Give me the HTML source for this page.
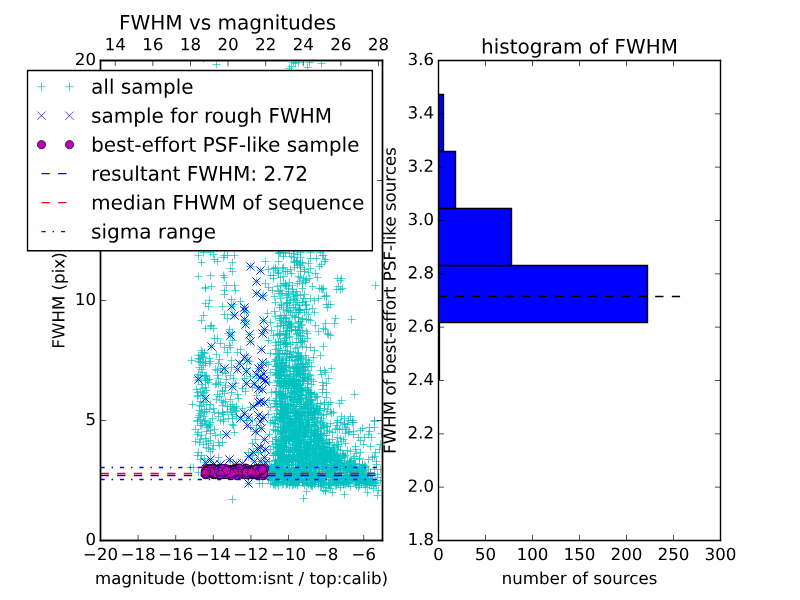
<!DOCTYPE html>
<html><head><meta charset="utf-8"><title>FWHM vs magnitudes</title>
<style>html,body{margin:0;padding:0;background:#fff;font-family:"Liberation Sans",sans-serif;}svg{display:block;}</style>
</head><body>
<svg width="800" height="600" viewBox="0 0 576 432" version="1.1">
 
 <defs><clipPath id="cax"><rect x="100.5" y="60.5" width="282" height="480"/></clipPath>
  <style type="text/css">*{stroke-linejoin: round; stroke-linecap: butt}</style>
 </defs>
 <g id="figure_1">
  <g id="patch_1">
   <path d="M 0 432 
L 576 432 
L 576 0 
L 0 0 
z
" style="fill: #ffffff"/>
  </g>
  <g id="axes_1">
   <g id="patch_2">
    <path d="M 72.36 389.16 
L 275.4 389.16 
L 275.4 43.56 
L 72.36 43.56 
z
" style="fill: #ffffff"/>
   </g>
   <defs>
     <path id="m5d0e172940" d="M -3 0 
L 3 0 
M 0 3 
L 0 -3 
" style="stroke: #00bfbf; stroke-width: 0.5"/>
    </defs><g transform="scale(0.72)"><g clip-path="url(#cax)" style="fill:none;stroke:#00bfbf;stroke-width:0.6944"><path d="M298.5 482.5h8M302.5 478.5v8"/><path d="M296.5 394.5h8M300.5 390.5v8"/><path d="M297.5 462.5h8M301.5 458.5v8"/><path d="M366.5 479.5h8M370.5 475.5v8"/><path d="M337.5 475.5h8M341.5 471.5v8"/><path d="M281.5 252.5h8M285.5 248.5v8"/><path d="M357.5 483.5h8M361.5 479.5v8"/><path d="M194.5 472.5h8M198.5 468.5v8"/><path d="M277.5 475.5h8M281.5 471.5v8"/><path d="M289.5 371.5h8M293.5 367.5v8"/><path d="M363.5 492.5h8M367.5 488.5v8"/><path d="M215.5 469.5h8M219.5 465.5v8"/><path d="M281.5 473.5h8M285.5 469.5v8"/><path d="M326.5 451.5h8M330.5 447.5v8"/><path d="M305.5 449.5h8M309.5 445.5v8"/><path d="M288.5 342.5h8M292.5 338.5v8"/><path d="M315.5 449.5h8M319.5 445.5v8"/><path d="M285.5 382.5h8M289.5 378.5v8"/><path d="M303.5 366.5h8M307.5 362.5v8"/><path d="M274.5 357.5h8M278.5 353.5v8"/><path d="M211.5 471.5h8M215.5 467.5v8"/><path d="M244.5 456.5h8M248.5 452.5v8"/><path d="M272.5 464.5h8M276.5 460.5v8"/><path d="M301.5 280.5h8M305.5 276.5v8"/><path d="M347.5 474.5h8M351.5 470.5v8"/><path d="M345.5 480.5h8M349.5 476.5v8"/><path d="M288.5 444.5h8M292.5 440.5v8"/><path d="M294.5 449.5h8M298.5 445.5v8"/><path d="M279.5 422.5h8M283.5 418.5v8"/><path d="M285.5 331.5h8M289.5 327.5v8"/><path d="M279.5 385.5h8M283.5 381.5v8"/><path d="M286.5 312.5h8M290.5 308.5v8"/><path d="M326.5 458.5h8M330.5 454.5v8"/><path d="M274.5 447.5h8M278.5 443.5v8"/><path d="M308.5 449.5h8M312.5 445.5v8"/><path d="M284.5 418.5h8M288.5 414.5v8"/><path d="M299.5 427.5h8M303.5 423.5v8"/><path d="M269.5 429.5h8M273.5 425.5v8"/><path d="M293.5 383.5h8M297.5 379.5v8"/><path d="M290.5 399.5h8M294.5 395.5v8"/><path d="M291.5 388.5h8M295.5 384.5v8"/><path d="M280.5 365.5h8M284.5 361.5v8"/><path d="M294.5 451.5h8M298.5 447.5v8"/><path d="M358.5 464.5h8M362.5 460.5v8"/><path d="M202.5 471.5h8M206.5 467.5v8"/><path d="M274.5 455.5h8M278.5 451.5v8"/><path d="M309.5 408.5h8M313.5 404.5v8"/><path d="M272.5 345.5h8M276.5 341.5v8"/><path d="M333.5 480.5h8M337.5 476.5v8"/><path d="M287.5 476.5h8M291.5 472.5v8"/><path d="M259.5 473.5h8M263.5 469.5v8"/><path d="M276.5 427.5h8M280.5 423.5v8"/><path d="M343.5 476.5h8M347.5 472.5v8"/><path d="M232.5 406.5h8M236.5 402.5v8"/><path d="M270.5 469.5h8M274.5 465.5v8"/><path d="M204.5 470.5h8M208.5 466.5v8"/><path d="M295.5 430.5h8M299.5 426.5v8"/><path d="M284.5 478.5h8M288.5 474.5v8"/><path d="M238.5 474.5h8M242.5 470.5v8"/><path d="M206.5 469.5h8M210.5 465.5v8"/><path d="M282.5 286.5h8M286.5 282.5v8"/><path d="M318.5 453.5h8M322.5 449.5v8"/><path d="M316.5 410.5h8M320.5 406.5v8"/><path d="M296.5 406.5h8M300.5 402.5v8"/><path d="M296.5 267.5h8M300.5 263.5v8"/><path d="M258.5 389.5h8M262.5 385.5v8"/><path d="M275.5 358.5h8M279.5 354.5v8"/><path d="M299.5 433.5h8M303.5 429.5v8"/><path d="M292.5 425.5h8M296.5 421.5v8"/><path d="M296.5 335.5h8M300.5 331.5v8"/><path d="M276.5 378.5h8M280.5 374.5v8"/><path d="M201.5 474.5h8M205.5 470.5v8"/><path d="M287.5 273.5h8M291.5 269.5v8"/><path d="M275.5 459.5h8M279.5 455.5v8"/><path d="M291.5 437.5h8M295.5 433.5v8"/><path d="M317.5 453.5h8M321.5 449.5v8"/><path d="M244.5 473.5h8M248.5 469.5v8"/><path d="M323.5 458.5h8M327.5 454.5v8"/><path d="M292.5 404.5h8M296.5 400.5v8"/><path d="M287.5 431.5h8M291.5 427.5v8"/><path d="M340.5 418.5h8M344.5 414.5v8"/><path d="M279.5 405.5h8M283.5 401.5v8"/><path d="M300.5 452.5h8M304.5 448.5v8"/><path d="M332.5 455.5h8M336.5 451.5v8"/><path d="M246.5 427.5h8M250.5 423.5v8"/><path d="M348.5 422.5h8M352.5 418.5v8"/><path d="M354.5 479.5h8M358.5 475.5v8"/><path d="M249.5 473.5h8M253.5 469.5v8"/><path d="M305.5 425.5h8M309.5 421.5v8"/><path d="M273.5 443.5h8M277.5 439.5v8"/><path d="M227.5 392.5h8M231.5 388.5v8"/><path d="M311.5 461.5h8M315.5 457.5v8"/><path d="M296.5 356.5h8M300.5 352.5v8"/><path d="M248.5 471.5h8M252.5 467.5v8"/><path d="M203.5 380.5h8M207.5 376.5v8"/><path d="M271.5 452.5h8M275.5 448.5v8"/><path d="M274.5 448.5h8M278.5 444.5v8"/><path d="M342.5 474.5h8M346.5 470.5v8"/><path d="M284.5 293.5h8M288.5 289.5v8"/><path d="M272.5 392.5h8M276.5 388.5v8"/><path d="M321.5 490.5h8M325.5 486.5v8"/><path d="M228.5 418.5h8M232.5 414.5v8"/><path d="M295.5 453.5h8M299.5 449.5v8"/><path d="M252.5 473.5h8M256.5 469.5v8"/><path d="M282.5 431.5h8M286.5 427.5v8"/><path d="M212.5 399.5h8M216.5 395.5v8"/><path d="M370.5 456.5h8M374.5 452.5v8"/><path d="M306.5 392.5h8M310.5 388.5v8"/><path d="M283.5 483.5h8M287.5 479.5v8"/><path d="M316.5 434.5h8M320.5 430.5v8"/><path d="M285.5 356.5h8M289.5 352.5v8"/><path d="M333.5 464.5h8M337.5 460.5v8"/><path d="M358.5 477.5h8M362.5 473.5v8"/><path d="M292.5 342.5h8M296.5 338.5v8"/><path d="M325.5 474.5h8M329.5 470.5v8"/><path d="M294.5 463.5h8M298.5 459.5v8"/><path d="M369.5 488.5h8M373.5 484.5v8"/><path d="M318.5 440.5h8M322.5 436.5v8"/><path d="M291.5 482.5h8M295.5 478.5v8"/><path d="M271.5 479.5h8M275.5 475.5v8"/><path d="M311.5 442.5h8M315.5 438.5v8"/><path d="M295.5 406.5h8M299.5 402.5v8"/><path d="M287.5 392.5h8M291.5 388.5v8"/><path d="M286.5 471.5h8M290.5 467.5v8"/><path d="M298.5 336.5h8M302.5 332.5v8"/><path d="M310.5 426.5h8M314.5 422.5v8"/><path d="M280.5 429.5h8M284.5 425.5v8"/><path d="M258.5 470.5h8M262.5 466.5v8"/><path d="M275.5 395.5h8M279.5 391.5v8"/><path d="M276.5 404.5h8M280.5 400.5v8"/><path d="M316.5 448.5h8M320.5 444.5v8"/><path d="M205.5 379.5h8M209.5 375.5v8"/><path d="M328.5 448.5h8M332.5 444.5v8"/><path d="M352.5 468.5h8M356.5 464.5v8"/><path d="M360.5 467.5h8M364.5 463.5v8"/><path d="M285.5 253.5h8M289.5 249.5v8"/><path d="M276.5 472.5h8M280.5 468.5v8"/><path d="M292.5 367.5h8M296.5 363.5v8"/><path d="M341.5 475.5h8M345.5 471.5v8"/><path d="M329.5 477.5h8M333.5 473.5v8"/><path d="M325.5 485.5h8M329.5 481.5v8"/><path d="M327.5 368.5h8M331.5 364.5v8"/><path d="M307.5 414.5h8M311.5 410.5v8"/><path d="M295.5 385.5h8M299.5 381.5v8"/><path d="M341.5 427.5h8M345.5 423.5v8"/><path d="M297.5 426.5h8M301.5 422.5v8"/><path d="M285.5 367.5h8M289.5 363.5v8"/><path d="M293.5 260.5h8M297.5 256.5v8"/><path d="M219.5 474.5h8M223.5 470.5v8"/><path d="M370.5 421.5h8M374.5 417.5v8"/><path d="M299.5 436.5h8M303.5 432.5v8"/><path d="M299.5 461.5h8M303.5 457.5v8"/><path d="M284.5 438.5h8M288.5 434.5v8"/><path d="M355.5 477.5h8M359.5 473.5v8"/><path d="M317.5 428.5h8M321.5 424.5v8"/><path d="M228.5 332.5h8M232.5 328.5v8"/><path d="M276.5 460.5h8M280.5 456.5v8"/><path d="M277.5 413.5h8M281.5 409.5v8"/><path d="M265.5 469.5h8M269.5 465.5v8"/><path d="M289.5 434.5h8M293.5 430.5v8"/><path d="M334.5 476.5h8M338.5 472.5v8"/><path d="M234.5 398.5h8M238.5 394.5v8"/><path d="M291.5 413.5h8M295.5 409.5v8"/><path d="M312.5 422.5h8M316.5 418.5v8"/><path d="M207.5 473.5h8M211.5 469.5v8"/><path d="M278.5 464.5h8M282.5 460.5v8"/><path d="M370.5 483.5h8M374.5 479.5v8"/><path d="M199.5 416.5h8M203.5 412.5v8"/><path d="M278.5 451.5h8M282.5 447.5v8"/><path d="M285.5 421.5h8M289.5 417.5v8"/><path d="M210.5 473.5h8M214.5 469.5v8"/><path d="M270.5 403.5h8M274.5 399.5v8"/><path d="M288.5 289.5h8M292.5 285.5v8"/><path d="M222.5 470.5h8M226.5 466.5v8"/><path d="M314.5 413.5h8M318.5 409.5v8"/><path d="M216.5 368.5h8M220.5 364.5v8"/><path d="M276.5 434.5h8M280.5 430.5v8"/><path d="M288.5 465.5h8M292.5 461.5v8"/><path d="M349.5 431.5h8M353.5 427.5v8"/><path d="M349.5 478.5h8M353.5 474.5v8"/><path d="M278.5 481.5h8M282.5 477.5v8"/><path d="M211.5 469.5h8M215.5 465.5v8"/><path d="M327.5 450.5h8M331.5 446.5v8"/><path d="M324.5 456.5h8M328.5 452.5v8"/><path d="M274.5 348.5h8M278.5 344.5v8"/><path d="M304.5 454.5h8M308.5 450.5v8"/><path d="M279.5 456.5h8M283.5 452.5v8"/><path d="M228.5 474.5h8M232.5 470.5v8"/><path d="M256.5 401.5h8M260.5 397.5v8"/><path d="M272.5 385.5h8M276.5 381.5v8"/><path d="M282.5 321.5h8M286.5 317.5v8"/><path d="M222.5 434.5h8M226.5 430.5v8"/><path d="M281.5 475.5h8M285.5 471.5v8"/><path d="M296.5 358.5h8M300.5 354.5v8"/><path d="M290.5 298.5h8M294.5 294.5v8"/><path d="M333.5 482.5h8M337.5 478.5v8"/><path d="M277.5 363.5h8M281.5 359.5v8"/><path d="M269.5 275.5h8M273.5 271.5v8"/><path d="M299.5 298.5h8M303.5 294.5v8"/><path d="M288.5 439.5h8M292.5 435.5v8"/><path d="M266.5 372.5h8M270.5 368.5v8"/><path d="M285.5 480.5h8M289.5 476.5v8"/><path d="M316.5 423.5h8M320.5 419.5v8"/><path d="M338.5 460.5h8M342.5 456.5v8"/><path d="M316.5 438.5h8M320.5 434.5v8"/><path d="M302.5 457.5h8M306.5 453.5v8"/><path d="M299.5 426.5h8M303.5 422.5v8"/><path d="M269.5 455.5h8M273.5 451.5v8"/><path d="M266.5 477.5h8M270.5 473.5v8"/><path d="M277.5 383.5h8M281.5 379.5v8"/><path d="M282.5 405.5h8M286.5 401.5v8"/><path d="M294.5 441.5h8M298.5 437.5v8"/><path d="M341.5 484.5h8M345.5 480.5v8"/><path d="M321.5 372.5h8M325.5 368.5v8"/><path d="M292.5 421.5h8M296.5 417.5v8"/><path d="M287.5 356.5h8M291.5 352.5v8"/><path d="M351.5 463.5h8M355.5 459.5v8"/><path d="M366.5 472.5h8M370.5 468.5v8"/><path d="M277.5 394.5h8M281.5 390.5v8"/><path d="M364.5 459.5h8M368.5 455.5v8"/><path d="M306.5 252.5h8M310.5 248.5v8"/><path d="M270.5 296.5h8M274.5 292.5v8"/><path d="M287.5 422.5h8M291.5 418.5v8"/><path d="M292.5 402.5h8M296.5 398.5v8"/><path d="M295.5 415.5h8M299.5 411.5v8"/><path d="M246.5 471.5h8M250.5 467.5v8"/><path d="M272.5 372.5h8M276.5 368.5v8"/><path d="M225.5 459.5h8M229.5 455.5v8"/><path d="M282.5 437.5h8M286.5 433.5v8"/><path d="M280.5 413.5h8M284.5 409.5v8"/><path d="M215.5 474.5h8M219.5 470.5v8"/><path d="M289.5 384.5h8M293.5 380.5v8"/><path d="M333.5 428.5h8M337.5 424.5v8"/><path d="M325.5 455.5h8M329.5 451.5v8"/><path d="M291.5 410.5h8M295.5 406.5v8"/><path d="M294.5 368.5h8M298.5 364.5v8"/><path d="M305.5 469.5h8M309.5 465.5v8"/><path d="M303.5 412.5h8M307.5 408.5v8"/><path d="M298.5 380.5h8M302.5 376.5v8"/><path d="M296.5 257.5h8M300.5 253.5v8"/><path d="M294.5 399.5h8M298.5 395.5v8"/><path d="M306.5 347.5h8M310.5 343.5v8"/><path d="M266.5 422.5h8M270.5 418.5v8"/><path d="M301.5 364.5h8M305.5 360.5v8"/><path d="M281.5 414.5h8M285.5 410.5v8"/><path d="M319.5 490.5h8M323.5 486.5v8"/><path d="M274.5 370.5h8M278.5 366.5v8"/><path d="M339.5 439.5h8M343.5 435.5v8"/><path d="M317.5 456.5h8M321.5 452.5v8"/><path d="M321.5 475.5h8M325.5 471.5v8"/><path d="M279.5 468.5h8M283.5 464.5v8"/><path d="M313.5 445.5h8M317.5 441.5v8"/><path d="M297.5 325.5h8M301.5 321.5v8"/><path d="M239.5 469.5h8M243.5 465.5v8"/><path d="M323.5 474.5h8M327.5 470.5v8"/><path d="M270.5 423.5h8M274.5 419.5v8"/><path d="M288.5 383.5h8M292.5 379.5v8"/><path d="M271.5 406.5h8M275.5 402.5v8"/><path d="M289.5 385.5h8M293.5 381.5v8"/><path d="M294.5 423.5h8M298.5 419.5v8"/><path d="M277.5 433.5h8M281.5 429.5v8"/><path d="M225.5 470.5h8M229.5 466.5v8"/><path d="M202.5 404.5h8M206.5 400.5v8"/><path d="M206.5 430.5h8M210.5 426.5v8"/><path d="M277.5 438.5h8M281.5 434.5v8"/><path d="M291.5 410.5h8M295.5 406.5v8"/><path d="M273.5 451.5h8M277.5 447.5v8"/><path d="M209.5 470.5h8M213.5 466.5v8"/><path d="M277.5 444.5h8M281.5 440.5v8"/><path d="M246.5 341.5h8M250.5 337.5v8"/><path d="M317.5 418.5h8M321.5 414.5v8"/><path d="M276.5 424.5h8M280.5 420.5v8"/><path d="M293.5 461.5h8M297.5 457.5v8"/><path d="M310.5 417.5h8M314.5 413.5v8"/><path d="M320.5 463.5h8M324.5 459.5v8"/><path d="M279.5 325.5h8M283.5 321.5v8"/><path d="M286.5 432.5h8M290.5 428.5v8"/><path d="M260.5 402.5h8M264.5 398.5v8"/><path d="M343.5 480.5h8M347.5 476.5v8"/><path d="M326.5 471.5h8M330.5 467.5v8"/><path d="M339.5 484.5h8M343.5 480.5v8"/><path d="M292.5 434.5h8M296.5 430.5v8"/><path d="M294.5 374.5h8M298.5 370.5v8"/><path d="M205.5 424.5h8M209.5 420.5v8"/><path d="M276.5 374.5h8M280.5 370.5v8"/><path d="M307.5 400.5h8M311.5 396.5v8"/><path d="M281.5 407.5h8M285.5 403.5v8"/><path d="M254.5 452.5h8M258.5 448.5v8"/><path d="M274.5 451.5h8M278.5 447.5v8"/><path d="M298.5 318.5h8M302.5 314.5v8"/><path d="M200.5 352.5h8M204.5 348.5v8"/><path d="M306.5 258.5h8M310.5 254.5v8"/><path d="M270.5 417.5h8M274.5 413.5v8"/><path d="M338.5 481.5h8M342.5 477.5v8"/><path d="M306.5 447.5h8M310.5 443.5v8"/><path d="M329.5 469.5h8M333.5 465.5v8"/><path d="M284.5 412.5h8M288.5 408.5v8"/><path d="M278.5 421.5h8M282.5 417.5v8"/><path d="M301.5 407.5h8M305.5 403.5v8"/><path d="M308.5 308.5h8M312.5 304.5v8"/><path d="M267.5 471.5h8M271.5 467.5v8"/><path d="M306.5 320.5h8M310.5 316.5v8"/><path d="M297.5 364.5h8M301.5 360.5v8"/><path d="M289.5 62.5h8M293.5 58.5v8"/><path d="M245.5 473.5h8M249.5 469.5v8"/><path d="M268.5 474.5h8M272.5 470.5v8"/><path d="M307.5 471.5h8M311.5 467.5v8"/><path d="M305.5 478.5h8M309.5 474.5v8"/><path d="M315.5 450.5h8M319.5 446.5v8"/><path d="M215.5 468.5h8M219.5 464.5v8"/><path d="M229.5 304.5h8M233.5 300.5v8"/><path d="M320.5 457.5h8M324.5 453.5v8"/><path d="M264.5 269.5h8M268.5 265.5v8"/><path d="M286.5 449.5h8M290.5 445.5v8"/><path d="M287.5 256.5h8M291.5 252.5v8"/><path d="M241.5 472.5h8M245.5 468.5v8"/><path d="M255.5 483.5h8M259.5 479.5v8"/><path d="M223.5 471.5h8M227.5 467.5v8"/><path d="M296.5 458.5h8M300.5 454.5v8"/><path d="M312.5 448.5h8M316.5 444.5v8"/><path d="M267.5 480.5h8M271.5 476.5v8"/><path d="M281.5 334.5h8M285.5 330.5v8"/><path d="M282.5 456.5h8M286.5 452.5v8"/><path d="M298.5 387.5h8M302.5 383.5v8"/><path d="M326.5 465.5h8M330.5 461.5v8"/><path d="M335.5 429.5h8M339.5 425.5v8"/><path d="M276.5 431.5h8M280.5 427.5v8"/><path d="M371.5 452.5h8M375.5 448.5v8"/><path d="M225.5 470.5h8M229.5 466.5v8"/><path d="M311.5 467.5h8M315.5 463.5v8"/><path d="M197.5 320.5h8M201.5 316.5v8"/><path d="M323.5 467.5h8M327.5 463.5v8"/><path d="M275.5 418.5h8M279.5 414.5v8"/><path d="M276.5 455.5h8M280.5 451.5v8"/><path d="M282.5 342.5h8M286.5 338.5v8"/><path d="M236.5 301.5h8M240.5 297.5v8"/><path d="M298.5 476.5h8M302.5 472.5v8"/><path d="M339.5 482.5h8M343.5 478.5v8"/><path d="M295.5 458.5h8M299.5 454.5v8"/><path d="M280.5 441.5h8M284.5 437.5v8"/><path d="M231.5 410.5h8M235.5 406.5v8"/><path d="M299.5 429.5h8M303.5 425.5v8"/><path d="M315.5 450.5h8M319.5 446.5v8"/><path d="M339.5 478.5h8M343.5 474.5v8"/><path d="M358.5 475.5h8M362.5 471.5v8"/><path d="M357.5 476.5h8M361.5 472.5v8"/><path d="M274.5 382.5h8M278.5 378.5v8"/><path d="M342.5 429.5h8M346.5 425.5v8"/><path d="M227.5 474.5h8M231.5 470.5v8"/><path d="M214.5 416.5h8M218.5 412.5v8"/><path d="M289.5 471.5h8M293.5 467.5v8"/><path d="M196.5 375.5h8M200.5 371.5v8"/><path d="M284.5 412.5h8M288.5 408.5v8"/><path d="M328.5 464.5h8M332.5 460.5v8"/><path d="M325.5 444.5h8M329.5 440.5v8"/><path d="M275.5 468.5h8M279.5 464.5v8"/><path d="M276.5 460.5h8M280.5 456.5v8"/><path d="M301.5 366.5h8M305.5 362.5v8"/><path d="M292.5 452.5h8M296.5 448.5v8"/><path d="M279.5 331.5h8M283.5 327.5v8"/><path d="M276.5 333.5h8M280.5 329.5v8"/><path d="M298.5 380.5h8M302.5 376.5v8"/><path d="M320.5 447.5h8M324.5 443.5v8"/><path d="M302.5 397.5h8M306.5 393.5v8"/><path d="M302.5 467.5h8M306.5 463.5v8"/><path d="M226.5 347.5h8M230.5 343.5v8"/><path d="M297.5 395.5h8M301.5 391.5v8"/><path d="M343.5 424.5h8M347.5 420.5v8"/><path d="M351.5 474.5h8M355.5 470.5v8"/><path d="M303.5 402.5h8M307.5 398.5v8"/><path d="M314.5 476.5h8M318.5 472.5v8"/><path d="M278.5 456.5h8M282.5 452.5v8"/><path d="M322.5 457.5h8M326.5 453.5v8"/><path d="M299.5 447.5h8M303.5 443.5v8"/><path d="M214.5 413.5h8M218.5 409.5v8"/><path d="M320.5 466.5h8M324.5 462.5v8"/><path d="M274.5 272.5h8M278.5 268.5v8"/><path d="M214.5 473.5h8M218.5 469.5v8"/><path d="M305.5 401.5h8M309.5 397.5v8"/><path d="M312.5 466.5h8M316.5 462.5v8"/><path d="M252.5 293.5h8M256.5 289.5v8"/><path d="M290.5 406.5h8M294.5 402.5v8"/><path d="M209.5 474.5h8M213.5 470.5v8"/><path d="M206.5 440.5h8M210.5 436.5v8"/><path d="M247.5 472.5h8M251.5 468.5v8"/><path d="M275.5 394.5h8M279.5 390.5v8"/><path d="M211.5 474.5h8M215.5 470.5v8"/><path d="M323.5 430.5h8M327.5 426.5v8"/><path d="M238.5 473.5h8M242.5 469.5v8"/><path d="M337.5 475.5h8M341.5 471.5v8"/><path d="M317.5 63.5h8M321.5 59.5v8"/><path d="M323.5 451.5h8M327.5 447.5v8"/><path d="M292.5 468.5h8M296.5 464.5v8"/><path d="M303.5 463.5h8M307.5 459.5v8"/><path d="M302.5 419.5h8M306.5 415.5v8"/><path d="M272.5 354.5h8M276.5 350.5v8"/><path d="M303.5 424.5h8M307.5 420.5v8"/><path d="M319.5 458.5h8M323.5 454.5v8"/><path d="M313.5 421.5h8M317.5 417.5v8"/><path d="M304.5 476.5h8M308.5 472.5v8"/><path d="M217.5 474.5h8M221.5 470.5v8"/><path d="M307.5 430.5h8M311.5 426.5v8"/><path d="M296.5 472.5h8M300.5 468.5v8"/><path d="M269.5 268.5h8M273.5 264.5v8"/><path d="M285.5 384.5h8M289.5 380.5v8"/><path d="M219.5 469.5h8M223.5 465.5v8"/><path d="M302.5 422.5h8M306.5 418.5v8"/><path d="M203.5 474.5h8M207.5 470.5v8"/><path d="M211.5 384.5h8M215.5 380.5v8"/><path d="M279.5 283.5h8M283.5 279.5v8"/><path d="M307.5 472.5h8M311.5 468.5v8"/><path d="M212.5 64.5h8M216.5 60.5v8"/><path d="M319.5 328.5h8M323.5 324.5v8"/><path d="M313.5 459.5h8M317.5 455.5v8"/><path d="M295.5 459.5h8M299.5 455.5v8"/><path d="M330.5 466.5h8M334.5 462.5v8"/><path d="M294.5 321.5h8M298.5 317.5v8"/><path d="M309.5 410.5h8M313.5 406.5v8"/><path d="M302.5 491.5h8M306.5 487.5v8"/><path d="M312.5 473.5h8M316.5 469.5v8"/><path d="M296.5 374.5h8M300.5 370.5v8"/><path d="M253.5 473.5h8M257.5 469.5v8"/><path d="M331.5 468.5h8M335.5 464.5v8"/><path d="M286.5 419.5h8M290.5 415.5v8"/><path d="M283.5 397.5h8M287.5 393.5v8"/><path d="M332.5 481.5h8M336.5 477.5v8"/><path d="M271.5 460.5h8M275.5 456.5v8"/><path d="M289.5 469.5h8M293.5 465.5v8"/><path d="M311.5 482.5h8M315.5 478.5v8"/><path d="M326.5 402.5h8M330.5 398.5v8"/><path d="M284.5 439.5h8M288.5 435.5v8"/><path d="M324.5 450.5h8M328.5 446.5v8"/><path d="M204.5 306.5h8M208.5 302.5v8"/><path d="M292.5 385.5h8M296.5 381.5v8"/><path d="M309.5 457.5h8M313.5 453.5v8"/><path d="M206.5 433.5h8M210.5 429.5v8"/><path d="M365.5 481.5h8M369.5 477.5v8"/><path d="M281.5 318.5h8M285.5 314.5v8"/><path d="M243.5 471.5h8M247.5 467.5v8"/><path d="M226.5 471.5h8M230.5 467.5v8"/><path d="M256.5 461.5h8M260.5 457.5v8"/><path d="M313.5 277.5h8M317.5 273.5v8"/><path d="M328.5 459.5h8M332.5 455.5v8"/><path d="M308.5 417.5h8M312.5 413.5v8"/><path d="M354.5 481.5h8M358.5 477.5v8"/><path d="M282.5 378.5h8M286.5 374.5v8"/><path d="M296.5 395.5h8M300.5 391.5v8"/><path d="M199.5 444.5h8M203.5 440.5v8"/><path d="M293.5 412.5h8M297.5 408.5v8"/><path d="M280.5 446.5h8M284.5 442.5v8"/><path d="M301.5 406.5h8M305.5 402.5v8"/><path d="M334.5 482.5h8M338.5 478.5v8"/><path d="M261.5 462.5h8M265.5 458.5v8"/><path d="M346.5 461.5h8M350.5 457.5v8"/><path d="M290.5 480.5h8M294.5 476.5v8"/><path d="M358.5 465.5h8M362.5 461.5v8"/><path d="M195.5 410.5h8M199.5 406.5v8"/><path d="M228.5 314.5h8M232.5 310.5v8"/><path d="M307.5 399.5h8M311.5 395.5v8"/><path d="M272.5 416.5h8M276.5 412.5v8"/><path d="M286.5 423.5h8M290.5 419.5v8"/><path d="M310.5 440.5h8M314.5 436.5v8"/><path d="M230.5 407.5h8M234.5 403.5v8"/><path d="M208.5 449.5h8M212.5 445.5v8"/><path d="M324.5 378.5h8M328.5 374.5v8"/><path d="M264.5 340.5h8M268.5 336.5v8"/><path d="M301.5 471.5h8M305.5 467.5v8"/><path d="M282.5 408.5h8M286.5 404.5v8"/><path d="M289.5 299.5h8M293.5 295.5v8"/><path d="M198.5 372.5h8M202.5 368.5v8"/><path d="M315.5 266.5h8M319.5 262.5v8"/><path d="M306.5 393.5h8M310.5 389.5v8"/><path d="M319.5 288.5h8M323.5 284.5v8"/><path d="M302.5 464.5h8M306.5 460.5v8"/><path d="M257.5 473.5h8M261.5 469.5v8"/><path d="M246.5 471.5h8M250.5 467.5v8"/><path d="M286.5 447.5h8M290.5 443.5v8"/><path d="M294.5 441.5h8M298.5 437.5v8"/><path d="M297.5 389.5h8M301.5 385.5v8"/><path d="M206.5 326.5h8M210.5 322.5v8"/><path d="M339.5 468.5h8M343.5 464.5v8"/><path d="M266.5 470.5h8M270.5 466.5v8"/><path d="M283.5 327.5h8M287.5 323.5v8"/><path d="M294.5 444.5h8M298.5 440.5v8"/><path d="M294.5 360.5h8M298.5 356.5v8"/><path d="M274.5 374.5h8M278.5 370.5v8"/><path d="M276.5 417.5h8M280.5 413.5v8"/><path d="M277.5 459.5h8M281.5 455.5v8"/><path d="M284.5 294.5h8M288.5 290.5v8"/><path d="M218.5 390.5h8M222.5 386.5v8"/><path d="M193.5 420.5h8M197.5 416.5v8"/><path d="M292.5 366.5h8M296.5 362.5v8"/><path d="M336.5 482.5h8M340.5 478.5v8"/><path d="M305.5 374.5h8M309.5 370.5v8"/><path d="M297.5 401.5h8M301.5 397.5v8"/><path d="M282.5 337.5h8M286.5 333.5v8"/><path d="M248.5 471.5h8M252.5 467.5v8"/><path d="M293.5 372.5h8M297.5 368.5v8"/><path d="M285.5 462.5h8M289.5 458.5v8"/><path d="M291.5 398.5h8M295.5 394.5v8"/><path d="M340.5 468.5h8M344.5 464.5v8"/><path d="M333.5 422.5h8M337.5 418.5v8"/><path d="M219.5 469.5h8M223.5 465.5v8"/><path d="M307.5 422.5h8M311.5 418.5v8"/><path d="M277.5 463.5h8M281.5 459.5v8"/><path d="M296.5 295.5h8M300.5 291.5v8"/><path d="M371.5 285.5h8M375.5 281.5v8"/><path d="M189.5 467.5h8M193.5 463.5v8"/><path d="M353.5 473.5h8M357.5 469.5v8"/><path d="M294.5 459.5h8M298.5 455.5v8"/><path d="M322.5 304.5h8M326.5 300.5v8"/><path d="M269.5 455.5h8M273.5 451.5v8"/><path d="M333.5 474.5h8M337.5 470.5v8"/><path d="M318.5 483.5h8M322.5 479.5v8"/><path d="M249.5 470.5h8M253.5 466.5v8"/><path d="M307.5 399.5h8M311.5 395.5v8"/><path d="M280.5 417.5h8M284.5 413.5v8"/><path d="M261.5 261.5h8M265.5 257.5v8"/><path d="M279.5 276.5h8M283.5 272.5v8"/><path d="M209.5 468.5h8M213.5 464.5v8"/><path d="M283.5 411.5h8M287.5 407.5v8"/><path d="M274.5 391.5h8M278.5 387.5v8"/><path d="M225.5 472.5h8M229.5 468.5v8"/><path d="M298.5 475.5h8M302.5 471.5v8"/><path d="M210.5 338.5h8M214.5 334.5v8"/><path d="M318.5 469.5h8M322.5 465.5v8"/><path d="M357.5 482.5h8M361.5 478.5v8"/><path d="M308.5 432.5h8M312.5 428.5v8"/><path d="M331.5 469.5h8M335.5 465.5v8"/><path d="M302.5 473.5h8M306.5 469.5v8"/><path d="M313.5 463.5h8M317.5 459.5v8"/><path d="M274.5 354.5h8M278.5 350.5v8"/><path d="M356.5 479.5h8M360.5 475.5v8"/><path d="M276.5 372.5h8M280.5 368.5v8"/><path d="M285.5 282.5h8M289.5 278.5v8"/><path d="M192.5 389.5h8M196.5 385.5v8"/><path d="M265.5 382.5h8M269.5 378.5v8"/><path d="M310.5 430.5h8M314.5 426.5v8"/><path d="M274.5 448.5h8M278.5 444.5v8"/><path d="M283.5 297.5h8M287.5 293.5v8"/><path d="M243.5 473.5h8M247.5 469.5v8"/><path d="M279.5 428.5h8M283.5 424.5v8"/><path d="M318.5 457.5h8M322.5 453.5v8"/><path d="M281.5 466.5h8M285.5 462.5v8"/><path d="M305.5 278.5h8M309.5 274.5v8"/><path d="M343.5 470.5h8M347.5 466.5v8"/><path d="M331.5 470.5h8M335.5 466.5v8"/><path d="M202.5 424.5h8M206.5 420.5v8"/><path d="M335.5 475.5h8M339.5 471.5v8"/><path d="M275.5 393.5h8M279.5 389.5v8"/><path d="M306.5 445.5h8M310.5 441.5v8"/><path d="M288.5 459.5h8M292.5 455.5v8"/><path d="M353.5 474.5h8M357.5 470.5v8"/><path d="M329.5 412.5h8M333.5 408.5v8"/><path d="M254.5 368.5h8M258.5 364.5v8"/><path d="M238.5 463.5h8M242.5 459.5v8"/><path d="M292.5 379.5h8M296.5 375.5v8"/><path d="M294.5 317.5h8M298.5 313.5v8"/><path d="M302.5 408.5h8M306.5 404.5v8"/><path d="M315.5 445.5h8M319.5 441.5v8"/><path d="M275.5 378.5h8M279.5 374.5v8"/><path d="M318.5 255.5h8M322.5 251.5v8"/><path d="M281.5 386.5h8M285.5 382.5v8"/><path d="M271.5 479.5h8M275.5 475.5v8"/><path d="M352.5 485.5h8M356.5 481.5v8"/><path d="M294.5 456.5h8M298.5 452.5v8"/><path d="M284.5 405.5h8M288.5 401.5v8"/><path d="M297.5 439.5h8M301.5 435.5v8"/><path d="M200.5 458.5h8M204.5 454.5v8"/><path d="M296.5 428.5h8M300.5 424.5v8"/><path d="M293.5 485.5h8M297.5 481.5v8"/><path d="M295.5 327.5h8M299.5 323.5v8"/><path d="M223.5 406.5h8M227.5 402.5v8"/><path d="M229.5 378.5h8M233.5 374.5v8"/><path d="M220.5 474.5h8M224.5 470.5v8"/><path d="M301.5 406.5h8M305.5 402.5v8"/><path d="M304.5 484.5h8M308.5 480.5v8"/><path d="M284.5 413.5h8M288.5 409.5v8"/><path d="M277.5 362.5h8M281.5 358.5v8"/><path d="M213.5 469.5h8M217.5 465.5v8"/><path d="M290.5 418.5h8M294.5 414.5v8"/><path d="M222.5 471.5h8M226.5 467.5v8"/><path d="M279.5 365.5h8M283.5 361.5v8"/><path d="M285.5 322.5h8M289.5 318.5v8"/><path d="M265.5 476.5h8M269.5 472.5v8"/><path d="M278.5 421.5h8M282.5 417.5v8"/><path d="M280.5 369.5h8M284.5 365.5v8"/><path d="M290.5 368.5h8M294.5 364.5v8"/><path d="M280.5 375.5h8M284.5 371.5v8"/><path d="M336.5 422.5h8M340.5 418.5v8"/><path d="M280.5 439.5h8M284.5 435.5v8"/><path d="M289.5 379.5h8M293.5 375.5v8"/><path d="M298.5 473.5h8M302.5 469.5v8"/><path d="M306.5 402.5h8M310.5 398.5v8"/><path d="M309.5 461.5h8M313.5 457.5v8"/><path d="M202.5 447.5h8M206.5 443.5v8"/><path d="M342.5 465.5h8M346.5 461.5v8"/><path d="M292.5 482.5h8M296.5 478.5v8"/><path d="M222.5 474.5h8M226.5 470.5v8"/><path d="M306.5 435.5h8M310.5 431.5v8"/><path d="M309.5 432.5h8M313.5 428.5v8"/><path d="M197.5 455.5h8M201.5 451.5v8"/><path d="M295.5 478.5h8M299.5 474.5v8"/><path d="M301.5 404.5h8M305.5 400.5v8"/><path d="M304.5 263.5h8M308.5 259.5v8"/><path d="M365.5 427.5h8M369.5 423.5v8"/><path d="M277.5 447.5h8M281.5 443.5v8"/><path d="M309.5 438.5h8M313.5 434.5v8"/><path d="M282.5 443.5h8M286.5 439.5v8"/><path d="M248.5 443.5h8M252.5 439.5v8"/><path d="M222.5 285.5h8M226.5 281.5v8"/><path d="M323.5 461.5h8M327.5 457.5v8"/><path d="M376.5 480.5h8M380.5 476.5v8"/><path d="M297.5 421.5h8M301.5 417.5v8"/><path d="M292.5 473.5h8M296.5 469.5v8"/><path d="M291.5 294.5h8M295.5 290.5v8"/><path d="M296.5 363.5h8M300.5 359.5v8"/><path d="M223.5 473.5h8M227.5 469.5v8"/><path d="M282.5 460.5h8M286.5 456.5v8"/><path d="M321.5 461.5h8M325.5 457.5v8"/><path d="M345.5 467.5h8M349.5 463.5v8"/><path d="M292.5 431.5h8M296.5 427.5v8"/><path d="M267.5 330.5h8M271.5 326.5v8"/><path d="M307.5 465.5h8M311.5 461.5v8"/><path d="M286.5 409.5h8M290.5 405.5v8"/><path d="M292.5 392.5h8M296.5 388.5v8"/><path d="M296.5 413.5h8M300.5 409.5v8"/><path d="M352.5 480.5h8M356.5 476.5v8"/><path d="M203.5 379.5h8M207.5 375.5v8"/><path d="M281.5 469.5h8M285.5 465.5v8"/><path d="M317.5 288.5h8M321.5 284.5v8"/><path d="M323.5 307.5h8M327.5 303.5v8"/><path d="M339.5 466.5h8M343.5 462.5v8"/><path d="M316.5 355.5h8M320.5 351.5v8"/><path d="M360.5 483.5h8M364.5 479.5v8"/><path d="M301.5 398.5h8M305.5 394.5v8"/><path d="M296.5 470.5h8M300.5 466.5v8"/><path d="M229.5 471.5h8M233.5 467.5v8"/><path d="M282.5 318.5h8M286.5 314.5v8"/><path d="M301.5 434.5h8M305.5 430.5v8"/><path d="M280.5 376.5h8M284.5 372.5v8"/><path d="M206.5 451.5h8M210.5 447.5v8"/><path d="M286.5 481.5h8M290.5 477.5v8"/><path d="M268.5 468.5h8M272.5 464.5v8"/><path d="M364.5 434.5h8M368.5 430.5v8"/><path d="M224.5 469.5h8M228.5 465.5v8"/><path d="M271.5 302.5h8M275.5 298.5v8"/><path d="M313.5 453.5h8M317.5 449.5v8"/><path d="M329.5 449.5h8M333.5 445.5v8"/><path d="M332.5 478.5h8M336.5 474.5v8"/><path d="M228.5 424.5h8M232.5 420.5v8"/><path d="M324.5 474.5h8M328.5 470.5v8"/><path d="M316.5 458.5h8M320.5 454.5v8"/><path d="M287.5 396.5h8M291.5 392.5v8"/><path d="M320.5 370.5h8M324.5 366.5v8"/><path d="M193.5 421.5h8M197.5 417.5v8"/><path d="M230.5 255.5h8M234.5 251.5v8"/><path d="M242.5 473.5h8M246.5 469.5v8"/><path d="M298.5 425.5h8M302.5 421.5v8"/><path d="M284.5 378.5h8M288.5 374.5v8"/><path d="M311.5 414.5h8M315.5 410.5v8"/><path d="M226.5 375.5h8M230.5 371.5v8"/><path d="M323.5 452.5h8M327.5 448.5v8"/><path d="M308.5 454.5h8M312.5 450.5v8"/><path d="M230.5 472.5h8M234.5 468.5v8"/><path d="M287.5 429.5h8M291.5 425.5v8"/><path d="M205.5 358.5h8M209.5 354.5v8"/><path d="M313.5 431.5h8M317.5 427.5v8"/><path d="M331.5 485.5h8M335.5 481.5v8"/><path d="M271.5 454.5h8M275.5 450.5v8"/><path d="M299.5 482.5h8M303.5 478.5v8"/><path d="M241.5 471.5h8M245.5 467.5v8"/><path d="M284.5 412.5h8M288.5 408.5v8"/><path d="M281.5 429.5h8M285.5 425.5v8"/><path d="M317.5 264.5h8M321.5 260.5v8"/><path d="M302.5 470.5h8M306.5 466.5v8"/><path d="M298.5 453.5h8M302.5 449.5v8"/><path d="M247.5 474.5h8M251.5 470.5v8"/><path d="M325.5 442.5h8M329.5 438.5v8"/><path d="M288.5 440.5h8M292.5 436.5v8"/><path d="M326.5 470.5h8M330.5 466.5v8"/><path d="M279.5 471.5h8M283.5 467.5v8"/><path d="M209.5 254.5h8M213.5 250.5v8"/><path d="M325.5 442.5h8M329.5 438.5v8"/><path d="M337.5 462.5h8M341.5 458.5v8"/><path d="M199.5 393.5h8M203.5 389.5v8"/><path d="M283.5 461.5h8M287.5 457.5v8"/><path d="M321.5 476.5h8M325.5 472.5v8"/><path d="M322.5 454.5h8M326.5 450.5v8"/><path d="M341.5 469.5h8M345.5 465.5v8"/><path d="M312.5 440.5h8M316.5 436.5v8"/><path d="M282.5 427.5h8M286.5 423.5v8"/><path d="M316.5 370.5h8M320.5 366.5v8"/><path d="M286.5 480.5h8M290.5 476.5v8"/><path d="M197.5 411.5h8M201.5 407.5v8"/><path d="M272.5 477.5h8M276.5 473.5v8"/><path d="M297.5 419.5h8M301.5 415.5v8"/><path d="M300.5 447.5h8M304.5 443.5v8"/><path d="M329.5 461.5h8M333.5 457.5v8"/><path d="M252.5 468.5h8M256.5 464.5v8"/><path d="M293.5 438.5h8M297.5 434.5v8"/><path d="M282.5 382.5h8M286.5 378.5v8"/><path d="M280.5 340.5h8M284.5 336.5v8"/><path d="M355.5 482.5h8M359.5 478.5v8"/><path d="M216.5 472.5h8M220.5 468.5v8"/><path d="M292.5 356.5h8M296.5 352.5v8"/><path d="M242.5 312.5h8M246.5 308.5v8"/><path d="M277.5 293.5h8M281.5 289.5v8"/><path d="M311.5 435.5h8M315.5 431.5v8"/><path d="M307.5 384.5h8M311.5 380.5v8"/><path d="M201.5 474.5h8M205.5 470.5v8"/><path d="M298.5 480.5h8M302.5 476.5v8"/><path d="M350.5 472.5h8M354.5 468.5v8"/><path d="M322.5 476.5h8M326.5 472.5v8"/><path d="M188.5 404.5h8M192.5 400.5v8"/><path d="M272.5 398.5h8M276.5 394.5v8"/><path d="M350.5 464.5h8M354.5 460.5v8"/><path d="M266.5 469.5h8M270.5 465.5v8"/><path d="M311.5 397.5h8M315.5 393.5v8"/><path d="M358.5 479.5h8M362.5 475.5v8"/><path d="M254.5 473.5h8M258.5 469.5v8"/><path d="M204.5 443.5h8M208.5 439.5v8"/><path d="M280.5 479.5h8M284.5 475.5v8"/><path d="M202.5 411.5h8M206.5 407.5v8"/><path d="M319.5 451.5h8M323.5 447.5v8"/><path d="M354.5 483.5h8M358.5 479.5v8"/><path d="M354.5 437.5h8M358.5 433.5v8"/><path d="M368.5 479.5h8M372.5 475.5v8"/><path d="M241.5 471.5h8M245.5 467.5v8"/><path d="M307.5 436.5h8M311.5 432.5v8"/><path d="M284.5 436.5h8M288.5 432.5v8"/><path d="M203.5 471.5h8M207.5 467.5v8"/><path d="M317.5 473.5h8M321.5 469.5v8"/><path d="M264.5 414.5h8M268.5 410.5v8"/><path d="M275.5 419.5h8M279.5 415.5v8"/><path d="M306.5 375.5h8M310.5 371.5v8"/><path d="M300.5 269.5h8M304.5 265.5v8"/><path d="M375.5 449.5h8M379.5 445.5v8"/><path d="M306.5 268.5h8M310.5 264.5v8"/><path d="M292.5 432.5h8M296.5 428.5v8"/><path d="M306.5 298.5h8M310.5 294.5v8"/><path d="M285.5 471.5h8M289.5 467.5v8"/><path d="M278.5 370.5h8M282.5 366.5v8"/><path d="M222.5 469.5h8M226.5 465.5v8"/><path d="M290.5 410.5h8M294.5 406.5v8"/><path d="M272.5 474.5h8M276.5 470.5v8"/><path d="M286.5 452.5h8M290.5 448.5v8"/><path d="M308.5 486.5h8M312.5 482.5v8"/><path d="M316.5 420.5h8M320.5 416.5v8"/><path d="M213.5 375.5h8M217.5 371.5v8"/><path d="M273.5 381.5h8M277.5 377.5v8"/><path d="M373.5 477.5h8M377.5 473.5v8"/><path d="M359.5 444.5h8M363.5 440.5v8"/><path d="M277.5 475.5h8M281.5 471.5v8"/><path d="M290.5 420.5h8M294.5 416.5v8"/><path d="M292.5 375.5h8M296.5 371.5v8"/><path d="M298.5 436.5h8M302.5 432.5v8"/><path d="M314.5 429.5h8M318.5 425.5v8"/><path d="M309.5 478.5h8M313.5 474.5v8"/><path d="M355.5 466.5h8M359.5 462.5v8"/><path d="M212.5 473.5h8M216.5 469.5v8"/><path d="M300.5 341.5h8M304.5 337.5v8"/><path d="M320.5 484.5h8M324.5 480.5v8"/><path d="M292.5 388.5h8M296.5 384.5v8"/><path d="M291.5 422.5h8M295.5 418.5v8"/><path d="M296.5 335.5h8M300.5 331.5v8"/><path d="M212.5 383.5h8M216.5 379.5v8"/><path d="M281.5 333.5h8M285.5 329.5v8"/><path d="M343.5 467.5h8M347.5 463.5v8"/><path d="M199.5 365.5h8M203.5 361.5v8"/><path d="M282.5 343.5h8M286.5 339.5v8"/><path d="M326.5 467.5h8M330.5 463.5v8"/><path d="M264.5 479.5h8M268.5 475.5v8"/><path d="M196.5 459.5h8M200.5 455.5v8"/><path d="M314.5 457.5h8M318.5 453.5v8"/><path d="M306.5 414.5h8M310.5 410.5v8"/><path d="M307.5 466.5h8M311.5 462.5v8"/><path d="M302.5 459.5h8M306.5 455.5v8"/><path d="M207.5 325.5h8M211.5 321.5v8"/><path d="M194.5 452.5h8M198.5 448.5v8"/><path d="M274.5 463.5h8M278.5 459.5v8"/><path d="M289.5 296.5h8M293.5 292.5v8"/><path d="M292.5 419.5h8M296.5 415.5v8"/><path d="M294.5 370.5h8M298.5 366.5v8"/><path d="M282.5 447.5h8M286.5 443.5v8"/><path d="M280.5 338.5h8M284.5 334.5v8"/><path d="M321.5 323.5h8M325.5 319.5v8"/><path d="M285.5 378.5h8M289.5 374.5v8"/><path d="M292.5 477.5h8M296.5 473.5v8"/><path d="M333.5 467.5h8M337.5 463.5v8"/><path d="M287.5 467.5h8M291.5 463.5v8"/><path d="M292.5 434.5h8M296.5 430.5v8"/><path d="M356.5 452.5h8M360.5 448.5v8"/><path d="M273.5 270.5h8M277.5 266.5v8"/><path d="M300.5 474.5h8M304.5 470.5v8"/><path d="M275.5 334.5h8M279.5 330.5v8"/><path d="M343.5 463.5h8M347.5 459.5v8"/><path d="M286.5 457.5h8M290.5 453.5v8"/><path d="M273.5 465.5h8M277.5 461.5v8"/><path d="M286.5 482.5h8M290.5 478.5v8"/><path d="M278.5 462.5h8M282.5 458.5v8"/><path d="M311.5 475.5h8M315.5 471.5v8"/><path d="M254.5 402.5h8M258.5 398.5v8"/><path d="M273.5 410.5h8M277.5 406.5v8"/><path d="M308.5 465.5h8M312.5 461.5v8"/><path d="M302.5 450.5h8M306.5 446.5v8"/><path d="M289.5 432.5h8M293.5 428.5v8"/><path d="M284.5 460.5h8M288.5 456.5v8"/><path d="M290.5 261.5h8M294.5 257.5v8"/><path d="M290.5 438.5h8M294.5 434.5v8"/><path d="M354.5 479.5h8M358.5 475.5v8"/><path d="M304.5 409.5h8M308.5 405.5v8"/><path d="M249.5 470.5h8M253.5 466.5v8"/><path d="M291.5 308.5h8M295.5 304.5v8"/><path d="M299.5 381.5h8M303.5 377.5v8"/><path d="M319.5 446.5h8M323.5 442.5v8"/><path d="M254.5 415.5h8M258.5 411.5v8"/><path d="M279.5 386.5h8M283.5 382.5v8"/><path d="M290.5 379.5h8M294.5 375.5v8"/><path d="M299.5 377.5h8M303.5 373.5v8"/><path d="M302.5 331.5h8M306.5 327.5v8"/><path d="M277.5 394.5h8M281.5 390.5v8"/><path d="M292.5 387.5h8M296.5 383.5v8"/><path d="M244.5 470.5h8M248.5 466.5v8"/><path d="M280.5 353.5h8M284.5 349.5v8"/><path d="M356.5 440.5h8M360.5 436.5v8"/><path d="M377.5 433.5h8M381.5 429.5v8"/><path d="M268.5 480.5h8M272.5 476.5v8"/><path d="M278.5 449.5h8M282.5 445.5v8"/><path d="M337.5 441.5h8M341.5 437.5v8"/><path d="M276.5 409.5h8M280.5 405.5v8"/><path d="M341.5 475.5h8M345.5 471.5v8"/><path d="M276.5 452.5h8M280.5 448.5v8"/><path d="M310.5 477.5h8M314.5 473.5v8"/><path d="M280.5 366.5h8M284.5 362.5v8"/><path d="M291.5 447.5h8M295.5 443.5v8"/><path d="M341.5 433.5h8M345.5 429.5v8"/><path d="M253.5 448.5h8M257.5 444.5v8"/><path d="M202.5 468.5h8M206.5 464.5v8"/><path d="M279.5 427.5h8M283.5 423.5v8"/><path d="M243.5 425.5h8M247.5 421.5v8"/><path d="M275.5 353.5h8M279.5 349.5v8"/><path d="M294.5 427.5h8M298.5 423.5v8"/><path d="M296.5 433.5h8M300.5 429.5v8"/><path d="M197.5 425.5h8M201.5 421.5v8"/><path d="M333.5 437.5h8M337.5 433.5v8"/><path d="M276.5 470.5h8M280.5 466.5v8"/><path d="M284.5 409.5h8M288.5 405.5v8"/><path d="M272.5 465.5h8M276.5 461.5v8"/><path d="M282.5 456.5h8M286.5 452.5v8"/><path d="M279.5 321.5h8M283.5 317.5v8"/><path d="M283.5 483.5h8M287.5 479.5v8"/><path d="M233.5 469.5h8M237.5 465.5v8"/><path d="M298.5 262.5h8M302.5 258.5v8"/><path d="M274.5 261.5h8M278.5 257.5v8"/><path d="M206.5 361.5h8M210.5 357.5v8"/><path d="M275.5 469.5h8M279.5 465.5v8"/><path d="M258.5 362.5h8M262.5 358.5v8"/><path d="M298.5 288.5h8M302.5 284.5v8"/><path d="M206.5 459.5h8M210.5 455.5v8"/><path d="M289.5 461.5h8M293.5 457.5v8"/><path d="M291.5 418.5h8M295.5 414.5v8"/><path d="M330.5 463.5h8M334.5 459.5v8"/><path d="M365.5 484.5h8M369.5 480.5v8"/><path d="M341.5 472.5h8M345.5 468.5v8"/><path d="M280.5 451.5h8M284.5 447.5v8"/><path d="M301.5 457.5h8M305.5 453.5v8"/><path d="M276.5 450.5h8M280.5 446.5v8"/><path d="M256.5 447.5h8M260.5 443.5v8"/><path d="M271.5 453.5h8M275.5 449.5v8"/><path d="M239.5 473.5h8M243.5 469.5v8"/><path d="M318.5 449.5h8M322.5 445.5v8"/><path d="M283.5 271.5h8M287.5 267.5v8"/><path d="M282.5 381.5h8M286.5 377.5v8"/><path d="M297.5 449.5h8M301.5 445.5v8"/><path d="M201.5 473.5h8M205.5 469.5v8"/><path d="M277.5 366.5h8M281.5 362.5v8"/><path d="M278.5 391.5h8M282.5 387.5v8"/><path d="M304.5 272.5h8M308.5 268.5v8"/><path d="M289.5 373.5h8M293.5 369.5v8"/><path d="M196.5 359.5h8M200.5 355.5v8"/><path d="M243.5 360.5h8M247.5 356.5v8"/><path d="M258.5 469.5h8M262.5 465.5v8"/><path d="M259.5 417.5h8M263.5 413.5v8"/><path d="M295.5 440.5h8M299.5 436.5v8"/><path d="M209.5 464.5h8M213.5 460.5v8"/><path d="M202.5 473.5h8M206.5 469.5v8"/><path d="M286.5 422.5h8M290.5 418.5v8"/><path d="M226.5 470.5h8M230.5 466.5v8"/><path d="M289.5 374.5h8M293.5 370.5v8"/><path d="M281.5 477.5h8M285.5 473.5v8"/><path d="M216.5 474.5h8M220.5 470.5v8"/><path d="M297.5 324.5h8M301.5 320.5v8"/><path d="M334.5 446.5h8M338.5 442.5v8"/><path d="M292.5 427.5h8M296.5 423.5v8"/><path d="M335.5 470.5h8M339.5 466.5v8"/><path d="M274.5 481.5h8M278.5 477.5v8"/><path d="M303.5 376.5h8M307.5 372.5v8"/><path d="M281.5 393.5h8M285.5 389.5v8"/><path d="M216.5 420.5h8M220.5 416.5v8"/><path d="M318.5 471.5h8M322.5 467.5v8"/><path d="M334.5 456.5h8M338.5 452.5v8"/><path d="M272.5 473.5h8M276.5 469.5v8"/><path d="M319.5 346.5h8M323.5 342.5v8"/><path d="M297.5 390.5h8M301.5 386.5v8"/><path d="M294.5 482.5h8M298.5 478.5v8"/><path d="M266.5 322.5h8M270.5 318.5v8"/><path d="M257.5 367.5h8M261.5 363.5v8"/><path d="M202.5 431.5h8M206.5 427.5v8"/><path d="M299.5 371.5h8M303.5 367.5v8"/><path d="M221.5 471.5h8M225.5 467.5v8"/><path d="M203.5 470.5h8M207.5 466.5v8"/><path d="M285.5 396.5h8M289.5 392.5v8"/><path d="M291.5 396.5h8M295.5 392.5v8"/><path d="M269.5 423.5h8M273.5 419.5v8"/><path d="M316.5 435.5h8M320.5 431.5v8"/><path d="M287.5 436.5h8M291.5 432.5v8"/><path d="M206.5 404.5h8M210.5 400.5v8"/><path d="M326.5 479.5h8M330.5 475.5v8"/><path d="M316.5 482.5h8M320.5 478.5v8"/><path d="M281.5 395.5h8M285.5 391.5v8"/><path d="M294.5 473.5h8M298.5 469.5v8"/><path d="M307.5 473.5h8M311.5 469.5v8"/><path d="M306.5 407.5h8M310.5 403.5v8"/><path d="M295.5 470.5h8M299.5 466.5v8"/><path d="M285.5 376.5h8M289.5 372.5v8"/><path d="M230.5 474.5h8M234.5 470.5v8"/><path d="M221.5 469.5h8M225.5 465.5v8"/><path d="M249.5 474.5h8M253.5 470.5v8"/><path d="M220.5 347.5h8M224.5 343.5v8"/><path d="M289.5 473.5h8M293.5 469.5v8"/><path d="M295.5 479.5h8M299.5 475.5v8"/><path d="M348.5 473.5h8M352.5 469.5v8"/><path d="M280.5 461.5h8M284.5 457.5v8"/><path d="M310.5 481.5h8M314.5 477.5v8"/><path d="M293.5 455.5h8M297.5 451.5v8"/><path d="M312.5 431.5h8M316.5 427.5v8"/><path d="M197.5 354.5h8M201.5 350.5v8"/><path d="M281.5 360.5h8M285.5 356.5v8"/><path d="M321.5 473.5h8M325.5 469.5v8"/><path d="M240.5 307.5h8M244.5 303.5v8"/><path d="M226.5 474.5h8M230.5 470.5v8"/><path d="M272.5 406.5h8M276.5 402.5v8"/><path d="M310.5 452.5h8M314.5 448.5v8"/><path d="M287.5 327.5h8M291.5 323.5v8"/><path d="M313.5 464.5h8M317.5 460.5v8"/><path d="M312.5 448.5h8M316.5 444.5v8"/><path d="M331.5 458.5h8M335.5 454.5v8"/><path d="M334.5 483.5h8M338.5 479.5v8"/><path d="M319.5 458.5h8M323.5 454.5v8"/><path d="M293.5 364.5h8M297.5 360.5v8"/><path d="M318.5 441.5h8M322.5 437.5v8"/><path d="M279.5 419.5h8M283.5 415.5v8"/><path d="M306.5 457.5h8M310.5 453.5v8"/><path d="M215.5 359.5h8M219.5 355.5v8"/><path d="M233.5 352.5h8M237.5 348.5v8"/><path d="M280.5 433.5h8M284.5 429.5v8"/><path d="M271.5 430.5h8M275.5 426.5v8"/><path d="M330.5 457.5h8M334.5 453.5v8"/><path d="M367.5 479.5h8M371.5 475.5v8"/><path d="M228.5 404.5h8M232.5 400.5v8"/><path d="M278.5 440.5h8M282.5 436.5v8"/><path d="M205.5 425.5h8M209.5 421.5v8"/><path d="M319.5 460.5h8M323.5 456.5v8"/><path d="M330.5 471.5h8M334.5 467.5v8"/><path d="M320.5 402.5h8M324.5 398.5v8"/><path d="M303.5 383.5h8M307.5 379.5v8"/><path d="M279.5 383.5h8M283.5 379.5v8"/><path d="M361.5 476.5h8M365.5 472.5v8"/><path d="M274.5 253.5h8M278.5 249.5v8"/><path d="M228.5 340.5h8M232.5 336.5v8"/><path d="M359.5 475.5h8M363.5 471.5v8"/><path d="M244.5 452.5h8M248.5 448.5v8"/><path d="M201.5 398.5h8M205.5 394.5v8"/><path d="M275.5 396.5h8M279.5 392.5v8"/><path d="M344.5 483.5h8M348.5 479.5v8"/><path d="M249.5 474.5h8M253.5 470.5v8"/><path d="M290.5 478.5h8M294.5 474.5v8"/><path d="M270.5 480.5h8M274.5 476.5v8"/><path d="M301.5 412.5h8M305.5 408.5v8"/><path d="M325.5 484.5h8M329.5 480.5v8"/><path d="M261.5 381.5h8M265.5 377.5v8"/><path d="M277.5 395.5h8M281.5 391.5v8"/><path d="M273.5 462.5h8M277.5 458.5v8"/><path d="M304.5 411.5h8M308.5 407.5v8"/><path d="M356.5 430.5h8M360.5 426.5v8"/><path d="M241.5 473.5h8M245.5 469.5v8"/><path d="M302.5 432.5h8M306.5 428.5v8"/><path d="M317.5 433.5h8M321.5 429.5v8"/><path d="M314.5 481.5h8M318.5 477.5v8"/><path d="M330.5 453.5h8M334.5 449.5v8"/><path d="M358.5 472.5h8M362.5 468.5v8"/><path d="M293.5 347.5h8M297.5 343.5v8"/><path d="M200.5 392.5h8M204.5 388.5v8"/><path d="M313.5 403.5h8M317.5 399.5v8"/><path d="M324.5 482.5h8M328.5 478.5v8"/><path d="M319.5 443.5h8M323.5 439.5v8"/><path d="M319.5 467.5h8M323.5 463.5v8"/><path d="M211.5 369.5h8M215.5 365.5v8"/><path d="M285.5 374.5h8M289.5 370.5v8"/><path d="M301.5 419.5h8M305.5 415.5v8"/><path d="M314.5 438.5h8M318.5 434.5v8"/><path d="M346.5 471.5h8M350.5 467.5v8"/><path d="M235.5 468.5h8M239.5 464.5v8"/><path d="M277.5 451.5h8M281.5 447.5v8"/><path d="M278.5 368.5h8M282.5 364.5v8"/><path d="M301.5 462.5h8M305.5 458.5v8"/><path d="M322.5 296.5h8M326.5 292.5v8"/><path d="M318.5 392.5h8M322.5 388.5v8"/><path d="M279.5 318.5h8M283.5 314.5v8"/><path d="M278.5 431.5h8M282.5 427.5v8"/><path d="M274.5 485.5h8M278.5 481.5v8"/><path d="M198.5 395.5h8M202.5 391.5v8"/><path d="M196.5 401.5h8M200.5 397.5v8"/><path d="M362.5 483.5h8M366.5 479.5v8"/><path d="M306.5 411.5h8M310.5 407.5v8"/><path d="M289.5 430.5h8M293.5 426.5v8"/><path d="M289.5 292.5h8M293.5 288.5v8"/><path d="M279.5 387.5h8M283.5 383.5v8"/><path d="M273.5 334.5h8M277.5 330.5v8"/><path d="M239.5 469.5h8M243.5 465.5v8"/><path d="M348.5 471.5h8M352.5 467.5v8"/><path d="M313.5 410.5h8M317.5 406.5v8"/><path d="M341.5 443.5h8M345.5 439.5v8"/><path d="M323.5 426.5h8M327.5 422.5v8"/><path d="M233.5 369.5h8M237.5 365.5v8"/><path d="M288.5 458.5h8M292.5 454.5v8"/><path d="M285.5 68.5h8M289.5 64.5v8"/><path d="M309.5 448.5h8M313.5 444.5v8"/><path d="M278.5 466.5h8M282.5 462.5v8"/><path d="M198.5 362.5h8M202.5 358.5v8"/><path d="M282.5 302.5h8M286.5 298.5v8"/><path d="M308.5 462.5h8M312.5 458.5v8"/><path d="M284.5 291.5h8M288.5 287.5v8"/><path d="M256.5 471.5h8M260.5 467.5v8"/><path d="M343.5 465.5h8M347.5 461.5v8"/><path d="M368.5 481.5h8M372.5 477.5v8"/><path d="M294.5 309.5h8M298.5 305.5v8"/><path d="M218.5 468.5h8M222.5 464.5v8"/><path d="M322.5 475.5h8M326.5 471.5v8"/><path d="M284.5 288.5h8M288.5 284.5v8"/><path d="M294.5 420.5h8M298.5 416.5v8"/><path d="M209.5 408.5h8M213.5 404.5v8"/><path d="M268.5 420.5h8M272.5 416.5v8"/><path d="M309.5 448.5h8M313.5 444.5v8"/><path d="M296.5 454.5h8M300.5 450.5v8"/><path d="M295.5 471.5h8M299.5 467.5v8"/><path d="M287.5 404.5h8M291.5 400.5v8"/><path d="M211.5 474.5h8M215.5 470.5v8"/><path d="M342.5 482.5h8M346.5 478.5v8"/><path d="M334.5 483.5h8M338.5 479.5v8"/><path d="M359.5 475.5h8M363.5 471.5v8"/><path d="M327.5 453.5h8M331.5 449.5v8"/><path d="M303.5 474.5h8M307.5 470.5v8"/><path d="M257.5 428.5h8M261.5 424.5v8"/><path d="M311.5 425.5h8M315.5 421.5v8"/><path d="M298.5 419.5h8M302.5 415.5v8"/><path d="M302.5 347.5h8M306.5 343.5v8"/><path d="M314.5 455.5h8M318.5 451.5v8"/><path d="M351.5 470.5h8M355.5 466.5v8"/><path d="M201.5 471.5h8M205.5 467.5v8"/><path d="M372.5 485.5h8M376.5 481.5v8"/><path d="M341.5 455.5h8M345.5 451.5v8"/><path d="M246.5 471.5h8M250.5 467.5v8"/><path d="M270.5 466.5h8M274.5 462.5v8"/><path d="M191.5 429.5h8M195.5 425.5v8"/><path d="M308.5 404.5h8M312.5 400.5v8"/><path d="M290.5 426.5h8M294.5 422.5v8"/><path d="M340.5 483.5h8M344.5 479.5v8"/><path d="M280.5 409.5h8M284.5 405.5v8"/><path d="M305.5 422.5h8M309.5 418.5v8"/><path d="M214.5 378.5h8M218.5 374.5v8"/><path d="M306.5 430.5h8M310.5 426.5v8"/><path d="M303.5 333.5h8M307.5 329.5v8"/><path d="M276.5 350.5h8M280.5 346.5v8"/><path d="M247.5 474.5h8M251.5 470.5v8"/><path d="M222.5 473.5h8M226.5 469.5v8"/><path d="M286.5 448.5h8M290.5 444.5v8"/><path d="M277.5 418.5h8M281.5 414.5v8"/><path d="M277.5 471.5h8M281.5 467.5v8"/><path d="M330.5 456.5h8M334.5 452.5v8"/><path d="M344.5 420.5h8M348.5 416.5v8"/><path d="M304.5 429.5h8M308.5 425.5v8"/><path d="M301.5 435.5h8M305.5 431.5v8"/><path d="M302.5 482.5h8M306.5 478.5v8"/><path d="M227.5 475.5h8M231.5 471.5v8"/><path d="M281.5 441.5h8M285.5 437.5v8"/><path d="M218.5 442.5h8M222.5 438.5v8"/><path d="M309.5 436.5h8M313.5 432.5v8"/><path d="M276.5 441.5h8M280.5 437.5v8"/><path d="M270.5 479.5h8M274.5 475.5v8"/><path d="M304.5 450.5h8M308.5 446.5v8"/><path d="M205.5 471.5h8M209.5 467.5v8"/><path d="M309.5 472.5h8M313.5 468.5v8"/><path d="M274.5 426.5h8M278.5 422.5v8"/><path d="M260.5 439.5h8M264.5 435.5v8"/><path d="M282.5 421.5h8M286.5 417.5v8"/><path d="M213.5 470.5h8M217.5 466.5v8"/><path d="M282.5 441.5h8M286.5 437.5v8"/><path d="M292.5 408.5h8M296.5 404.5v8"/><path d="M209.5 468.5h8M213.5 464.5v8"/><path d="M287.5 357.5h8M291.5 353.5v8"/><path d="M290.5 316.5h8M294.5 312.5v8"/><path d="M295.5 368.5h8M299.5 364.5v8"/><path d="M288.5 454.5h8M292.5 450.5v8"/><path d="M291.5 470.5h8M295.5 466.5v8"/><path d="M198.5 356.5h8M202.5 352.5v8"/><path d="M291.5 367.5h8M295.5 363.5v8"/><path d="M274.5 453.5h8M278.5 449.5v8"/><path d="M266.5 472.5h8M270.5 468.5v8"/><path d="M248.5 473.5h8M252.5 469.5v8"/><path d="M281.5 460.5h8M285.5 456.5v8"/><path d="M279.5 440.5h8M283.5 436.5v8"/><path d="M306.5 413.5h8M310.5 409.5v8"/><path d="M322.5 452.5h8M326.5 448.5v8"/><path d="M306.5 467.5h8M310.5 463.5v8"/><path d="M292.5 386.5h8M296.5 382.5v8"/><path d="M348.5 467.5h8M352.5 463.5v8"/><path d="M327.5 465.5h8M331.5 461.5v8"/><path d="M274.5 469.5h8M278.5 465.5v8"/><path d="M292.5 291.5h8M296.5 287.5v8"/><path d="M346.5 469.5h8M350.5 465.5v8"/><path d="M211.5 435.5h8M215.5 431.5v8"/><path d="M265.5 475.5h8M269.5 471.5v8"/><path d="M294.5 338.5h8M298.5 334.5v8"/><path d="M209.5 473.5h8M213.5 469.5v8"/><path d="M243.5 470.5h8M247.5 466.5v8"/><path d="M295.5 457.5h8M299.5 453.5v8"/><path d="M306.5 448.5h8M310.5 444.5v8"/><path d="M244.5 417.5h8M248.5 413.5v8"/><path d="M309.5 407.5h8M313.5 403.5v8"/><path d="M308.5 424.5h8M312.5 420.5v8"/><path d="M294.5 441.5h8M298.5 437.5v8"/><path d="M208.5 469.5h8M212.5 465.5v8"/><path d="M290.5 384.5h8M294.5 380.5v8"/><path d="M221.5 468.5h8M225.5 464.5v8"/><path d="M309.5 424.5h8M313.5 420.5v8"/><path d="M351.5 449.5h8M355.5 445.5v8"/><path d="M318.5 474.5h8M322.5 470.5v8"/><path d="M308.5 476.5h8M312.5 472.5v8"/><path d="M314.5 439.5h8M318.5 435.5v8"/><path d="M259.5 471.5h8M263.5 467.5v8"/><path d="M275.5 376.5h8M279.5 372.5v8"/><path d="M228.5 473.5h8M232.5 469.5v8"/><path d="M195.5 405.5h8M199.5 401.5v8"/><path d="M340.5 423.5h8M344.5 419.5v8"/><path d="M347.5 319.5h8M351.5 315.5v8"/><path d="M326.5 304.5h8M330.5 300.5v8"/><path d="M299.5 278.5h8M303.5 274.5v8"/><path d="M317.5 415.5h8M321.5 411.5v8"/><path d="M233.5 469.5h8M237.5 465.5v8"/><path d="M256.5 377.5h8M260.5 373.5v8"/><path d="M280.5 455.5h8M284.5 451.5v8"/><path d="M252.5 472.5h8M256.5 468.5v8"/><path d="M293.5 442.5h8M297.5 438.5v8"/><path d="M329.5 467.5h8M333.5 463.5v8"/><path d="M315.5 443.5h8M319.5 439.5v8"/><path d="M288.5 441.5h8M292.5 437.5v8"/><path d="M346.5 486.5h8M350.5 482.5v8"/><path d="M285.5 438.5h8M289.5 434.5v8"/><path d="M259.5 475.5h8M263.5 471.5v8"/><path d="M274.5 291.5h8M278.5 287.5v8"/><path d="M325.5 455.5h8M329.5 451.5v8"/><path d="M279.5 420.5h8M283.5 416.5v8"/><path d="M353.5 469.5h8M357.5 465.5v8"/><path d="M288.5 405.5h8M292.5 401.5v8"/><path d="M302.5 433.5h8M306.5 429.5v8"/><path d="M278.5 414.5h8M282.5 410.5v8"/><path d="M298.5 340.5h8M302.5 336.5v8"/><path d="M300.5 471.5h8M304.5 467.5v8"/><path d="M320.5 456.5h8M324.5 452.5v8"/><path d="M286.5 380.5h8M290.5 376.5v8"/><path d="M302.5 448.5h8M306.5 444.5v8"/><path d="M251.5 474.5h8M255.5 470.5v8"/><path d="M319.5 449.5h8M323.5 445.5v8"/><path d="M273.5 483.5h8M277.5 479.5v8"/><path d="M269.5 278.5h8M273.5 274.5v8"/><path d="M295.5 459.5h8M299.5 455.5v8"/><path d="M334.5 458.5h8M338.5 454.5v8"/><path d="M273.5 404.5h8M277.5 400.5v8"/><path d="M286.5 430.5h8M290.5 426.5v8"/><path d="M271.5 359.5h8M275.5 355.5v8"/><path d="M283.5 403.5h8M287.5 399.5v8"/><path d="M292.5 334.5h8M296.5 330.5v8"/><path d="M275.5 466.5h8M279.5 462.5v8"/><path d="M310.5 312.5h8M314.5 308.5v8"/><path d="M287.5 330.5h8M291.5 326.5v8"/><path d="M248.5 455.5h8M252.5 451.5v8"/><path d="M301.5 450.5h8M305.5 446.5v8"/><path d="M279.5 457.5h8M283.5 453.5v8"/><path d="M290.5 393.5h8M294.5 389.5v8"/><path d="M296.5 471.5h8M300.5 467.5v8"/><path d="M281.5 459.5h8M285.5 455.5v8"/><path d="M205.5 472.5h8M209.5 468.5v8"/><path d="M219.5 421.5h8M223.5 417.5v8"/><path d="M276.5 320.5h8M280.5 316.5v8"/><path d="M288.5 421.5h8M292.5 417.5v8"/><path d="M294.5 473.5h8M298.5 469.5v8"/><path d="M356.5 468.5h8M360.5 464.5v8"/><path d="M370.5 420.5h8M374.5 416.5v8"/><path d="M330.5 323.5h8M334.5 319.5v8"/><path d="M275.5 479.5h8M279.5 475.5v8"/><path d="M264.5 287.5h8M268.5 283.5v8"/><path d="M284.5 450.5h8M288.5 446.5v8"/><path d="M344.5 480.5h8M348.5 476.5v8"/><path d="M279.5 451.5h8M283.5 447.5v8"/><path d="M355.5 481.5h8M359.5 477.5v8"/><path d="M319.5 414.5h8M323.5 410.5v8"/><path d="M289.5 402.5h8M293.5 398.5v8"/><path d="M283.5 462.5h8M287.5 458.5v8"/><path d="M285.5 357.5h8M289.5 353.5v8"/><path d="M304.5 430.5h8M308.5 426.5v8"/><path d="M281.5 375.5h8M285.5 371.5v8"/><path d="M323.5 472.5h8M327.5 468.5v8"/><path d="M361.5 467.5h8M365.5 463.5v8"/><path d="M334.5 286.5h8M338.5 282.5v8"/><path d="M286.5 474.5h8M290.5 470.5v8"/><path d="M288.5 396.5h8M292.5 392.5v8"/><path d="M298.5 302.5h8M302.5 298.5v8"/><path d="M313.5 441.5h8M317.5 437.5v8"/><path d="M322.5 435.5h8M326.5 431.5v8"/><path d="M283.5 426.5h8M287.5 422.5v8"/><path d="M206.5 473.5h8M210.5 469.5v8"/><path d="M280.5 405.5h8M284.5 401.5v8"/><path d="M278.5 354.5h8M282.5 350.5v8"/><path d="M196.5 362.5h8M200.5 358.5v8"/><path d="M339.5 482.5h8M343.5 478.5v8"/><path d="M281.5 322.5h8M285.5 318.5v8"/><path d="M301.5 450.5h8M305.5 446.5v8"/><path d="M328.5 480.5h8M332.5 476.5v8"/><path d="M201.5 438.5h8M205.5 434.5v8"/><path d="M249.5 406.5h8M253.5 402.5v8"/><path d="M281.5 446.5h8M285.5 442.5v8"/><path d="M296.5 271.5h8M300.5 267.5v8"/><path d="M275.5 445.5h8M279.5 441.5v8"/><path d="M290.5 454.5h8M294.5 450.5v8"/><path d="M303.5 379.5h8M307.5 375.5v8"/><path d="M274.5 454.5h8M278.5 450.5v8"/><path d="M344.5 432.5h8M348.5 428.5v8"/><path d="M277.5 479.5h8M281.5 475.5v8"/><path d="M303.5 443.5h8M307.5 439.5v8"/><path d="M264.5 364.5h8M268.5 360.5v8"/><path d="M288.5 482.5h8M292.5 478.5v8"/><path d="M304.5 452.5h8M308.5 448.5v8"/><path d="M331.5 454.5h8M335.5 450.5v8"/><path d="M336.5 463.5h8M340.5 459.5v8"/><path d="M293.5 460.5h8M297.5 456.5v8"/><path d="M298.5 423.5h8M302.5 419.5v8"/><path d="M291.5 435.5h8M295.5 431.5v8"/><path d="M325.5 442.5h8M329.5 438.5v8"/><path d="M293.5 460.5h8M297.5 456.5v8"/><path d="M224.5 418.5h8M228.5 414.5v8"/><path d="M232.5 473.5h8M236.5 469.5v8"/><path d="M275.5 381.5h8M279.5 377.5v8"/><path d="M232.5 472.5h8M236.5 468.5v8"/><path d="M315.5 468.5h8M319.5 464.5v8"/><path d="M271.5 369.5h8M275.5 365.5v8"/><path d="M301.5 305.5h8M305.5 301.5v8"/><path d="M280.5 476.5h8M284.5 472.5v8"/><path d="M273.5 471.5h8M277.5 467.5v8"/><path d="M320.5 464.5h8M324.5 460.5v8"/><path d="M271.5 444.5h8M275.5 440.5v8"/><path d="M294.5 455.5h8M298.5 451.5v8"/><path d="M319.5 385.5h8M323.5 381.5v8"/><path d="M330.5 455.5h8M334.5 451.5v8"/><path d="M216.5 464.5h8M220.5 460.5v8"/><path d="M283.5 458.5h8M287.5 454.5v8"/><path d="M372.5 461.5h8M376.5 457.5v8"/><path d="M200.5 412.5h8M204.5 408.5v8"/><path d="M302.5 444.5h8M306.5 440.5v8"/><path d="M283.5 413.5h8M287.5 409.5v8"/><path d="M240.5 413.5h8M244.5 409.5v8"/><path d="M315.5 454.5h8M319.5 450.5v8"/><path d="M292.5 432.5h8M296.5 428.5v8"/><path d="M268.5 290.5h8M272.5 286.5v8"/><path d="M292.5 416.5h8M296.5 412.5v8"/><path d="M193.5 396.5h8M197.5 392.5v8"/><path d="M337.5 463.5h8M341.5 459.5v8"/><path d="M275.5 459.5h8M279.5 455.5v8"/><path d="M219.5 473.5h8M223.5 469.5v8"/><path d="M194.5 361.5h8M198.5 357.5v8"/><path d="M315.5 438.5h8M319.5 434.5v8"/><path d="M293.5 368.5h8M297.5 364.5v8"/><path d="M294.5 424.5h8M298.5 420.5v8"/><path d="M254.5 470.5h8M258.5 466.5v8"/><path d="M270.5 57.5h8M274.5 53.5v8"/><path d="M281.5 344.5h8M285.5 340.5v8"/><path d="M310.5 414.5h8M314.5 410.5v8"/><path d="M299.5 381.5h8M303.5 377.5v8"/><path d="M230.5 470.5h8M234.5 466.5v8"/><path d="M217.5 469.5h8M221.5 465.5v8"/><path d="M285.5 383.5h8M289.5 379.5v8"/><path d="M277.5 414.5h8M281.5 410.5v8"/><path d="M352.5 480.5h8M356.5 476.5v8"/><path d="M274.5 341.5h8M278.5 337.5v8"/><path d="M223.5 352.5h8M227.5 348.5v8"/><path d="M299.5 473.5h8M303.5 469.5v8"/><path d="M298.5 482.5h8M302.5 478.5v8"/><path d="M349.5 422.5h8M353.5 418.5v8"/><path d="M300.5 451.5h8M304.5 447.5v8"/><path d="M193.5 392.5h8M197.5 388.5v8"/><path d="M271.5 485.5h8M275.5 481.5v8"/><path d="M238.5 408.5h8M242.5 404.5v8"/><path d="M330.5 482.5h8M334.5 478.5v8"/><path d="M314.5 469.5h8M318.5 465.5v8"/><path d="M282.5 365.5h8M286.5 361.5v8"/><path d="M242.5 420.5h8M246.5 416.5v8"/><path d="M299.5 466.5h8M303.5 462.5v8"/><path d="M308.5 483.5h8M312.5 479.5v8"/><path d="M276.5 342.5h8M280.5 338.5v8"/><path d="M288.5 366.5h8M292.5 362.5v8"/><path d="M292.5 480.5h8M296.5 476.5v8"/><path d="M271.5 480.5h8M275.5 476.5v8"/><path d="M276.5 392.5h8M280.5 388.5v8"/><path d="M289.5 399.5h8M293.5 395.5v8"/><path d="M283.5 375.5h8M287.5 371.5v8"/><path d="M310.5 474.5h8M314.5 470.5v8"/><path d="M276.5 473.5h8M280.5 469.5v8"/><path d="M309.5 381.5h8M313.5 377.5v8"/><path d="M296.5 470.5h8M300.5 466.5v8"/><path d="M306.5 393.5h8M310.5 389.5v8"/><path d="M292.5 415.5h8M296.5 411.5v8"/><path d="M186.5 467.5h8M190.5 463.5v8"/><path d="M300.5 431.5h8M304.5 427.5v8"/><path d="M326.5 488.5h8M330.5 484.5v8"/><path d="M218.5 471.5h8M222.5 467.5v8"/><path d="M270.5 361.5h8M274.5 357.5v8"/><path d="M259.5 473.5h8M263.5 469.5v8"/><path d="M235.5 469.5h8M239.5 465.5v8"/><path d="M329.5 455.5h8M333.5 451.5v8"/><path d="M200.5 375.5h8M204.5 371.5v8"/><path d="M304.5 314.5h8M308.5 310.5v8"/><path d="M294.5 322.5h8M298.5 318.5v8"/><path d="M319.5 456.5h8M323.5 452.5v8"/><path d="M277.5 396.5h8M281.5 392.5v8"/><path d="M277.5 380.5h8M281.5 376.5v8"/><path d="M303.5 482.5h8M307.5 478.5v8"/><path d="M260.5 329.5h8M264.5 325.5v8"/><path d="M371.5 482.5h8M375.5 478.5v8"/><path d="M294.5 413.5h8M298.5 409.5v8"/><path d="M284.5 459.5h8M288.5 455.5v8"/><path d="M310.5 440.5h8M314.5 436.5v8"/><path d="M324.5 468.5h8M328.5 464.5v8"/><path d="M201.5 363.5h8M205.5 359.5v8"/><path d="M348.5 471.5h8M352.5 467.5v8"/><path d="M274.5 478.5h8M278.5 474.5v8"/><path d="M308.5 457.5h8M312.5 453.5v8"/><path d="M314.5 463.5h8M318.5 459.5v8"/><path d="M315.5 455.5h8M319.5 451.5v8"/><path d="M291.5 422.5h8M295.5 418.5v8"/><path d="M298.5 459.5h8M302.5 455.5v8"/><path d="M290.5 391.5h8M294.5 387.5v8"/><path d="M293.5 254.5h8M297.5 250.5v8"/><path d="M307.5 430.5h8M311.5 426.5v8"/><path d="M328.5 459.5h8M332.5 455.5v8"/><path d="M310.5 455.5h8M314.5 451.5v8"/><path d="M278.5 477.5h8M282.5 473.5v8"/><path d="M239.5 471.5h8M243.5 467.5v8"/><path d="M302.5 359.5h8M306.5 355.5v8"/><path d="M339.5 483.5h8M343.5 479.5v8"/><path d="M336.5 438.5h8M340.5 434.5v8"/><path d="M314.5 446.5h8M318.5 442.5v8"/><path d="M271.5 267.5h8M275.5 263.5v8"/><path d="M281.5 283.5h8M285.5 279.5v8"/><path d="M326.5 450.5h8M330.5 446.5v8"/><path d="M290.5 458.5h8M294.5 454.5v8"/><path d="M265.5 400.5h8M269.5 396.5v8"/><path d="M286.5 344.5h8M290.5 340.5v8"/><path d="M364.5 474.5h8M368.5 470.5v8"/><path d="M290.5 471.5h8M294.5 467.5v8"/><path d="M294.5 391.5h8M298.5 387.5v8"/><path d="M259.5 470.5h8M263.5 466.5v8"/><path d="M359.5 478.5h8M363.5 474.5v8"/><path d="M197.5 262.5h8M201.5 258.5v8"/><path d="M365.5 485.5h8M369.5 481.5v8"/><path d="M298.5 283.5h8M302.5 279.5v8"/><path d="M294.5 62.5h8M298.5 58.5v8"/><path d="M334.5 478.5h8M338.5 474.5v8"/><path d="M305.5 462.5h8M309.5 458.5v8"/><path d="M364.5 469.5h8M368.5 465.5v8"/><path d="M317.5 466.5h8M321.5 462.5v8"/><path d="M312.5 454.5h8M316.5 450.5v8"/><path d="M281.5 365.5h8M285.5 361.5v8"/><path d="M265.5 434.5h8M269.5 430.5v8"/><path d="M218.5 405.5h8M222.5 401.5v8"/><path d="M271.5 468.5h8M275.5 464.5v8"/><path d="M322.5 295.5h8M326.5 291.5v8"/><path d="M324.5 471.5h8M328.5 467.5v8"/><path d="M278.5 362.5h8M282.5 358.5v8"/><path d="M298.5 375.5h8M302.5 371.5v8"/><path d="M354.5 477.5h8M358.5 473.5v8"/><path d="M281.5 379.5h8M285.5 375.5v8"/><path d="M273.5 431.5h8M277.5 427.5v8"/><path d="M279.5 267.5h8M283.5 263.5v8"/><path d="M298.5 411.5h8M302.5 407.5v8"/><path d="M271.5 391.5h8M275.5 387.5v8"/><path d="M202.5 441.5h8M206.5 437.5v8"/><path d="M194.5 374.5h8M198.5 370.5v8"/><path d="M201.5 420.5h8M205.5 416.5v8"/><path d="M304.5 455.5h8M308.5 451.5v8"/><path d="M319.5 446.5h8M323.5 442.5v8"/><path d="M320.5 459.5h8M324.5 455.5v8"/><path d="M276.5 386.5h8M280.5 382.5v8"/><path d="M332.5 467.5h8M336.5 463.5v8"/><path d="M291.5 445.5h8M295.5 441.5v8"/><path d="M334.5 458.5h8M338.5 454.5v8"/><path d="M286.5 424.5h8M290.5 420.5v8"/><path d="M280.5 398.5h8M284.5 394.5v8"/><path d="M303.5 405.5h8M307.5 401.5v8"/><path d="M226.5 399.5h8M230.5 395.5v8"/><path d="M305.5 463.5h8M309.5 459.5v8"/><path d="M214.5 384.5h8M218.5 380.5v8"/><path d="M286.5 300.5h8M290.5 296.5v8"/><path d="M232.5 463.5h8M236.5 459.5v8"/><path d="M301.5 373.5h8M305.5 369.5v8"/><path d="M209.5 445.5h8M213.5 441.5v8"/><path d="M242.5 474.5h8M246.5 470.5v8"/><path d="M286.5 397.5h8M290.5 393.5v8"/><path d="M313.5 438.5h8M317.5 434.5v8"/><path d="M271.5 460.5h8M275.5 456.5v8"/><path d="M344.5 466.5h8M348.5 462.5v8"/><path d="M298.5 464.5h8M302.5 460.5v8"/><path d="M354.5 478.5h8M358.5 474.5v8"/><path d="M289.5 475.5h8M293.5 471.5v8"/><path d="M295.5 305.5h8M299.5 301.5v8"/><path d="M293.5 330.5h8M297.5 326.5v8"/><path d="M272.5 482.5h8M276.5 478.5v8"/><path d="M206.5 422.5h8M210.5 418.5v8"/><path d="M235.5 470.5h8M239.5 466.5v8"/><path d="M195.5 367.5h8M199.5 363.5v8"/><path d="M296.5 458.5h8M300.5 454.5v8"/><path d="M246.5 376.5h8M250.5 372.5v8"/><path d="M271.5 349.5h8M275.5 345.5v8"/><path d="M369.5 483.5h8M373.5 479.5v8"/><path d="M335.5 458.5h8M339.5 454.5v8"/><path d="M292.5 384.5h8M296.5 380.5v8"/><path d="M272.5 469.5h8M276.5 465.5v8"/><path d="M333.5 466.5h8M337.5 462.5v8"/><path d="M212.5 470.5h8M216.5 466.5v8"/><path d="M309.5 447.5h8M313.5 443.5v8"/><path d="M319.5 465.5h8M323.5 461.5v8"/><path d="M215.5 469.5h8M219.5 465.5v8"/><path d="M302.5 448.5h8M306.5 444.5v8"/><path d="M281.5 396.5h8M285.5 392.5v8"/><path d="M246.5 266.5h8M250.5 262.5v8"/><path d="M293.5 265.5h8M297.5 261.5v8"/><path d="M277.5 383.5h8M281.5 379.5v8"/><path d="M230.5 432.5h8M234.5 428.5v8"/><path d="M286.5 474.5h8M290.5 470.5v8"/><path d="M325.5 484.5h8M329.5 480.5v8"/><path d="M296.5 454.5h8M300.5 450.5v8"/><path d="M312.5 446.5h8M316.5 442.5v8"/><path d="M299.5 458.5h8M303.5 454.5v8"/><path d="M302.5 467.5h8M306.5 463.5v8"/><path d="M287.5 385.5h8M291.5 381.5v8"/><path d="M318.5 468.5h8M322.5 464.5v8"/><path d="M306.5 441.5h8M310.5 437.5v8"/><path d="M299.5 391.5h8M303.5 387.5v8"/><path d="M283.5 415.5h8M287.5 411.5v8"/><path d="M236.5 473.5h8M240.5 469.5v8"/><path d="M242.5 473.5h8M246.5 469.5v8"/><path d="M219.5 471.5h8M223.5 467.5v8"/><path d="M281.5 271.5h8M285.5 267.5v8"/><path d="M305.5 476.5h8M309.5 472.5v8"/><path d="M240.5 320.5h8M244.5 316.5v8"/><path d="M299.5 408.5h8M303.5 404.5v8"/><path d="M298.5 460.5h8M302.5 456.5v8"/><path d="M194.5 432.5h8M198.5 428.5v8"/><path d="M206.5 252.5h8M210.5 248.5v8"/><path d="M293.5 474.5h8M297.5 470.5v8"/><path d="M277.5 305.5h8M281.5 301.5v8"/><path d="M249.5 452.5h8M253.5 448.5v8"/><path d="M286.5 449.5h8M290.5 445.5v8"/><path d="M205.5 468.5h8M209.5 464.5v8"/><path d="M284.5 388.5h8M288.5 384.5v8"/><path d="M290.5 451.5h8M294.5 447.5v8"/><path d="M281.5 397.5h8M285.5 393.5v8"/><path d="M255.5 470.5h8M259.5 466.5v8"/><path d="M298.5 341.5h8M302.5 337.5v8"/><path d="M334.5 476.5h8M338.5 472.5v8"/><path d="M315.5 437.5h8M319.5 433.5v8"/><path d="M233.5 474.5h8M237.5 470.5v8"/><path d="M276.5 367.5h8M280.5 363.5v8"/><path d="M309.5 444.5h8M313.5 440.5v8"/><path d="M272.5 464.5h8M276.5 460.5v8"/><path d="M337.5 478.5h8M341.5 474.5v8"/><path d="M306.5 394.5h8M310.5 390.5v8"/><path d="M237.5 470.5h8M241.5 466.5v8"/><path d="M231.5 383.5h8M235.5 379.5v8"/><path d="M266.5 483.5h8M270.5 479.5v8"/><path d="M281.5 381.5h8M285.5 377.5v8"/><path d="M281.5 399.5h8M285.5 395.5v8"/><path d="M230.5 315.5h8M234.5 311.5v8"/><path d="M273.5 353.5h8M277.5 349.5v8"/><path d="M310.5 411.5h8M314.5 407.5v8"/><path d="M301.5 411.5h8M305.5 407.5v8"/><path d="M252.5 374.5h8M256.5 370.5v8"/><path d="M316.5 478.5h8M320.5 474.5v8"/><path d="M300.5 464.5h8M304.5 460.5v8"/><path d="M299.5 363.5h8M303.5 359.5v8"/><path d="M273.5 473.5h8M277.5 469.5v8"/><path d="M330.5 469.5h8M334.5 465.5v8"/><path d="M311.5 430.5h8M315.5 426.5v8"/><path d="M348.5 477.5h8M352.5 473.5v8"/><path d="M314.5 482.5h8M318.5 478.5v8"/><path d="M297.5 404.5h8M301.5 400.5v8"/><path d="M287.5 382.5h8M291.5 378.5v8"/><path d="M284.5 458.5h8M288.5 454.5v8"/><path d="M305.5 426.5h8M309.5 422.5v8"/><path d="M282.5 426.5h8M286.5 422.5v8"/><path d="M284.5 437.5h8M288.5 433.5v8"/><path d="M267.5 392.5h8M271.5 388.5v8"/><path d="M245.5 472.5h8M249.5 468.5v8"/><path d="M339.5 478.5h8M343.5 474.5v8"/><path d="M244.5 483.5h8M248.5 479.5v8"/><path d="M304.5 417.5h8M308.5 413.5v8"/><path d="M278.5 414.5h8M282.5 410.5v8"/><path d="M283.5 346.5h8M287.5 342.5v8"/><path d="M320.5 460.5h8M324.5 456.5v8"/><path d="M310.5 466.5h8M314.5 462.5v8"/><path d="M336.5 472.5h8M340.5 468.5v8"/><path d="M304.5 415.5h8M308.5 411.5v8"/><path d="M320.5 408.5h8M324.5 404.5v8"/><path d="M318.5 448.5h8M322.5 444.5v8"/><path d="M201.5 361.5h8M205.5 357.5v8"/><path d="M279.5 256.5h8M283.5 252.5v8"/><path d="M271.5 375.5h8M275.5 371.5v8"/><path d="M315.5 453.5h8M319.5 449.5v8"/><path d="M245.5 471.5h8M249.5 467.5v8"/><path d="M335.5 403.5h8M339.5 399.5v8"/><path d="M349.5 434.5h8M353.5 430.5v8"/><path d="M299.5 413.5h8M303.5 409.5v8"/><path d="M326.5 335.5h8M330.5 331.5v8"/><path d="M303.5 450.5h8M307.5 446.5v8"/><path d="M272.5 473.5h8M276.5 469.5v8"/><path d="M320.5 464.5h8M324.5 460.5v8"/><path d="M352.5 471.5h8M356.5 467.5v8"/><path d="M310.5 394.5h8M314.5 390.5v8"/><path d="M320.5 476.5h8M324.5 472.5v8"/><path d="M302.5 395.5h8M306.5 391.5v8"/><path d="M284.5 471.5h8M288.5 467.5v8"/><path d="M292.5 383.5h8M296.5 379.5v8"/><path d="M338.5 468.5h8M342.5 464.5v8"/><path d="M333.5 455.5h8M337.5 451.5v8"/><path d="M269.5 446.5h8M273.5 442.5v8"/><path d="M311.5 459.5h8M315.5 455.5v8"/><path d="M336.5 458.5h8M340.5 454.5v8"/><path d="M277.5 323.5h8M281.5 319.5v8"/><path d="M342.5 469.5h8M346.5 465.5v8"/><path d="M285.5 381.5h8M289.5 377.5v8"/><path d="M298.5 457.5h8M302.5 453.5v8"/><path d="M334.5 460.5h8M338.5 456.5v8"/><path d="M345.5 431.5h8M349.5 427.5v8"/><path d="M328.5 470.5h8M332.5 466.5v8"/><path d="M303.5 390.5h8M307.5 386.5v8"/><path d="M327.5 484.5h8M331.5 480.5v8"/><path d="M276.5 401.5h8M280.5 397.5v8"/><path d="M305.5 62.5h8M309.5 58.5v8"/><path d="M238.5 470.5h8M242.5 466.5v8"/><path d="M277.5 369.5h8M281.5 365.5v8"/><path d="M194.5 355.5h8M198.5 351.5v8"/><path d="M327.5 458.5h8M331.5 454.5v8"/><path d="M288.5 457.5h8M292.5 453.5v8"/><path d="M342.5 469.5h8M346.5 465.5v8"/><path d="M305.5 439.5h8M309.5 435.5v8"/><path d="M301.5 482.5h8M305.5 478.5v8"/><path d="M273.5 286.5h8M277.5 282.5v8"/><path d="M315.5 475.5h8M319.5 471.5v8"/><path d="M258.5 469.5h8M262.5 465.5v8"/><path d="M272.5 469.5h8M276.5 465.5v8"/><path d="M281.5 410.5h8M285.5 406.5v8"/><path d="M253.5 475.5h8M257.5 471.5v8"/><path d="M301.5 388.5h8M305.5 384.5v8"/><path d="M319.5 435.5h8M323.5 431.5v8"/><path d="M315.5 459.5h8M319.5 455.5v8"/><path d="M321.5 443.5h8M325.5 439.5v8"/><path d="M286.5 412.5h8M290.5 408.5v8"/><path d="M252.5 281.5h8M256.5 277.5v8"/><path d="M291.5 435.5h8M295.5 431.5v8"/><path d="M197.5 384.5h8M201.5 380.5v8"/><path d="M307.5 479.5h8M311.5 475.5v8"/><path d="M311.5 450.5h8M315.5 446.5v8"/><path d="M306.5 404.5h8M310.5 400.5v8"/><path d="M306.5 392.5h8M310.5 388.5v8"/><path d="M322.5 426.5h8M326.5 422.5v8"/><path d="M196.5 419.5h8M200.5 415.5v8"/><path d="M279.5 369.5h8M283.5 365.5v8"/><path d="M197.5 350.5h8M201.5 346.5v8"/><path d="M320.5 404.5h8M324.5 400.5v8"/><path d="M285.5 485.5h8M289.5 481.5v8"/><path d="M303.5 456.5h8M307.5 452.5v8"/><path d="M313.5 456.5h8M317.5 452.5v8"/><path d="M226.5 268.5h8M230.5 264.5v8"/><path d="M273.5 447.5h8M277.5 443.5v8"/><path d="M305.5 362.5h8M309.5 358.5v8"/><path d="M279.5 386.5h8M283.5 382.5v8"/><path d="M291.5 483.5h8M295.5 479.5v8"/><path d="M296.5 265.5h8M300.5 261.5v8"/><path d="M300.5 294.5h8M304.5 290.5v8"/><path d="M324.5 334.5h8M328.5 330.5v8"/><path d="M289.5 404.5h8M293.5 400.5v8"/><path d="M225.5 472.5h8M229.5 468.5v8"/><path d="M252.5 469.5h8M256.5 465.5v8"/><path d="M330.5 464.5h8M334.5 460.5v8"/><path d="M340.5 477.5h8M344.5 473.5v8"/><path d="M306.5 414.5h8M310.5 410.5v8"/><path d="M295.5 356.5h8M299.5 352.5v8"/><path d="M273.5 380.5h8M277.5 376.5v8"/><path d="M331.5 465.5h8M335.5 461.5v8"/><path d="M326.5 464.5h8M330.5 460.5v8"/><path d="M227.5 360.5h8M231.5 356.5v8"/><path d="M294.5 276.5h8M298.5 272.5v8"/><path d="M285.5 431.5h8M289.5 427.5v8"/><path d="M302.5 319.5h8M306.5 315.5v8"/><path d="M226.5 473.5h8M230.5 469.5v8"/><path d="M247.5 469.5h8M251.5 465.5v8"/><path d="M282.5 407.5h8M286.5 403.5v8"/><path d="M277.5 472.5h8M281.5 468.5v8"/><path d="M278.5 436.5h8M282.5 432.5v8"/><path d="M227.5 299.5h8M231.5 295.5v8"/><path d="M339.5 455.5h8M343.5 451.5v8"/><path d="M304.5 396.5h8M308.5 392.5v8"/><path d="M296.5 400.5h8M300.5 396.5v8"/><path d="M316.5 435.5h8M320.5 431.5v8"/><path d="M279.5 359.5h8M283.5 355.5v8"/><path d="M347.5 460.5h8M351.5 456.5v8"/><path d="M288.5 485.5h8M292.5 481.5v8"/><path d="M353.5 481.5h8M357.5 477.5v8"/><path d="M359.5 471.5h8M363.5 467.5v8"/><path d="M346.5 461.5h8M350.5 457.5v8"/><path d="M240.5 378.5h8M244.5 374.5v8"/><path d="M254.5 378.5h8M258.5 374.5v8"/><path d="M293.5 413.5h8M297.5 409.5v8"/><path d="M277.5 375.5h8M281.5 371.5v8"/><path d="M246.5 407.5h8M250.5 403.5v8"/><path d="M282.5 353.5h8M286.5 349.5v8"/><path d="M238.5 388.5h8M242.5 384.5v8"/><path d="M277.5 410.5h8M281.5 406.5v8"/><path d="M327.5 472.5h8M331.5 468.5v8"/><path d="M304.5 370.5h8M308.5 366.5v8"/><path d="M299.5 431.5h8M303.5 427.5v8"/><path d="M283.5 330.5h8M287.5 326.5v8"/><path d="M284.5 440.5h8M288.5 436.5v8"/><path d="M340.5 457.5h8M344.5 453.5v8"/><path d="M276.5 407.5h8M280.5 403.5v8"/><path d="M278.5 293.5h8M282.5 289.5v8"/><path d="M291.5 383.5h8M295.5 379.5v8"/><path d="M294.5 470.5h8M298.5 466.5v8"/><path d="M220.5 255.5h8M224.5 251.5v8"/><path d="M293.5 283.5h8M297.5 279.5v8"/><path d="M287.5 481.5h8M291.5 477.5v8"/><path d="M252.5 425.5h8M256.5 421.5v8"/><path d="M216.5 434.5h8M220.5 430.5v8"/><path d="M305.5 460.5h8M309.5 456.5v8"/><path d="M260.5 468.5h8M264.5 464.5v8"/><path d="M294.5 474.5h8M298.5 470.5v8"/><path d="M249.5 473.5h8M253.5 469.5v8"/><path d="M218.5 306.5h8M222.5 302.5v8"/><path d="M233.5 468.5h8M237.5 464.5v8"/><path d="M194.5 395.5h8M198.5 391.5v8"/><path d="M313.5 429.5h8M317.5 425.5v8"/><path d="M340.5 463.5h8M344.5 459.5v8"/><path d="M301.5 475.5h8M305.5 471.5v8"/><path d="M264.5 478.5h8M268.5 474.5v8"/><path d="M346.5 468.5h8M350.5 464.5v8"/><path d="M296.5 415.5h8M300.5 411.5v8"/><path d="M326.5 474.5h8M330.5 470.5v8"/><path d="M241.5 324.5h8M245.5 320.5v8"/><path d="M366.5 446.5h8M370.5 442.5v8"/><path d="M193.5 377.5h8M197.5 373.5v8"/><path d="M269.5 484.5h8M273.5 480.5v8"/><path d="M350.5 394.5h8M354.5 390.5v8"/><path d="M245.5 361.5h8M249.5 357.5v8"/><path d="M282.5 436.5h8M286.5 432.5v8"/><path d="M313.5 442.5h8M317.5 438.5v8"/><path d="M305.5 392.5h8M309.5 388.5v8"/><path d="M286.5 371.5h8M290.5 367.5v8"/><path d="M301.5 479.5h8M305.5 475.5v8"/><path d="M305.5 457.5h8M309.5 453.5v8"/><path d="M254.5 471.5h8M258.5 467.5v8"/><path d="M277.5 383.5h8M281.5 379.5v8"/><path d="M313.5 396.5h8M317.5 392.5v8"/><path d="M270.5 464.5h8M274.5 460.5v8"/><path d="M319.5 427.5h8M323.5 423.5v8"/><path d="M199.5 58.5h8M203.5 54.5v8"/><path d="M346.5 466.5h8M350.5 462.5v8"/><path d="M290.5 439.5h8M294.5 435.5v8"/><path d="M337.5 416.5h8M341.5 412.5v8"/><path d="M307.5 366.5h8M311.5 362.5v8"/><path d="M273.5 459.5h8M277.5 455.5v8"/><path d="M198.5 352.5h8M202.5 348.5v8"/><path d="M290.5 267.5h8M294.5 263.5v8"/><path d="M294.5 399.5h8M298.5 395.5v8"/><path d="M296.5 456.5h8M300.5 452.5v8"/><path d="M284.5 473.5h8M288.5 469.5v8"/><path d="M254.5 388.5h8M258.5 384.5v8"/><path d="M203.5 472.5h8M207.5 468.5v8"/><path d="M307.5 485.5h8M311.5 481.5v8"/><path d="M326.5 479.5h8M330.5 475.5v8"/><path d="M274.5 372.5h8M278.5 368.5v8"/><path d="M250.5 383.5h8M254.5 379.5v8"/><path d="M314.5 484.5h8M318.5 480.5v8"/><path d="M274.5 461.5h8M278.5 457.5v8"/><path d="M291.5 467.5h8M295.5 463.5v8"/><path d="M307.5 485.5h8M311.5 481.5v8"/><path d="M308.5 286.5h8M312.5 282.5v8"/><path d="M346.5 451.5h8M350.5 447.5v8"/><path d="M300.5 407.5h8M304.5 403.5v8"/><path d="M214.5 473.5h8M218.5 469.5v8"/><path d="M216.5 472.5h8M220.5 468.5v8"/><path d="M198.5 388.5h8M202.5 384.5v8"/><path d="M282.5 428.5h8M286.5 424.5v8"/><path d="M281.5 384.5h8M285.5 380.5v8"/><path d="M218.5 391.5h8M222.5 387.5v8"/><path d="M327.5 471.5h8M331.5 467.5v8"/><path d="M196.5 413.5h8M200.5 409.5v8"/><path d="M219.5 257.5h8M223.5 253.5v8"/><path d="M343.5 482.5h8M347.5 478.5v8"/><path d="M287.5 397.5h8M291.5 393.5v8"/><path d="M345.5 482.5h8M349.5 478.5v8"/><path d="M342.5 475.5h8M346.5 471.5v8"/><path d="M258.5 296.5h8M262.5 292.5v8"/><path d="M282.5 454.5h8M286.5 450.5v8"/><path d="M310.5 426.5h8M314.5 422.5v8"/><path d="M229.5 425.5h8M233.5 421.5v8"/><path d="M256.5 468.5h8M260.5 464.5v8"/><path d="M311.5 452.5h8M315.5 448.5v8"/><path d="M286.5 438.5h8M290.5 434.5v8"/><path d="M319.5 461.5h8M323.5 457.5v8"/><path d="M230.5 470.5h8M234.5 466.5v8"/><path d="M305.5 445.5h8M309.5 441.5v8"/><path d="M325.5 450.5h8M329.5 446.5v8"/><path d="M290.5 481.5h8M294.5 477.5v8"/><path d="M298.5 319.5h8M302.5 315.5v8"/><path d="M309.5 436.5h8M313.5 432.5v8"/><path d="M322.5 397.5h8M326.5 393.5v8"/><path d="M295.5 309.5h8M299.5 305.5v8"/><path d="M306.5 413.5h8M310.5 409.5v8"/><path d="M284.5 406.5h8M288.5 402.5v8"/><path d="M271.5 400.5h8M275.5 396.5v8"/><path d="M289.5 307.5h8M293.5 303.5v8"/><path d="M251.5 439.5h8M255.5 435.5v8"/><path d="M275.5 460.5h8M279.5 456.5v8"/><path d="M321.5 459.5h8M325.5 455.5v8"/><path d="M275.5 360.5h8M279.5 356.5v8"/><path d="M301.5 282.5h8M305.5 278.5v8"/><path d="M212.5 354.5h8M216.5 350.5v8"/><path d="M302.5 480.5h8M306.5 476.5v8"/><path d="M272.5 476.5h8M276.5 472.5v8"/><path d="M283.5 428.5h8M287.5 424.5v8"/><path d="M290.5 450.5h8M294.5 446.5v8"/><path d="M201.5 462.5h8M205.5 458.5v8"/><path d="M355.5 458.5h8M359.5 454.5v8"/><path d="M303.5 445.5h8M307.5 441.5v8"/><path d="M300.5 312.5h8M304.5 308.5v8"/><path d="M279.5 418.5h8M283.5 414.5v8"/><path d="M292.5 300.5h8M296.5 296.5v8"/><path d="M253.5 472.5h8M257.5 468.5v8"/><path d="M358.5 464.5h8M362.5 460.5v8"/><path d="M321.5 450.5h8M325.5 446.5v8"/><path d="M295.5 447.5h8M299.5 443.5v8"/><path d="M291.5 63.5h8M295.5 59.5v8"/><path d="M233.5 471.5h8M237.5 467.5v8"/><path d="M293.5 333.5h8M297.5 329.5v8"/><path d="M295.5 379.5h8M299.5 375.5v8"/><path d="M292.5 375.5h8M296.5 371.5v8"/><path d="M272.5 374.5h8M276.5 370.5v8"/><path d="M203.5 473.5h8M207.5 469.5v8"/><path d="M303.5 378.5h8M307.5 374.5v8"/><path d="M313.5 437.5h8M317.5 433.5v8"/><path d="M300.5 431.5h8M304.5 427.5v8"/><path d="M291.5 435.5h8M295.5 431.5v8"/><path d="M215.5 396.5h8M219.5 392.5v8"/><path d="M216.5 470.5h8M220.5 466.5v8"/><path d="M303.5 422.5h8M307.5 418.5v8"/><path d="M312.5 448.5h8M316.5 444.5v8"/><path d="M318.5 424.5h8M322.5 420.5v8"/><path d="M275.5 335.5h8M279.5 331.5v8"/><path d="M303.5 387.5h8M307.5 383.5v8"/><path d="M296.5 470.5h8M300.5 466.5v8"/><path d="M256.5 472.5h8M260.5 468.5v8"/><path d="M207.5 472.5h8M211.5 468.5v8"/><path d="M317.5 438.5h8M321.5 434.5v8"/><path d="M196.5 439.5h8M200.5 435.5v8"/><path d="M285.5 397.5h8M289.5 393.5v8"/><path d="M307.5 441.5h8M311.5 437.5v8"/><path d="M250.5 474.5h8M254.5 470.5v8"/><path d="M281.5 406.5h8M285.5 402.5v8"/><path d="M195.5 442.5h8M199.5 438.5v8"/><path d="M240.5 319.5h8M244.5 315.5v8"/><path d="M274.5 273.5h8M278.5 269.5v8"/><path d="M370.5 427.5h8M374.5 423.5v8"/><path d="M296.5 373.5h8M300.5 369.5v8"/><path d="M269.5 474.5h8M273.5 470.5v8"/><path d="M282.5 370.5h8M286.5 366.5v8"/><path d="M220.5 393.5h8M224.5 389.5v8"/><path d="M289.5 441.5h8M293.5 437.5v8"/><path d="M258.5 471.5h8M262.5 467.5v8"/><path d="M321.5 452.5h8M325.5 448.5v8"/><path d="M274.5 470.5h8M278.5 466.5v8"/><path d="M297.5 471.5h8M301.5 467.5v8"/><path d="M221.5 472.5h8M225.5 468.5v8"/><path d="M326.5 474.5h8M330.5 470.5v8"/><path d="M266.5 467.5h8M270.5 463.5v8"/><path d="M270.5 311.5h8M274.5 307.5v8"/><path d="M280.5 441.5h8M284.5 437.5v8"/><path d="M311.5 480.5h8M315.5 476.5v8"/><path d="M297.5 342.5h8M301.5 338.5v8"/><path d="M282.5 317.5h8M286.5 313.5v8"/><path d="M291.5 419.5h8M295.5 415.5v8"/><path d="M296.5 321.5h8M300.5 317.5v8"/><path d="M328.5 476.5h8M332.5 472.5v8"/><path d="M308.5 458.5h8M312.5 454.5v8"/><path d="M269.5 335.5h8M273.5 331.5v8"/><path d="M322.5 450.5h8M326.5 446.5v8"/><path d="M286.5 390.5h8M290.5 386.5v8"/><path d="M241.5 468.5h8M245.5 464.5v8"/><path d="M350.5 472.5h8M354.5 468.5v8"/><path d="M333.5 449.5h8M337.5 445.5v8"/><path d="M278.5 468.5h8M282.5 464.5v8"/><path d="M291.5 348.5h8M295.5 344.5v8"/><path d="M278.5 470.5h8M282.5 466.5v8"/><path d="M273.5 365.5h8M277.5 361.5v8"/><path d="M233.5 394.5h8M237.5 390.5v8"/><path d="M335.5 479.5h8M339.5 475.5v8"/><path d="M225.5 345.5h8M229.5 341.5v8"/><path d="M284.5 451.5h8M288.5 447.5v8"/><path d="M197.5 369.5h8M201.5 365.5v8"/><path d="M348.5 479.5h8M352.5 475.5v8"/><path d="M287.5 388.5h8M291.5 384.5v8"/><path d="M296.5 429.5h8M300.5 425.5v8"/><path d="M220.5 314.5h8M224.5 310.5v8"/><path d="M286.5 479.5h8M290.5 475.5v8"/><path d="M266.5 449.5h8M270.5 445.5v8"/><path d="M322.5 383.5h8M326.5 379.5v8"/><path d="M282.5 431.5h8M286.5 427.5v8"/><path d="M292.5 445.5h8M296.5 441.5v8"/><path d="M331.5 318.5h8M335.5 314.5v8"/><path d="M347.5 480.5h8M351.5 476.5v8"/><path d="M309.5 446.5h8M313.5 442.5v8"/><path d="M296.5 419.5h8M300.5 415.5v8"/><path d="M274.5 443.5h8M278.5 439.5v8"/><path d="M292.5 431.5h8M296.5 427.5v8"/><path d="M292.5 450.5h8M296.5 446.5v8"/><path d="M256.5 421.5h8M260.5 417.5v8"/><path d="M289.5 378.5h8M293.5 374.5v8"/><path d="M294.5 353.5h8M298.5 349.5v8"/><path d="M309.5 459.5h8M313.5 455.5v8"/><path d="M299.5 367.5h8M303.5 363.5v8"/><path d="M303.5 445.5h8M307.5 441.5v8"/><path d="M219.5 402.5h8M223.5 398.5v8"/><path d="M298.5 364.5h8M302.5 360.5v8"/><path d="M304.5 422.5h8M308.5 418.5v8"/><path d="M304.5 417.5h8M308.5 413.5v8"/><path d="M217.5 471.5h8M221.5 467.5v8"/><path d="M213.5 394.5h8M217.5 390.5v8"/><path d="M293.5 373.5h8M297.5 369.5v8"/><path d="M332.5 465.5h8M336.5 461.5v8"/><path d="M219.5 414.5h8M223.5 410.5v8"/><path d="M315.5 444.5h8M319.5 440.5v8"/><path d="M309.5 405.5h8M313.5 401.5v8"/><path d="M297.5 479.5h8M301.5 475.5v8"/><path d="M316.5 252.5h8M320.5 248.5v8"/><path d="M295.5 436.5h8M299.5 432.5v8"/><path d="M292.5 380.5h8M296.5 376.5v8"/><path d="M335.5 473.5h8M339.5 469.5v8"/><path d="M228.5 262.5h8M232.5 258.5v8"/><path d="M306.5 412.5h8M310.5 408.5v8"/><path d="M299.5 482.5h8M303.5 478.5v8"/><path d="M293.5 416.5h8M297.5 412.5v8"/><path d="M312.5 475.5h8M316.5 471.5v8"/><path d="M291.5 484.5h8M295.5 480.5v8"/><path d="M364.5 480.5h8M368.5 476.5v8"/><path d="M296.5 447.5h8M300.5 443.5v8"/><path d="M275.5 380.5h8M279.5 376.5v8"/><path d="M280.5 477.5h8M284.5 473.5v8"/><path d="M194.5 255.5h8M198.5 251.5v8"/><path d="M322.5 414.5h8M326.5 410.5v8"/><path d="M220.5 294.5h8M224.5 290.5v8"/><path d="M276.5 342.5h8M280.5 338.5v8"/><path d="M275.5 385.5h8M279.5 381.5v8"/><path d="M348.5 420.5h8M352.5 416.5v8"/><path d="M238.5 470.5h8M242.5 466.5v8"/><path d="M282.5 303.5h8M286.5 299.5v8"/><path d="M282.5 426.5h8M286.5 422.5v8"/><path d="M362.5 478.5h8M366.5 474.5v8"/><path d="M313.5 476.5h8M317.5 472.5v8"/><path d="M275.5 370.5h8M279.5 366.5v8"/><path d="M291.5 432.5h8M295.5 428.5v8"/><path d="M277.5 456.5h8M281.5 452.5v8"/><path d="M287.5 384.5h8M291.5 380.5v8"/><path d="M318.5 478.5h8M322.5 474.5v8"/><path d="M229.5 472.5h8M233.5 468.5v8"/><path d="M310.5 470.5h8M314.5 466.5v8"/><path d="M284.5 405.5h8M288.5 401.5v8"/><path d="M287.5 392.5h8M291.5 388.5v8"/><path d="M300.5 369.5h8M304.5 365.5v8"/><path d="M332.5 485.5h8M336.5 481.5v8"/><path d="M266.5 275.5h8M270.5 271.5v8"/><path d="M304.5 392.5h8M308.5 388.5v8"/><path d="M302.5 279.5h8M306.5 275.5v8"/><path d="M247.5 471.5h8M251.5 467.5v8"/><path d="M312.5 409.5h8M316.5 405.5v8"/><path d="M223.5 474.5h8M227.5 470.5v8"/><path d="M295.5 398.5h8M299.5 394.5v8"/><path d="M300.5 485.5h8M304.5 481.5v8"/><path d="M328.5 432.5h8M332.5 428.5v8"/><path d="M296.5 366.5h8M300.5 362.5v8"/><path d="M205.5 300.5h8M209.5 296.5v8"/><path d="M298.5 435.5h8M302.5 431.5v8"/><path d="M310.5 461.5h8M314.5 457.5v8"/><path d="M275.5 333.5h8M279.5 329.5v8"/><path d="M282.5 362.5h8M286.5 358.5v8"/><path d="M312.5 460.5h8M316.5 456.5v8"/><path d="M308.5 453.5h8M312.5 449.5v8"/><path d="M373.5 474.5h8M377.5 470.5v8"/><path d="M308.5 449.5h8M312.5 445.5v8"/><path d="M228.5 386.5h8M232.5 382.5v8"/><path d="M271.5 472.5h8M275.5 468.5v8"/><path d="M285.5 336.5h8M289.5 332.5v8"/><path d="M243.5 474.5h8M247.5 470.5v8"/><path d="M299.5 469.5h8M303.5 465.5v8"/><path d="M284.5 417.5h8M288.5 413.5v8"/><path d="M320.5 425.5h8M324.5 421.5v8"/><path d="M299.5 422.5h8M303.5 418.5v8"/><path d="M296.5 446.5h8M300.5 442.5v8"/><path d="M277.5 304.5h8M281.5 300.5v8"/><path d="M307.5 471.5h8M311.5 467.5v8"/><path d="M288.5 285.5h8M292.5 281.5v8"/><path d="M290.5 392.5h8M294.5 388.5v8"/><path d="M297.5 357.5h8M301.5 353.5v8"/><path d="M221.5 401.5h8M225.5 397.5v8"/><path d="M304.5 445.5h8M308.5 441.5v8"/><path d="M292.5 383.5h8M296.5 379.5v8"/><path d="M343.5 450.5h8M347.5 446.5v8"/><path d="M286.5 269.5h8M290.5 265.5v8"/><path d="M239.5 473.5h8M243.5 469.5v8"/><path d="M249.5 470.5h8M253.5 466.5v8"/><path d="M363.5 482.5h8M367.5 478.5v8"/><path d="M298.5 475.5h8M302.5 471.5v8"/><path d="M252.5 395.5h8M256.5 391.5v8"/><path d="M274.5 462.5h8M278.5 458.5v8"/><path d="M308.5 476.5h8M312.5 472.5v8"/><path d="M223.5 411.5h8M227.5 407.5v8"/><path d="M296.5 414.5h8M300.5 410.5v8"/><path d="M295.5 476.5h8M299.5 472.5v8"/><path d="M318.5 382.5h8M322.5 378.5v8"/><path d="M290.5 394.5h8M294.5 390.5v8"/><path d="M270.5 466.5h8M274.5 462.5v8"/><path d="M206.5 275.5h8M210.5 271.5v8"/><path d="M255.5 474.5h8M259.5 470.5v8"/><path d="M287.5 470.5h8M291.5 466.5v8"/><path d="M287.5 434.5h8M291.5 430.5v8"/><path d="M295.5 392.5h8M299.5 388.5v8"/><path d="M333.5 461.5h8M337.5 457.5v8"/><path d="M299.5 425.5h8M303.5 421.5v8"/><path d="M195.5 358.5h8M199.5 354.5v8"/><path d="M214.5 442.5h8M218.5 438.5v8"/><path d="M355.5 459.5h8M359.5 455.5v8"/><path d="M312.5 258.5h8M316.5 254.5v8"/><path d="M300.5 378.5h8M304.5 374.5v8"/><path d="M242.5 383.5h8M246.5 379.5v8"/><path d="M204.5 426.5h8M208.5 422.5v8"/><path d="M369.5 482.5h8M373.5 478.5v8"/><path d="M282.5 383.5h8M286.5 379.5v8"/><path d="M319.5 479.5h8M323.5 475.5v8"/><path d="M285.5 337.5h8M289.5 333.5v8"/><path d="M228.5 414.5h8M232.5 410.5v8"/><path d="M283.5 461.5h8M287.5 457.5v8"/><path d="M312.5 466.5h8M316.5 462.5v8"/><path d="M250.5 469.5h8M254.5 465.5v8"/><path d="M314.5 445.5h8M318.5 441.5v8"/><path d="M218.5 471.5h8M222.5 467.5v8"/><path d="M289.5 456.5h8M293.5 452.5v8"/><path d="M312.5 396.5h8M316.5 392.5v8"/><path d="M360.5 480.5h8M364.5 476.5v8"/><path d="M280.5 381.5h8M284.5 377.5v8"/><path d="M361.5 466.5h8M365.5 462.5v8"/><path d="M242.5 368.5h8M246.5 364.5v8"/><path d="M278.5 430.5h8M282.5 426.5v8"/><path d="M282.5 425.5h8M286.5 421.5v8"/><path d="M293.5 447.5h8M297.5 443.5v8"/><path d="M296.5 465.5h8M300.5 461.5v8"/><path d="M272.5 413.5h8M276.5 409.5v8"/><path d="M278.5 414.5h8M282.5 410.5v8"/><path d="M281.5 457.5h8M285.5 453.5v8"/><path d="M367.5 485.5h8M371.5 481.5v8"/><path d="M285.5 480.5h8M289.5 476.5v8"/><path d="M327.5 413.5h8M331.5 409.5v8"/><path d="M279.5 483.5h8M283.5 479.5v8"/><path d="M193.5 455.5h8M197.5 451.5v8"/><path d="M300.5 473.5h8M304.5 469.5v8"/><path d="M285.5 468.5h8M289.5 464.5v8"/><path d="M194.5 417.5h8M198.5 413.5v8"/><path d="M289.5 250.5h8M293.5 246.5v8"/><path d="M282.5 343.5h8M286.5 339.5v8"/><path d="M279.5 479.5h8M283.5 475.5v8"/><path d="M279.5 253.5h8M283.5 249.5v8"/><path d="M349.5 458.5h8M353.5 454.5v8"/><path d="M288.5 431.5h8M292.5 427.5v8"/><path d="M272.5 401.5h8M276.5 397.5v8"/><path d="M271.5 477.5h8M275.5 473.5v8"/><path d="M291.5 473.5h8M295.5 469.5v8"/><path d="M322.5 447.5h8M326.5 443.5v8"/><path d="M352.5 453.5h8M356.5 449.5v8"/><path d="M203.5 471.5h8M207.5 467.5v8"/><path d="M210.5 429.5h8M214.5 425.5v8"/><path d="M309.5 418.5h8M313.5 414.5v8"/><path d="M355.5 485.5h8M359.5 481.5v8"/><path d="M296.5 358.5h8M300.5 354.5v8"/><path d="M310.5 435.5h8M314.5 431.5v8"/><path d="M271.5 482.5h8M275.5 478.5v8"/><path d="M318.5 447.5h8M322.5 443.5v8"/><path d="M276.5 290.5h8M280.5 286.5v8"/><path d="M238.5 471.5h8M242.5 467.5v8"/><path d="M323.5 409.5h8M327.5 405.5v8"/><path d="M201.5 376.5h8M205.5 372.5v8"/><path d="M209.5 474.5h8M213.5 470.5v8"/><path d="M296.5 342.5h8M300.5 338.5v8"/><path d="M315.5 408.5h8M319.5 404.5v8"/><path d="M201.5 303.5h8M205.5 299.5v8"/><path d="M290.5 416.5h8M294.5 412.5v8"/><path d="M317.5 456.5h8M321.5 452.5v8"/><path d="M299.5 454.5h8M303.5 450.5v8"/><path d="M332.5 289.5h8M336.5 285.5v8"/><path d="M211.5 470.5h8M215.5 466.5v8"/><path d="M226.5 409.5h8M230.5 405.5v8"/><path d="M336.5 485.5h8M340.5 481.5v8"/><path d="M209.5 328.5h8M213.5 324.5v8"/><path d="M303.5 420.5h8M307.5 416.5v8"/><path d="M292.5 426.5h8M296.5 422.5v8"/><path d="M297.5 399.5h8M301.5 395.5v8"/><path d="M282.5 484.5h8M286.5 480.5v8"/><path d="M284.5 461.5h8M288.5 457.5v8"/><path d="M201.5 287.5h8M205.5 283.5v8"/><path d="M298.5 453.5h8M302.5 449.5v8"/><path d="M359.5 483.5h8M363.5 479.5v8"/><path d="M295.5 452.5h8M299.5 448.5v8"/><path d="M213.5 471.5h8M217.5 467.5v8"/><path d="M291.5 317.5h8M295.5 313.5v8"/><path d="M332.5 444.5h8M336.5 440.5v8"/><path d="M326.5 477.5h8M330.5 473.5v8"/><path d="M293.5 295.5h8M297.5 291.5v8"/><path d="M289.5 401.5h8M293.5 397.5v8"/><path d="M283.5 388.5h8M287.5 384.5v8"/><path d="M271.5 437.5h8M275.5 433.5v8"/><path d="M296.5 262.5h8M300.5 258.5v8"/><path d="M348.5 468.5h8M352.5 464.5v8"/><path d="M295.5 422.5h8M299.5 418.5v8"/><path d="M294.5 427.5h8M298.5 423.5v8"/><path d="M278.5 464.5h8M282.5 460.5v8"/><path d="M294.5 450.5h8M298.5 446.5v8"/><path d="M277.5 476.5h8M281.5 472.5v8"/><path d="M332.5 455.5h8M336.5 451.5v8"/><path d="M256.5 472.5h8M260.5 468.5v8"/><path d="M308.5 415.5h8M312.5 411.5v8"/><path d="M355.5 471.5h8M359.5 467.5v8"/><path d="M271.5 316.5h8M275.5 312.5v8"/><path d="M297.5 418.5h8M301.5 414.5v8"/><path d="M314.5 456.5h8M318.5 452.5v8"/><path d="M294.5 413.5h8M298.5 409.5v8"/><path d="M240.5 357.5h8M244.5 353.5v8"/><path d="M240.5 310.5h8M244.5 306.5v8"/><path d="M273.5 420.5h8M277.5 416.5v8"/><path d="M345.5 477.5h8M349.5 473.5v8"/><path d="M248.5 470.5h8M252.5 466.5v8"/><path d="M280.5 450.5h8M284.5 446.5v8"/><path d="M231.5 290.5h8M235.5 286.5v8"/><path d="M304.5 441.5h8M308.5 437.5v8"/><path d="M289.5 433.5h8M293.5 429.5v8"/><path d="M366.5 473.5h8M370.5 469.5v8"/><path d="M304.5 447.5h8M308.5 443.5v8"/><path d="M354.5 487.5h8M358.5 483.5v8"/><path d="M333.5 463.5h8M337.5 459.5v8"/><path d="M220.5 290.5h8M224.5 286.5v8"/><path d="M285.5 384.5h8M289.5 380.5v8"/><path d="M194.5 379.5h8M198.5 375.5v8"/><path d="M289.5 388.5h8M293.5 384.5v8"/><path d="M359.5 468.5h8M363.5 464.5v8"/><path d="M201.5 328.5h8M205.5 324.5v8"/><path d="M331.5 429.5h8M335.5 425.5v8"/><path d="M286.5 481.5h8M290.5 477.5v8"/><path d="M290.5 360.5h8M294.5 356.5v8"/><path d="M281.5 404.5h8M285.5 400.5v8"/><path d="M238.5 472.5h8M242.5 468.5v8"/><path d="M284.5 367.5h8M288.5 363.5v8"/><path d="M300.5 377.5h8M304.5 373.5v8"/><path d="M292.5 376.5h8M296.5 372.5v8"/><path d="M293.5 442.5h8M297.5 438.5v8"/><path d="M282.5 477.5h8M286.5 473.5v8"/><path d="M258.5 473.5h8M262.5 469.5v8"/><path d="M281.5 437.5h8M285.5 433.5v8"/><path d="M289.5 368.5h8M293.5 364.5v8"/><path d="M281.5 481.5h8M285.5 477.5v8"/><path d="M347.5 466.5h8M351.5 462.5v8"/><path d="M361.5 484.5h8M365.5 480.5v8"/><path d="M303.5 483.5h8M307.5 479.5v8"/><path d="M288.5 479.5h8M292.5 475.5v8"/><path d="M362.5 480.5h8M366.5 476.5v8"/><path d="M349.5 474.5h8M353.5 470.5v8"/><path d="M306.5 472.5h8M310.5 468.5v8"/><path d="M206.5 471.5h8M210.5 467.5v8"/><path d="M296.5 450.5h8M300.5 446.5v8"/><path d="M333.5 444.5h8M337.5 440.5v8"/><path d="M293.5 391.5h8M297.5 387.5v8"/><path d="M252.5 474.5h8M256.5 470.5v8"/><path d="M290.5 420.5h8M294.5 416.5v8"/><path d="M340.5 456.5h8M344.5 452.5v8"/><path d="M332.5 464.5h8M336.5 460.5v8"/><path d="M307.5 408.5h8M311.5 404.5v8"/><path d="M207.5 286.5h8M211.5 282.5v8"/><path d="M311.5 472.5h8M315.5 468.5v8"/><path d="M348.5 471.5h8M352.5 467.5v8"/><path d="M278.5 446.5h8M282.5 442.5v8"/><path d="M220.5 277.5h8M224.5 273.5v8"/><path d="M315.5 471.5h8M319.5 467.5v8"/><path d="M301.5 367.5h8M305.5 363.5v8"/><path d="M289.5 426.5h8M293.5 422.5v8"/><path d="M336.5 450.5h8M340.5 446.5v8"/><path d="M303.5 412.5h8M307.5 408.5v8"/><path d="M317.5 374.5h8M321.5 370.5v8"/><path d="M277.5 464.5h8M281.5 460.5v8"/><path d="M316.5 403.5h8M320.5 399.5v8"/><path d="M232.5 475.5h8M236.5 471.5v8"/><path d="M296.5 424.5h8M300.5 420.5v8"/><path d="M205.5 409.5h8M209.5 405.5v8"/><path d="M302.5 470.5h8M306.5 466.5v8"/><path d="M296.5 366.5h8M300.5 362.5v8"/><path d="M305.5 412.5h8M309.5 408.5v8"/><path d="M323.5 462.5h8M327.5 458.5v8"/><path d="M293.5 477.5h8M297.5 473.5v8"/><path d="M216.5 469.5h8M220.5 465.5v8"/><path d="M271.5 460.5h8M275.5 456.5v8"/><path d="M213.5 470.5h8M217.5 466.5v8"/><path d="M333.5 278.5h8M337.5 274.5v8"/><path d="M301.5 441.5h8M305.5 437.5v8"/><path d="M294.5 414.5h8M298.5 410.5v8"/><path d="M297.5 409.5h8M301.5 405.5v8"/><path d="M279.5 309.5h8M283.5 305.5v8"/><path d="M226.5 335.5h8M230.5 331.5v8"/><path d="M278.5 268.5h8M282.5 264.5v8"/><path d="M224.5 469.5h8M228.5 465.5v8"/><path d="M315.5 288.5h8M319.5 284.5v8"/><path d="M284.5 478.5h8M288.5 474.5v8"/><path d="M311.5 433.5h8M315.5 429.5v8"/><path d="M323.5 443.5h8M327.5 439.5v8"/><path d="M242.5 355.5h8M246.5 351.5v8"/><path d="M296.5 385.5h8M300.5 381.5v8"/><path d="M283.5 422.5h8M287.5 418.5v8"/><path d="M257.5 470.5h8M261.5 466.5v8"/><path d="M271.5 268.5h8M275.5 264.5v8"/><path d="M276.5 482.5h8M280.5 478.5v8"/><path d="M303.5 419.5h8M307.5 415.5v8"/><path d="M306.5 480.5h8M310.5 476.5v8"/><path d="M302.5 452.5h8M306.5 448.5v8"/><path d="M317.5 481.5h8M321.5 477.5v8"/><path d="M307.5 400.5h8M311.5 396.5v8"/><path d="M358.5 473.5h8M362.5 469.5v8"/><path d="M295.5 281.5h8M299.5 277.5v8"/><path d="M299.5 436.5h8M303.5 432.5v8"/><path d="M296.5 384.5h8M300.5 380.5v8"/><path d="M297.5 442.5h8M301.5 438.5v8"/><path d="M328.5 477.5h8M332.5 473.5v8"/><path d="M278.5 433.5h8M282.5 429.5v8"/><path d="M276.5 252.5h8M280.5 248.5v8"/><path d="M251.5 431.5h8M255.5 427.5v8"/><path d="M290.5 474.5h8M294.5 470.5v8"/><path d="M333.5 460.5h8M337.5 456.5v8"/><path d="M293.5 356.5h8M297.5 352.5v8"/><path d="M336.5 487.5h8M340.5 483.5v8"/><path d="M301.5 436.5h8M305.5 432.5v8"/><path d="M338.5 288.5h8M342.5 284.5v8"/><path d="M292.5 437.5h8M296.5 433.5v8"/><path d="M330.5 460.5h8M334.5 456.5v8"/><path d="M318.5 478.5h8M322.5 474.5v8"/><path d="M276.5 277.5h8M280.5 273.5v8"/><path d="M271.5 342.5h8M275.5 338.5v8"/><path d="M312.5 406.5h8M316.5 402.5v8"/><path d="M335.5 469.5h8M339.5 465.5v8"/><path d="M300.5 416.5h8M304.5 412.5v8"/><path d="M200.5 421.5h8M204.5 417.5v8"/><path d="M271.5 423.5h8M275.5 419.5v8"/><path d="M295.5 419.5h8M299.5 415.5v8"/><path d="M363.5 483.5h8M367.5 479.5v8"/><path d="M256.5 270.5h8M260.5 266.5v8"/><path d="M285.5 479.5h8M289.5 475.5v8"/><path d="M310.5 479.5h8M314.5 475.5v8"/><path d="M374.5 490.5h8M378.5 486.5v8"/><path d="M258.5 471.5h8M262.5 467.5v8"/><path d="M300.5 466.5h8M304.5 462.5v8"/><path d="M365.5 431.5h8M369.5 427.5v8"/><path d="M277.5 318.5h8M281.5 314.5v8"/><path d="M275.5 252.5h8M279.5 248.5v8"/><path d="M229.5 473.5h8M233.5 469.5v8"/><path d="M208.5 468.5h8M212.5 464.5v8"/><path d="M251.5 473.5h8M255.5 469.5v8"/><path d="M289.5 257.5h8M293.5 253.5v8"/><path d="M322.5 392.5h8M326.5 388.5v8"/><path d="M260.5 457.5h8M264.5 453.5v8"/><path d="M278.5 401.5h8M282.5 397.5v8"/><path d="M329.5 447.5h8M333.5 443.5v8"/><path d="M281.5 426.5h8M285.5 422.5v8"/><path d="M249.5 470.5h8M253.5 466.5v8"/><path d="M201.5 471.5h8M205.5 467.5v8"/><path d="M300.5 465.5h8M304.5 461.5v8"/><path d="M319.5 255.5h8M323.5 251.5v8"/><path d="M336.5 460.5h8M340.5 456.5v8"/><path d="M271.5 420.5h8M275.5 416.5v8"/><path d="M274.5 440.5h8M278.5 436.5v8"/><path d="M226.5 461.5h8M230.5 457.5v8"/><path d="M291.5 460.5h8M295.5 456.5v8"/><path d="M304.5 417.5h8M308.5 413.5v8"/><path d="M295.5 330.5h8M299.5 326.5v8"/><path d="M285.5 452.5h8M289.5 448.5v8"/><path d="M279.5 419.5h8M283.5 415.5v8"/><path d="M291.5 446.5h8M295.5 442.5v8"/><path d="M339.5 484.5h8M343.5 480.5v8"/><path d="M216.5 343.5h8M220.5 339.5v8"/><path d="M309.5 357.5h8M313.5 353.5v8"/><path d="M256.5 469.5h8M260.5 465.5v8"/><path d="M270.5 464.5h8M274.5 460.5v8"/><path d="M278.5 418.5h8M282.5 414.5v8"/><path d="M298.5 473.5h8M302.5 469.5v8"/><path d="M279.5 371.5h8M283.5 367.5v8"/><path d="M289.5 404.5h8M293.5 400.5v8"/><path d="M376.5 444.5h8M380.5 440.5v8"/><path d="M305.5 474.5h8M309.5 470.5v8"/><path d="M312.5 476.5h8M316.5 472.5v8"/><path d="M301.5 458.5h8M305.5 454.5v8"/><path d="M343.5 477.5h8M347.5 473.5v8"/><path d="M285.5 424.5h8M289.5 420.5v8"/><path d="M273.5 430.5h8M277.5 426.5v8"/><path d="M275.5 414.5h8M279.5 410.5v8"/><path d="M297.5 446.5h8M301.5 442.5v8"/><path d="M237.5 469.5h8M241.5 465.5v8"/><path d="M204.5 472.5h8M208.5 468.5v8"/><path d="M293.5 467.5h8M297.5 463.5v8"/><path d="M221.5 373.5h8M225.5 369.5v8"/><path d="M294.5 355.5h8M298.5 351.5v8"/><path d="M288.5 380.5h8M292.5 376.5v8"/><path d="M278.5 406.5h8M282.5 402.5v8"/><path d="M290.5 448.5h8M294.5 444.5v8"/><path d="M236.5 349.5h8M240.5 345.5v8"/><path d="M284.5 408.5h8M288.5 404.5v8"/><path d="M316.5 427.5h8M320.5 423.5v8"/><path d="M268.5 477.5h8M272.5 473.5v8"/><path d="M277.5 412.5h8M281.5 408.5v8"/><path d="M337.5 278.5h8M341.5 274.5v8"/><path d="M295.5 404.5h8M299.5 400.5v8"/><path d="M311.5 273.5h8M315.5 269.5v8"/><path d="M337.5 475.5h8M341.5 471.5v8"/><path d="M223.5 318.5h8M227.5 314.5v8"/><path d="M342.5 482.5h8M346.5 478.5v8"/><path d="M368.5 482.5h8M372.5 478.5v8"/><path d="M230.5 468.5h8M234.5 464.5v8"/><path d="M338.5 453.5h8M342.5 449.5v8"/><path d="M345.5 475.5h8M349.5 471.5v8"/><path d="M276.5 452.5h8M280.5 448.5v8"/><path d="M302.5 443.5h8M306.5 439.5v8"/><path d="M281.5 474.5h8M285.5 470.5v8"/><path d="M193.5 434.5h8M197.5 430.5v8"/><path d="M298.5 478.5h8M302.5 474.5v8"/><path d="M267.5 468.5h8M271.5 464.5v8"/><path d="M298.5 394.5h8M302.5 390.5v8"/><path d="M322.5 469.5h8M326.5 465.5v8"/><path d="M325.5 460.5h8M329.5 456.5v8"/><path d="M324.5 304.5h8M328.5 300.5v8"/><path d="M359.5 477.5h8M363.5 473.5v8"/><path d="M194.5 380.5h8M198.5 376.5v8"/><path d="M297.5 433.5h8M301.5 429.5v8"/><path d="M355.5 477.5h8M359.5 473.5v8"/><path d="M332.5 425.5h8M336.5 421.5v8"/><path d="M357.5 476.5h8M361.5 472.5v8"/><path d="M289.5 473.5h8M293.5 469.5v8"/><path d="M258.5 483.5h8M262.5 479.5v8"/><path d="M294.5 428.5h8M298.5 424.5v8"/><path d="M294.5 460.5h8M298.5 456.5v8"/><path d="M326.5 453.5h8M330.5 449.5v8"/><path d="M294.5 357.5h8M298.5 353.5v8"/><path d="M278.5 405.5h8M282.5 401.5v8"/><path d="M296.5 373.5h8M300.5 369.5v8"/><path d="M187.5 360.5h8M191.5 356.5v8"/><path d="M350.5 479.5h8M354.5 475.5v8"/><path d="M295.5 443.5h8M299.5 439.5v8"/><path d="M311.5 325.5h8M315.5 321.5v8"/><path d="M336.5 472.5h8M340.5 468.5v8"/><path d="M351.5 446.5h8M355.5 442.5v8"/><path d="M301.5 301.5h8M305.5 297.5v8"/><path d="M281.5 443.5h8M285.5 439.5v8"/><path d="M295.5 310.5h8M299.5 306.5v8"/><path d="M324.5 404.5h8M328.5 400.5v8"/><path d="M324.5 477.5h8M328.5 473.5v8"/><path d="M339.5 473.5h8M343.5 469.5v8"/><path d="M294.5 381.5h8M298.5 377.5v8"/><path d="M317.5 481.5h8M321.5 477.5v8"/><path d="M235.5 363.5h8M239.5 359.5v8"/><path d="M346.5 475.5h8M350.5 471.5v8"/><path d="M286.5 472.5h8M290.5 468.5v8"/><path d="M303.5 389.5h8M307.5 385.5v8"/><path d="M191.5 441.5h8M195.5 437.5v8"/><path d="M203.5 427.5h8M207.5 423.5v8"/><path d="M314.5 480.5h8M318.5 476.5v8"/><path d="M293.5 402.5h8M297.5 398.5v8"/><path d="M321.5 453.5h8M325.5 449.5v8"/><path d="M368.5 479.5h8M372.5 475.5v8"/><path d="M289.5 484.5h8M293.5 480.5v8"/><path d="M282.5 470.5h8M286.5 466.5v8"/><path d="M304.5 465.5h8M308.5 461.5v8"/><path d="M282.5 415.5h8M286.5 411.5v8"/><path d="M291.5 438.5h8M295.5 434.5v8"/><path d="M196.5 391.5h8M200.5 387.5v8"/><path d="M204.5 472.5h8M208.5 468.5v8"/><path d="M227.5 473.5h8M231.5 469.5v8"/><path d="M295.5 451.5h8M299.5 447.5v8"/><path d="M228.5 473.5h8M232.5 469.5v8"/><path d="M310.5 419.5h8M314.5 415.5v8"/><path d="M311.5 413.5h8M315.5 409.5v8"/><path d="M220.5 473.5h8M224.5 469.5v8"/><path d="M216.5 382.5h8M220.5 378.5v8"/><path d="M330.5 478.5h8M334.5 474.5v8"/><path d="M289.5 464.5h8M293.5 460.5v8"/><path d="M294.5 323.5h8M298.5 319.5v8"/><path d="M280.5 425.5h8M284.5 421.5v8"/><path d="M298.5 364.5h8M302.5 360.5v8"/><path d="M302.5 455.5h8M306.5 451.5v8"/><path d="M325.5 431.5h8M329.5 427.5v8"/><path d="M252.5 431.5h8M256.5 427.5v8"/><path d="M323.5 471.5h8M327.5 467.5v8"/><path d="M275.5 293.5h8M279.5 289.5v8"/><path d="M282.5 310.5h8M286.5 306.5v8"/><path d="M296.5 426.5h8M300.5 422.5v8"/><path d="M276.5 385.5h8M280.5 381.5v8"/><path d="M333.5 420.5h8M337.5 416.5v8"/><path d="M241.5 470.5h8M245.5 466.5v8"/><path d="M291.5 415.5h8M295.5 411.5v8"/><path d="M272.5 466.5h8M276.5 462.5v8"/><path d="M285.5 305.5h8M289.5 301.5v8"/><path d="M304.5 380.5h8M308.5 376.5v8"/><path d="M222.5 379.5h8M226.5 375.5v8"/><path d="M298.5 480.5h8M302.5 476.5v8"/><path d="M298.5 458.5h8M302.5 454.5v8"/><path d="M332.5 461.5h8M336.5 457.5v8"/><path d="M290.5 399.5h8M294.5 395.5v8"/><path d="M213.5 261.5h8M217.5 257.5v8"/><path d="M301.5 470.5h8M305.5 466.5v8"/><path d="M309.5 434.5h8M313.5 430.5v8"/><path d="M340.5 494.5h8M344.5 490.5v8"/><path d="M199.5 357.5h8M203.5 353.5v8"/><path d="M373.5 495.5h8M377.5 491.5v8"/><path d="M279.5 464.5h8M283.5 460.5v8"/><path d="M291.5 380.5h8M295.5 376.5v8"/><path d="M275.5 307.5h8M279.5 303.5v8"/><path d="M286.5 416.5h8M290.5 412.5v8"/><path d="M277.5 452.5h8M281.5 448.5v8"/><path d="M329.5 455.5h8M333.5 451.5v8"/><path d="M272.5 366.5h8M276.5 362.5v8"/><path d="M281.5 407.5h8M285.5 403.5v8"/><path d="M219.5 419.5h8M223.5 415.5v8"/><path d="M275.5 446.5h8M279.5 442.5v8"/><path d="M278.5 456.5h8M282.5 452.5v8"/><path d="M286.5 455.5h8M290.5 451.5v8"/><path d="M271.5 453.5h8M275.5 449.5v8"/><path d="M320.5 482.5h8M324.5 478.5v8"/><path d="M340.5 424.5h8M344.5 420.5v8"/><path d="M288.5 357.5h8M292.5 353.5v8"/><path d="M272.5 443.5h8M276.5 439.5v8"/><path d="M276.5 363.5h8M280.5 359.5v8"/><path d="M277.5 474.5h8M281.5 470.5v8"/><path d="M279.5 432.5h8M283.5 428.5v8"/><path d="M346.5 479.5h8M350.5 475.5v8"/><path d="M317.5 485.5h8M321.5 481.5v8"/><path d="M287.5 459.5h8M291.5 455.5v8"/><path d="M208.5 418.5h8M212.5 414.5v8"/><path d="M361.5 481.5h8M365.5 477.5v8"/><path d="M326.5 423.5h8M330.5 419.5v8"/><path d="M257.5 470.5h8M261.5 466.5v8"/><path d="M309.5 435.5h8M313.5 431.5v8"/><path d="M284.5 423.5h8M288.5 419.5v8"/><path d="M294.5 431.5h8M298.5 427.5v8"/><path d="M273.5 479.5h8M277.5 475.5v8"/><path d="M287.5 326.5h8M291.5 322.5v8"/><path d="M320.5 433.5h8M324.5 429.5v8"/><path d="M287.5 464.5h8M291.5 460.5v8"/><path d="M298.5 302.5h8M302.5 298.5v8"/><path d="M288.5 411.5h8M292.5 407.5v8"/><path d="M203.5 471.5h8M207.5 467.5v8"/><path d="M290.5 479.5h8M294.5 475.5v8"/><path d="M290.5 429.5h8M294.5 425.5v8"/><path d="M368.5 481.5h8M372.5 477.5v8"/><path d="M276.5 285.5h8M280.5 281.5v8"/><path d="M357.5 481.5h8M361.5 477.5v8"/><path d="M285.5 476.5h8M289.5 472.5v8"/><path d="M272.5 439.5h8M276.5 435.5v8"/><path d="M318.5 442.5h8M322.5 438.5v8"/><path d="M303.5 67.5h8M307.5 63.5v8"/><path d="M281.5 443.5h8M285.5 439.5v8"/><path d="M287.5 436.5h8M291.5 432.5v8"/><path d="M277.5 365.5h8M281.5 361.5v8"/><path d="M302.5 309.5h8M306.5 305.5v8"/><path d="M227.5 306.5h8M231.5 302.5v8"/><path d="M230.5 285.5h8M234.5 281.5v8"/><path d="M361.5 487.5h8M365.5 483.5v8"/><path d="M275.5 395.5h8M279.5 391.5v8"/><path d="M249.5 473.5h8M253.5 469.5v8"/><path d="M273.5 476.5h8M277.5 472.5v8"/><path d="M283.5 438.5h8M287.5 434.5v8"/><path d="M295.5 481.5h8M299.5 477.5v8"/><path d="M314.5 298.5h8M318.5 294.5v8"/><path d="M303.5 390.5h8M307.5 386.5v8"/><path d="M303.5 473.5h8M307.5 469.5v8"/><path d="M324.5 483.5h8M328.5 479.5v8"/><path d="M290.5 396.5h8M294.5 392.5v8"/><path d="M346.5 470.5h8M350.5 466.5v8"/><path d="M218.5 474.5h8M222.5 470.5v8"/><path d="M200.5 409.5h8M204.5 405.5v8"/><path d="M288.5 315.5h8M292.5 311.5v8"/><path d="M304.5 455.5h8M308.5 451.5v8"/><path d="M323.5 333.5h8M327.5 329.5v8"/><path d="M281.5 343.5h8M285.5 339.5v8"/><path d="M303.5 449.5h8M307.5 445.5v8"/><path d="M275.5 455.5h8M279.5 451.5v8"/><path d="M338.5 479.5h8M342.5 475.5v8"/><path d="M345.5 461.5h8M349.5 457.5v8"/><path d="M197.5 435.5h8M201.5 431.5v8"/><path d="M284.5 311.5h8M288.5 307.5v8"/><path d="M210.5 412.5h8M214.5 408.5v8"/><path d="M266.5 353.5h8M270.5 349.5v8"/><path d="M298.5 457.5h8M302.5 453.5v8"/><path d="M291.5 442.5h8M295.5 438.5v8"/><path d="M295.5 264.5h8M299.5 260.5v8"/><path d="M287.5 423.5h8M291.5 419.5v8"/><path d="M275.5 397.5h8M279.5 393.5v8"/><path d="M214.5 457.5h8M218.5 453.5v8"/><path d="M205.5 363.5h8M209.5 359.5v8"/><path d="M259.5 373.5h8M263.5 369.5v8"/><path d="M287.5 480.5h8M291.5 476.5v8"/><path d="M291.5 445.5h8M295.5 441.5v8"/><path d="M322.5 470.5h8M326.5 466.5v8"/><path d="M321.5 459.5h8M325.5 455.5v8"/><path d="M211.5 473.5h8M215.5 469.5v8"/><path d="M302.5 309.5h8M306.5 305.5v8"/><path d="M276.5 445.5h8M280.5 441.5v8"/><path d="M226.5 475.5h8M230.5 471.5v8"/><path d="M313.5 417.5h8M317.5 413.5v8"/><path d="M253.5 469.5h8M257.5 465.5v8"/><path d="M360.5 480.5h8M364.5 476.5v8"/><path d="M195.5 415.5h8M199.5 411.5v8"/><path d="M318.5 462.5h8M322.5 458.5v8"/><path d="M297.5 390.5h8M301.5 386.5v8"/><path d="M278.5 457.5h8M282.5 453.5v8"/><path d="M286.5 400.5h8M290.5 396.5v8"/><path d="M219.5 472.5h8M223.5 468.5v8"/><path d="M317.5 463.5h8M321.5 459.5v8"/><path d="M336.5 280.5h8M340.5 276.5v8"/><path d="M212.5 472.5h8M216.5 468.5v8"/><path d="M327.5 452.5h8M331.5 448.5v8"/><path d="M293.5 302.5h8M297.5 298.5v8"/><path d="M243.5 472.5h8M247.5 468.5v8"/><path d="M321.5 462.5h8M325.5 458.5v8"/><path d="M315.5 479.5h8M319.5 475.5v8"/><path d="M338.5 464.5h8M342.5 460.5v8"/><path d="M304.5 390.5h8M308.5 386.5v8"/><path d="M331.5 467.5h8M335.5 463.5v8"/><path d="M221.5 470.5h8M225.5 466.5v8"/><path d="M278.5 396.5h8M282.5 392.5v8"/><path d="M308.5 451.5h8M312.5 447.5v8"/><path d="M314.5 408.5h8M318.5 404.5v8"/><path d="M200.5 353.5h8M204.5 349.5v8"/><path d="M316.5 486.5h8M320.5 482.5v8"/><path d="M299.5 429.5h8M303.5 425.5v8"/><path d="M292.5 431.5h8M296.5 427.5v8"/><path d="M296.5 372.5h8M300.5 368.5v8"/><path d="M290.5 253.5h8M294.5 249.5v8"/><path d="M309.5 479.5h8M313.5 475.5v8"/><path d="M303.5 470.5h8M307.5 466.5v8"/><path d="M351.5 476.5h8M355.5 472.5v8"/><path d="M294.5 412.5h8M298.5 408.5v8"/><path d="M307.5 379.5h8M311.5 375.5v8"/><path d="M283.5 303.5h8M287.5 299.5v8"/><path d="M290.5 262.5h8M294.5 258.5v8"/><path d="M304.5 420.5h8M308.5 416.5v8"/><path d="M294.5 359.5h8M298.5 355.5v8"/><path d="M315.5 410.5h8M319.5 406.5v8"/><path d="M307.5 439.5h8M311.5 435.5v8"/><path d="M276.5 315.5h8M280.5 311.5v8"/><path d="M363.5 479.5h8M367.5 475.5v8"/><path d="M314.5 331.5h8M318.5 327.5v8"/><path d="M258.5 333.5h8M262.5 329.5v8"/><path d="M336.5 482.5h8M340.5 478.5v8"/><path d="M240.5 469.5h8M244.5 465.5v8"/><path d="M347.5 463.5h8M351.5 459.5v8"/><path d="M277.5 444.5h8M281.5 440.5v8"/><path d="M294.5 388.5h8M298.5 384.5v8"/><path d="M306.5 484.5h8M310.5 480.5v8"/><path d="M320.5 296.5h8M324.5 292.5v8"/><path d="M299.5 466.5h8M303.5 462.5v8"/><path d="M304.5 402.5h8M308.5 398.5v8"/><path d="M350.5 468.5h8M354.5 464.5v8"/><path d="M294.5 450.5h8M298.5 446.5v8"/><path d="M286.5 432.5h8M290.5 428.5v8"/><path d="M289.5 391.5h8M293.5 387.5v8"/><path d="M292.5 261.5h8M296.5 257.5v8"/><path d="M283.5 307.5h8M287.5 303.5v8"/><path d="M197.5 406.5h8M201.5 402.5v8"/><path d="M282.5 295.5h8M286.5 291.5v8"/><path d="M293.5 397.5h8M297.5 393.5v8"/><path d="M272.5 374.5h8M276.5 370.5v8"/><path d="M336.5 481.5h8M340.5 477.5v8"/><path d="M281.5 285.5h8M285.5 281.5v8"/><path d="M295.5 429.5h8M299.5 425.5v8"/><path d="M286.5 325.5h8M290.5 321.5v8"/><path d="M363.5 478.5h8M367.5 474.5v8"/><path d="M276.5 325.5h8M280.5 321.5v8"/><path d="M288.5 443.5h8M292.5 439.5v8"/><path d="M275.5 356.5h8M279.5 352.5v8"/><path d="M286.5 478.5h8M290.5 474.5v8"/><path d="M278.5 484.5h8M282.5 480.5v8"/><path d="M217.5 400.5h8M221.5 396.5v8"/><path d="M225.5 329.5h8M229.5 325.5v8"/><path d="M376.5 469.5h8M380.5 465.5v8"/><path d="M276.5 417.5h8M280.5 413.5v8"/><path d="M282.5 335.5h8M286.5 331.5v8"/><path d="M306.5 460.5h8M310.5 456.5v8"/><path d="M290.5 386.5h8M294.5 382.5v8"/><path d="M325.5 464.5h8M329.5 460.5v8"/><path d="M291.5 304.5h8M295.5 300.5v8"/><path d="M319.5 422.5h8M323.5 418.5v8"/><path d="M318.5 464.5h8M322.5 460.5v8"/><path d="M201.5 387.5h8M205.5 383.5v8"/><path d="M292.5 476.5h8M296.5 472.5v8"/><path d="M294.5 478.5h8M298.5 474.5v8"/><path d="M279.5 371.5h8M283.5 367.5v8"/><path d="M343.5 461.5h8M347.5 457.5v8"/><path d="M296.5 277.5h8M300.5 273.5v8"/><path d="M294.5 352.5h8M298.5 348.5v8"/><path d="M314.5 435.5h8M318.5 431.5v8"/><path d="M301.5 355.5h8M305.5 351.5v8"/><path d="M202.5 390.5h8M206.5 386.5v8"/><path d="M316.5 455.5h8M320.5 451.5v8"/><path d="M281.5 284.5h8M285.5 280.5v8"/><path d="M291.5 329.5h8M295.5 325.5v8"/><path d="M284.5 324.5h8M288.5 320.5v8"/><path d="M261.5 449.5h8M265.5 445.5v8"/><path d="M295.5 440.5h8M299.5 436.5v8"/><path d="M243.5 470.5h8M247.5 466.5v8"/><path d="M282.5 432.5h8M286.5 428.5v8"/><path d="M299.5 443.5h8M303.5 439.5v8"/><path d="M247.5 471.5h8M251.5 467.5v8"/><path d="M281.5 350.5h8M285.5 346.5v8"/><path d="M336.5 458.5h8M340.5 454.5v8"/><path d="M232.5 416.5h8M236.5 412.5v8"/><path d="M279.5 439.5h8M283.5 435.5v8"/><path d="M196.5 425.5h8M200.5 421.5v8"/><path d="M284.5 416.5h8M288.5 412.5v8"/><path d="M279.5 410.5h8M283.5 406.5v8"/><path d="M289.5 456.5h8M293.5 452.5v8"/><path d="M310.5 477.5h8M314.5 473.5v8"/><path d="M282.5 464.5h8M286.5 460.5v8"/><path d="M215.5 445.5h8M219.5 441.5v8"/><path d="M267.5 466.5h8M271.5 462.5v8"/><path d="M360.5 437.5h8M364.5 433.5v8"/><path d="M349.5 464.5h8M353.5 460.5v8"/><path d="M261.5 283.5h8M265.5 279.5v8"/><path d="M284.5 321.5h8M288.5 317.5v8"/><path d="M310.5 484.5h8M314.5 480.5v8"/><path d="M351.5 483.5h8M355.5 479.5v8"/><path d="M289.5 413.5h8M293.5 409.5v8"/><path d="M366.5 475.5h8M370.5 471.5v8"/><path d="M230.5 469.5h8M234.5 465.5v8"/><path d="M279.5 344.5h8M283.5 340.5v8"/><path d="M303.5 338.5h8M307.5 334.5v8"/><path d="M270.5 477.5h8M274.5 473.5v8"/><path d="M283.5 353.5h8M287.5 349.5v8"/><path d="M371.5 483.5h8M375.5 479.5v8"/><path d="M275.5 403.5h8M279.5 399.5v8"/><path d="M326.5 458.5h8M330.5 454.5v8"/><path d="M238.5 472.5h8M242.5 468.5v8"/><path d="M351.5 464.5h8M355.5 460.5v8"/><path d="M356.5 471.5h8M360.5 467.5v8"/><path d="M327.5 453.5h8M331.5 449.5v8"/><path d="M220.5 368.5h8M224.5 364.5v8"/><path d="M276.5 469.5h8M280.5 465.5v8"/><path d="M221.5 385.5h8M225.5 381.5v8"/><path d="M198.5 423.5h8M202.5 419.5v8"/><path d="M296.5 310.5h8M300.5 306.5v8"/><path d="M328.5 439.5h8M332.5 435.5v8"/><path d="M306.5 442.5h8M310.5 438.5v8"/><path d="M281.5 393.5h8M285.5 389.5v8"/><path d="M226.5 406.5h8M230.5 402.5v8"/><path d="M277.5 378.5h8M281.5 374.5v8"/><path d="M293.5 369.5h8M297.5 365.5v8"/><path d="M217.5 471.5h8M221.5 467.5v8"/><path d="M301.5 408.5h8M305.5 404.5v8"/><path d="M218.5 372.5h8M222.5 368.5v8"/><path d="M313.5 462.5h8M317.5 458.5v8"/><path d="M307.5 408.5h8M311.5 404.5v8"/><path d="M304.5 426.5h8M308.5 422.5v8"/><path d="M224.5 472.5h8M228.5 468.5v8"/><path d="M274.5 374.5h8M278.5 370.5v8"/><path d="M250.5 461.5h8M254.5 457.5v8"/><path d="M302.5 431.5h8M306.5 427.5v8"/><path d="M257.5 471.5h8M261.5 467.5v8"/><path d="M302.5 304.5h8M306.5 300.5v8"/><path d="M260.5 379.5h8M264.5 375.5v8"/><path d="M218.5 412.5h8M222.5 408.5v8"/><path d="M291.5 386.5h8M295.5 382.5v8"/><path d="M292.5 482.5h8M296.5 478.5v8"/><path d="M355.5 474.5h8M359.5 470.5v8"/><path d="M294.5 326.5h8M298.5 322.5v8"/><path d="M234.5 472.5h8M238.5 468.5v8"/><path d="M272.5 439.5h8M276.5 435.5v8"/><path d="M273.5 453.5h8M277.5 449.5v8"/><path d="M293.5 452.5h8M297.5 448.5v8"/><path d="M194.5 276.5h8M198.5 272.5v8"/><path d="M259.5 295.5h8M263.5 291.5v8"/><path d="M330.5 445.5h8M334.5 441.5v8"/><path d="M248.5 420.5h8M252.5 416.5v8"/><path d="M277.5 401.5h8M281.5 397.5v8"/><path d="M262.5 362.5h8M266.5 358.5v8"/><path d="M266.5 407.5h8M270.5 403.5v8"/><path d="M329.5 482.5h8M333.5 478.5v8"/><path d="M294.5 384.5h8M298.5 380.5v8"/><path d="M298.5 466.5h8M302.5 462.5v8"/><path d="M219.5 275.5h8M223.5 271.5v8"/><path d="M298.5 346.5h8M302.5 342.5v8"/><path d="M277.5 441.5h8M281.5 437.5v8"/><path d="M316.5 450.5h8M320.5 446.5v8"/><path d="M241.5 471.5h8M245.5 467.5v8"/><path d="M232.5 469.5h8M236.5 465.5v8"/><path d="M283.5 462.5h8M287.5 458.5v8"/><path d="M297.5 426.5h8M301.5 422.5v8"/><path d="M263.5 313.5h8M267.5 309.5v8"/><path d="M294.5 312.5h8M298.5 308.5v8"/><path d="M352.5 484.5h8M356.5 480.5v8"/><path d="M362.5 474.5h8M366.5 470.5v8"/><path d="M292.5 470.5h8M296.5 466.5v8"/><path d="M319.5 480.5h8M323.5 476.5v8"/><path d="M352.5 476.5h8M356.5 472.5v8"/><path d="M285.5 330.5h8M289.5 326.5v8"/><path d="M284.5 458.5h8M288.5 454.5v8"/><path d="M277.5 403.5h8M281.5 399.5v8"/><path d="M258.5 475.5h8M262.5 471.5v8"/><path d="M304.5 419.5h8M308.5 415.5v8"/><path d="M230.5 473.5h8M234.5 469.5v8"/><path d="M319.5 461.5h8M323.5 457.5v8"/><path d="M295.5 417.5h8M299.5 413.5v8"/><path d="M213.5 370.5h8M217.5 366.5v8"/><path d="M303.5 446.5h8M307.5 442.5v8"/><path d="M290.5 433.5h8M294.5 429.5v8"/><path d="M242.5 468.5h8M246.5 464.5v8"/><path d="M285.5 354.5h8M289.5 350.5v8"/><path d="M278.5 471.5h8M282.5 467.5v8"/><path d="M296.5 443.5h8M300.5 439.5v8"/><path d="M327.5 455.5h8M331.5 451.5v8"/><path d="M232.5 469.5h8M236.5 465.5v8"/><path d="M288.5 425.5h8M292.5 421.5v8"/><path d="M255.5 470.5h8M259.5 466.5v8"/><path d="M283.5 411.5h8M287.5 407.5v8"/><path d="M292.5 312.5h8M296.5 308.5v8"/><path d="M328.5 492.5h8M332.5 488.5v8"/><path d="M292.5 262.5h8M296.5 258.5v8"/><path d="M289.5 352.5h8M293.5 348.5v8"/><path d="M286.5 324.5h8M290.5 320.5v8"/><path d="M339.5 454.5h8M343.5 450.5v8"/><path d="M272.5 471.5h8M276.5 467.5v8"/><path d="M229.5 408.5h8M233.5 404.5v8"/><path d="M300.5 415.5h8M304.5 411.5v8"/><path d="M299.5 469.5h8M303.5 465.5v8"/><path d="M288.5 394.5h8M292.5 390.5v8"/><path d="M326.5 411.5h8M330.5 407.5v8"/><path d="M295.5 432.5h8M299.5 428.5v8"/><path d="M366.5 482.5h8M370.5 478.5v8"/><path d="M207.5 346.5h8M211.5 342.5v8"/><path d="M219.5 470.5h8M223.5 466.5v8"/><path d="M284.5 429.5h8M288.5 425.5v8"/><path d="M214.5 363.5h8M218.5 359.5v8"/><path d="M304.5 360.5h8M308.5 356.5v8"/><path d="M210.5 469.5h8M214.5 465.5v8"/><path d="M300.5 271.5h8M304.5 267.5v8"/><path d="M210.5 259.5h8M214.5 255.5v8"/><path d="M194.5 358.5h8M198.5 354.5v8"/><path d="M301.5 377.5h8M305.5 373.5v8"/><path d="M276.5 372.5h8M280.5 368.5v8"/><path d="M199.5 252.5h8M203.5 248.5v8"/><path d="M236.5 418.5h8M240.5 414.5v8"/><path d="M304.5 449.5h8M308.5 445.5v8"/><path d="M296.5 332.5h8M300.5 328.5v8"/><path d="M281.5 435.5h8M285.5 431.5v8"/><path d="M231.5 470.5h8M235.5 466.5v8"/><path d="M284.5 451.5h8M288.5 447.5v8"/><path d="M199.5 315.5h8M203.5 311.5v8"/><path d="M288.5 381.5h8M292.5 377.5v8"/><path d="M275.5 463.5h8M279.5 459.5v8"/><path d="M302.5 445.5h8M306.5 441.5v8"/><path d="M296.5 411.5h8M300.5 407.5v8"/><path d="M228.5 499.5h8M232.5 495.5v8"/><path d="M273.5 326.5h8M277.5 322.5v8"/><path d="M321.5 259.5h8M325.5 255.5v8"/><path d="M280.5 417.5h8M284.5 413.5v8"/><path d="M282.5 484.5h8M286.5 480.5v8"/><path d="M290.5 431.5h8M294.5 427.5v8"/><path d="M228.5 271.5h8M232.5 267.5v8"/><path d="M307.5 432.5h8M311.5 428.5v8"/><path d="M201.5 380.5h8M205.5 376.5v8"/><path d="M312.5 477.5h8M316.5 473.5v8"/><path d="M310.5 350.5h8M314.5 346.5v8"/><path d="M357.5 469.5h8M361.5 465.5v8"/><path d="M254.5 473.5h8M258.5 469.5v8"/><path d="M275.5 375.5h8M279.5 371.5v8"/><path d="M304.5 413.5h8M308.5 409.5v8"/><path d="M268.5 477.5h8M272.5 473.5v8"/><path d="M280.5 412.5h8M284.5 408.5v8"/><path d="M351.5 467.5h8M355.5 463.5v8"/><path d="M276.5 401.5h8M280.5 397.5v8"/><path d="M285.5 421.5h8M289.5 417.5v8"/><path d="M336.5 466.5h8M340.5 462.5v8"/><path d="M265.5 461.5h8M269.5 457.5v8"/><path d="M278.5 448.5h8M282.5 444.5v8"/><path d="M302.5 403.5h8M306.5 399.5v8"/><path d="M278.5 466.5h8M282.5 462.5v8"/><path d="M272.5 360.5h8M276.5 356.5v8"/><path d="M287.5 323.5h8M291.5 319.5v8"/><path d="M300.5 432.5h8M304.5 428.5v8"/><path d="M318.5 435.5h8M322.5 431.5v8"/><path d="M286.5 380.5h8M290.5 376.5v8"/><path d="M304.5 428.5h8M308.5 424.5v8"/><path d="M218.5 412.5h8M222.5 408.5v8"/><path d="M242.5 371.5h8M246.5 367.5v8"/><path d="M324.5 484.5h8M328.5 480.5v8"/><path d="M277.5 385.5h8M281.5 381.5v8"/><path d="M312.5 453.5h8M316.5 449.5v8"/><path d="M253.5 472.5h8M257.5 468.5v8"/><path d="M291.5 361.5h8M295.5 357.5v8"/><path d="M321.5 329.5h8M325.5 325.5v8"/><path d="M294.5 444.5h8M298.5 440.5v8"/><path d="M306.5 465.5h8M310.5 461.5v8"/><path d="M349.5 466.5h8M353.5 462.5v8"/><path d="M228.5 469.5h8M232.5 465.5v8"/><path d="M296.5 466.5h8M300.5 462.5v8"/><path d="M309.5 468.5h8M313.5 464.5v8"/><path d="M301.5 427.5h8M305.5 423.5v8"/><path d="M280.5 423.5h8M284.5 419.5v8"/><path d="M335.5 462.5h8M339.5 458.5v8"/><path d="M223.5 255.5h8M227.5 251.5v8"/><path d="M216.5 470.5h8M220.5 466.5v8"/><path d="M270.5 484.5h8M274.5 480.5v8"/><path d="M318.5 475.5h8M322.5 471.5v8"/><path d="M312.5 480.5h8M316.5 476.5v8"/><path d="M296.5 370.5h8M300.5 366.5v8"/><path d="M289.5 479.5h8M293.5 475.5v8"/><path d="M248.5 387.5h8M252.5 383.5v8"/><path d="M357.5 468.5h8M361.5 464.5v8"/><path d="M360.5 465.5h8M364.5 461.5v8"/><path d="M220.5 471.5h8M224.5 467.5v8"/><path d="M316.5 480.5h8M320.5 476.5v8"/><path d="M298.5 464.5h8M302.5 460.5v8"/><path d="M306.5 477.5h8M310.5 473.5v8"/><path d="M299.5 402.5h8M303.5 398.5v8"/><path d="M322.5 439.5h8M326.5 435.5v8"/><path d="M221.5 387.5h8M225.5 383.5v8"/><path d="M304.5 452.5h8M308.5 448.5v8"/><path d="M203.5 469.5h8M207.5 465.5v8"/><path d="M245.5 334.5h8M249.5 330.5v8"/><path d="M316.5 474.5h8M320.5 470.5v8"/><path d="M310.5 481.5h8M314.5 477.5v8"/><path d="M282.5 328.5h8M286.5 324.5v8"/><path d="M276.5 344.5h8M280.5 340.5v8"/><path d="M304.5 449.5h8M308.5 445.5v8"/><path d="M315.5 473.5h8M319.5 469.5v8"/><path d="M279.5 383.5h8M283.5 379.5v8"/><path d="M227.5 412.5h8M231.5 408.5v8"/><path d="M201.5 378.5h8M205.5 374.5v8"/><path d="M326.5 475.5h8M330.5 471.5v8"/><path d="M202.5 375.5h8M206.5 371.5v8"/><path d="M320.5 446.5h8M324.5 442.5v8"/><path d="M294.5 471.5h8M298.5 467.5v8"/><path d="M295.5 470.5h8M299.5 466.5v8"/><path d="M282.5 358.5h8M286.5 354.5v8"/><path d="M273.5 463.5h8M277.5 459.5v8"/><path d="M310.5 452.5h8M314.5 448.5v8"/><path d="M295.5 309.5h8M299.5 305.5v8"/><path d="M285.5 360.5h8M289.5 356.5v8"/><path d="M284.5 458.5h8M288.5 454.5v8"/><path d="M204.5 382.5h8M208.5 378.5v8"/><path d="M301.5 475.5h8M305.5 471.5v8"/><path d="M304.5 463.5h8M308.5 459.5v8"/><path d="M296.5 440.5h8M300.5 436.5v8"/><path d="M308.5 464.5h8M312.5 460.5v8"/><path d="M278.5 411.5h8M282.5 407.5v8"/><path d="M296.5 263.5h8M300.5 259.5v8"/><path d="M272.5 447.5h8M276.5 443.5v8"/><path d="M324.5 442.5h8M328.5 438.5v8"/><path d="M224.5 474.5h8M228.5 470.5v8"/><path d="M300.5 480.5h8M304.5 476.5v8"/><path d="M275.5 467.5h8M279.5 463.5v8"/><path d="M302.5 480.5h8M306.5 476.5v8"/><path d="M302.5 476.5h8M306.5 472.5v8"/><path d="M322.5 487.5h8M326.5 483.5v8"/><path d="M257.5 349.5h8M261.5 345.5v8"/><path d="M326.5 451.5h8M330.5 447.5v8"/><path d="M318.5 289.5h8M322.5 285.5v8"/><path d="M259.5 470.5h8M263.5 466.5v8"/><path d="M292.5 414.5h8M296.5 410.5v8"/><path d="M314.5 448.5h8M318.5 444.5v8"/><path d="M317.5 485.5h8M321.5 481.5v8"/><path d="M243.5 469.5h8M247.5 465.5v8"/><path d="M312.5 476.5h8M316.5 472.5v8"/><path d="M294.5 435.5h8M298.5 431.5v8"/><path d="M306.5 413.5h8M310.5 409.5v8"/><path d="M367.5 437.5h8M371.5 433.5v8"/><path d="M232.5 411.5h8M236.5 407.5v8"/><path d="M303.5 437.5h8M307.5 433.5v8"/><path d="M281.5 382.5h8M285.5 378.5v8"/><path d="M266.5 475.5h8M270.5 471.5v8"/><path d="M285.5 441.5h8M289.5 437.5v8"/><path d="M306.5 441.5h8M310.5 437.5v8"/><path d="M311.5 422.5h8M315.5 418.5v8"/><path d="M271.5 430.5h8M275.5 426.5v8"/><path d="M319.5 481.5h8M323.5 477.5v8"/><path d="M282.5 445.5h8M286.5 441.5v8"/><path d="M213.5 338.5h8M217.5 334.5v8"/><path d="M311.5 444.5h8M315.5 440.5v8"/><path d="M310.5 300.5h8M314.5 296.5v8"/><path d="M289.5 455.5h8M293.5 451.5v8"/><path d="M291.5 467.5h8M295.5 463.5v8"/><path d="M325.5 447.5h8M329.5 443.5v8"/><path d="M300.5 431.5h8M304.5 427.5v8"/><path d="M334.5 444.5h8M338.5 440.5v8"/><path d="M351.5 481.5h8M355.5 477.5v8"/><path d="M277.5 440.5h8M281.5 436.5v8"/><path d="M286.5 435.5h8M290.5 431.5v8"/><path d="M300.5 442.5h8M304.5 438.5v8"/><path d="M346.5 467.5h8M350.5 463.5v8"/><path d="M338.5 429.5h8M342.5 425.5v8"/><path d="M199.5 402.5h8M203.5 398.5v8"/><path d="M337.5 400.5h8M341.5 396.5v8"/><path d="M288.5 447.5h8M292.5 443.5v8"/><path d="M287.5 66.5h8M291.5 62.5v8"/><path d="M276.5 413.5h8M280.5 409.5v8"/><path d="M277.5 406.5h8M281.5 402.5v8"/><path d="M271.5 366.5h8M275.5 362.5v8"/><path d="M296.5 374.5h8M300.5 370.5v8"/><path d="M276.5 455.5h8M280.5 451.5v8"/><path d="M350.5 456.5h8M354.5 452.5v8"/><path d="M341.5 468.5h8M345.5 464.5v8"/><path d="M291.5 430.5h8M295.5 426.5v8"/><path d="M296.5 252.5h8M300.5 248.5v8"/><path d="M301.5 470.5h8M305.5 466.5v8"/><path d="M214.5 474.5h8M218.5 470.5v8"/><path d="M304.5 319.5h8M308.5 315.5v8"/><path d="M284.5 409.5h8M288.5 405.5v8"/><path d="M208.5 469.5h8M212.5 465.5v8"/><path d="M273.5 364.5h8M277.5 360.5v8"/><path d="M254.5 472.5h8M258.5 468.5v8"/><path d="M298.5 370.5h8M302.5 366.5v8"/><path d="M297.5 404.5h8M301.5 400.5v8"/><path d="M284.5 388.5h8M288.5 384.5v8"/><path d="M293.5 371.5h8M297.5 367.5v8"/><path d="M242.5 472.5h8M246.5 468.5v8"/><path d="M276.5 298.5h8M280.5 294.5v8"/><path d="M294.5 467.5h8M298.5 463.5v8"/><path d="M307.5 454.5h8M311.5 450.5v8"/><path d="M259.5 320.5h8M263.5 316.5v8"/><path d="M287.5 379.5h8M291.5 375.5v8"/><path d="M294.5 417.5h8M298.5 413.5v8"/><path d="M295.5 462.5h8M299.5 458.5v8"/><path d="M318.5 389.5h8M322.5 385.5v8"/><path d="M329.5 451.5h8M333.5 447.5v8"/><path d="M288.5 385.5h8M292.5 381.5v8"/><path d="M279.5 325.5h8M283.5 321.5v8"/><path d="M293.5 482.5h8M297.5 478.5v8"/><path d="M346.5 416.5h8M350.5 412.5v8"/><path d="M349.5 476.5h8M353.5 472.5v8"/><path d="M360.5 470.5h8M364.5 466.5v8"/><path d="M277.5 449.5h8M281.5 445.5v8"/><path d="M286.5 351.5h8M290.5 347.5v8"/><path d="M321.5 491.5h8M325.5 487.5v8"/><path d="M280.5 470.5h8M284.5 466.5v8"/><path d="M279.5 450.5h8M283.5 446.5v8"/><path d="M332.5 483.5h8M336.5 479.5v8"/><path d="M307.5 432.5h8M311.5 428.5v8"/><path d="M297.5 452.5h8M301.5 448.5v8"/><path d="M268.5 441.5h8M272.5 437.5v8"/><path d="M287.5 421.5h8M291.5 417.5v8"/><path d="M275.5 318.5h8M279.5 314.5v8"/><path d="M324.5 469.5h8M328.5 465.5v8"/><path d="M292.5 471.5h8M296.5 467.5v8"/><path d="M279.5 398.5h8M283.5 394.5v8"/><path d="M298.5 330.5h8M302.5 326.5v8"/><path d="M292.5 445.5h8M296.5 441.5v8"/><path d="M290.5 483.5h8M294.5 479.5v8"/><path d="M273.5 373.5h8M277.5 369.5v8"/><path d="M224.5 333.5h8M228.5 329.5v8"/><path d="M299.5 498.5h8M303.5 494.5v8"/><path d="M204.5 448.5h8M208.5 444.5v8"/><path d="M323.5 468.5h8M327.5 464.5v8"/><path d="M284.5 419.5h8M288.5 415.5v8"/><path d="M293.5 461.5h8M297.5 457.5v8"/><path d="M358.5 428.5h8M362.5 424.5v8"/><path d="M227.5 367.5h8M231.5 363.5v8"/><path d="M301.5 427.5h8M305.5 423.5v8"/><path d="M278.5 436.5h8M282.5 432.5v8"/><path d="M287.5 468.5h8M291.5 464.5v8"/><path d="M277.5 432.5h8M281.5 428.5v8"/><path d="M344.5 482.5h8M348.5 478.5v8"/><path d="M241.5 391.5h8M245.5 387.5v8"/><path d="M284.5 465.5h8M288.5 461.5v8"/><path d="M306.5 415.5h8M310.5 411.5v8"/><path d="M279.5 394.5h8M283.5 390.5v8"/><path d="M300.5 437.5h8M304.5 433.5v8"/><path d="M285.5 302.5h8M289.5 298.5v8"/><path d="M277.5 368.5h8M281.5 364.5v8"/><path d="M215.5 474.5h8M219.5 470.5v8"/><path d="M317.5 440.5h8M321.5 436.5v8"/><path d="M236.5 471.5h8M240.5 467.5v8"/><path d="M265.5 470.5h8M269.5 466.5v8"/><path d="M370.5 469.5h8M374.5 465.5v8"/><path d="M306.5 468.5h8M310.5 464.5v8"/><path d="M316.5 452.5h8M320.5 448.5v8"/><path d="M294.5 355.5h8M298.5 351.5v8"/><path d="M242.5 474.5h8M246.5 470.5v8"/><path d="M302.5 398.5h8M306.5 394.5v8"/><path d="M290.5 381.5h8M294.5 377.5v8"/><path d="M307.5 393.5h8M311.5 389.5v8"/><path d="M368.5 457.5h8M372.5 453.5v8"/><path d="M299.5 473.5h8M303.5 469.5v8"/><path d="M311.5 412.5h8M315.5 408.5v8"/><path d="M321.5 457.5h8M325.5 453.5v8"/><path d="M350.5 475.5h8M354.5 471.5v8"/><path d="M320.5 261.5h8M324.5 257.5v8"/><path d="M286.5 310.5h8M290.5 306.5v8"/><path d="M280.5 315.5h8M284.5 311.5v8"/><path d="M372.5 464.5h8M376.5 460.5v8"/><path d="M306.5 478.5h8M310.5 474.5v8"/><path d="M290.5 480.5h8M294.5 476.5v8"/><path d="M278.5 455.5h8M282.5 451.5v8"/><path d="M345.5 462.5h8M349.5 458.5v8"/><path d="M279.5 478.5h8M283.5 474.5v8"/><path d="M309.5 480.5h8M313.5 476.5v8"/><path d="M345.5 472.5h8M349.5 468.5v8"/><path d="M354.5 469.5h8M358.5 465.5v8"/><path d="M297.5 389.5h8M301.5 385.5v8"/><path d="M289.5 461.5h8M293.5 457.5v8"/><path d="M201.5 288.5h8M205.5 284.5v8"/><path d="M282.5 439.5h8M286.5 435.5v8"/><path d="M291.5 329.5h8M295.5 325.5v8"/><path d="M336.5 289.5h8M340.5 285.5v8"/><path d="M279.5 439.5h8M283.5 435.5v8"/></g></g>
   <defs>
     <path id="m0acb2bfa27" d="M -3 3 
L 3 -3 
M -3 -3 
L 3 3 
" style="stroke: #0000ff; stroke-width: 0.5"/>
    </defs><g transform="scale(0.72)"><g clip-path="url(#cax)" style="fill:none;stroke:#0000ff;stroke-width:0.9"><path d="M246.33 262.33l8.33 8.33M246.33 270.67l8.33-8.33"/><path d="M252.33 277.33l8.33 8.33M252.33 285.67l8.33-8.33"/><path d="M252.33 289.33l8.33 8.33M252.33 297.67l8.33-8.33"/><path d="M227.33 302.33l8.33 8.33M227.33 310.67l8.33-8.33"/><path d="M240.33 303.33l8.33 8.33M240.33 311.67l8.33-8.33"/><path d="M256.33 266.33l8.33 8.33M256.33 274.67l8.33-8.33"/><path d="M258.33 292.33l8.33 8.33M258.33 300.67l8.33-8.33"/><path d="M230.33 311.33l8.33 8.33M230.33 319.67l8.33-8.33"/><path d="M240.33 306.33l8.33 8.33M240.33 314.67l8.33-8.33"/><path d="M240.33 315.33l8.33 8.33M240.33 323.67l8.33-8.33"/><path d="M241.33 320.33l8.33 8.33M241.33 328.67l8.33-8.33"/><path d="M226.33 331.33l8.33 8.33M226.33 339.67l8.33-8.33"/><path d="M245.33 330.33l8.33 8.33M245.33 338.67l8.33-8.33"/><path d="M246.33 337.33l8.33 8.33M246.33 345.67l8.33-8.33"/><path d="M207.33 342.33l8.33 8.33M207.33 350.67l8.33-8.33"/><path d="M240.33 353.33l8.33 8.33M240.33 361.67l8.33-8.33"/><path d="M243.33 356.33l8.33 8.33M243.33 364.67l8.33-8.33"/><path d="M235.33 359.33l8.33 8.33M235.33 367.67l8.33-8.33"/><path d="M259.33 316.33l8.33 8.33M259.33 324.67l8.33-8.33"/><path d="M260.33 325.33l8.33 8.33M260.33 333.67l8.33-8.33"/><path d="M258.33 329.33l8.33 8.33M258.33 337.67l8.33-8.33"/><path d="M257.33 345.33l8.33 8.33M257.33 353.67l8.33-8.33"/><path d="M258.33 358.33l8.33 8.33M258.33 366.67l8.33-8.33"/><path d="M220.33 364.33l8.33 8.33M220.33 372.67l8.33-8.33"/><path d="M233.33 365.33l8.33 8.33M233.33 373.67l8.33-8.33"/><path d="M242.33 367.33l8.33 8.33M242.33 375.67l8.33-8.33"/><path d="M194.33 375.33l8.33 8.33M194.33 383.67l8.33-8.33"/><path d="M228.33 382.33l8.33 8.33M228.33 390.67l8.33-8.33"/><path d="M242.33 379.33l8.33 8.33M242.33 387.67l8.33-8.33"/><path d="M250.33 379.33l8.33 8.33M250.33 387.67l8.33-8.33"/><path d="M254.33 384.33l8.33 8.33M254.33 392.67l8.33-8.33"/><path d="M201.33 394.33l8.33 8.33M201.33 402.67l8.33-8.33"/><path d="M249.33 402.33l8.33 8.33M249.33 410.67l8.33-8.33"/><path d="M254.33 398.33l8.33 8.33M254.33 406.67l8.33-8.33"/><path d="M240.33 409.33l8.33 8.33M240.33 417.67l8.33-8.33"/><path d="M244.33 413.33l8.33 8.33M244.33 421.67l8.33-8.33"/><path d="M236.33 414.33l8.33 8.33M236.33 422.67l8.33-8.33"/><path d="M254.33 411.33l8.33 8.33M254.33 419.67l8.33-8.33"/><path d="M252.33 370.33l8.33 8.33M252.33 378.67l8.33-8.33"/><path d="M254.33 364.33l8.33 8.33M254.33 372.67l8.33-8.33"/><path d="M257.33 363.33l8.33 8.33M257.33 371.67l8.33-8.33"/><path d="M259.33 369.33l8.33 8.33M259.33 377.67l8.33-8.33"/><path d="M256.33 373.33l8.33 8.33M256.33 381.67l8.33-8.33"/><path d="M260.33 375.33l8.33 8.33M260.33 383.67l8.33-8.33"/><path d="M261.33 377.33l8.33 8.33M261.33 385.67l8.33-8.33"/><path d="M258.33 385.33l8.33 8.33M258.33 393.67l8.33-8.33"/><path d="M256.33 397.33l8.33 8.33M256.33 405.67l8.33-8.33"/><path d="M260.33 398.33l8.33 8.33M260.33 406.67l8.33-8.33"/><path d="M259.33 413.33l8.33 8.33M259.33 421.67l8.33-8.33"/><path d="M222.33 430.33l8.33 8.33M222.33 438.67l8.33-8.33"/><path d="M206.33 455.33l8.33 8.33M206.33 463.67l8.33-8.33"/><path d="M225.33 455.33l8.33 8.33M225.33 463.67l8.33-8.33"/><path d="M243.33 421.33l8.33 8.33M243.33 429.67l8.33-8.33"/><path d="M251.33 427.33l8.33 8.33M251.33 435.67l8.33-8.33"/><path d="M249.33 448.33l8.33 8.33M249.33 456.67l8.33-8.33"/><path d="M253.33 444.33l8.33 8.33M253.33 452.67l8.33-8.33"/><path d="M244.33 452.33l8.33 8.33M244.33 460.67l8.33-8.33"/><path d="M250.33 457.33l8.33 8.33M250.33 465.67l8.33-8.33"/><path d="M216.33 460.33l8.33 8.33M216.33 468.67l8.33-8.33"/><path d="M232.33 459.33l8.33 8.33M232.33 467.67l8.33-8.33"/><path d="M238.33 459.33l8.33 8.33M238.33 467.67l8.33-8.33"/><path d="M201.33 458.33l8.33 8.33M201.33 466.67l8.33-8.33"/><path d="M209.33 460.33l8.33 8.33M209.33 468.67l8.33-8.33"/><path d="M256.33 417.33l8.33 8.33M256.33 425.67l8.33-8.33"/><path d="M257.33 424.33l8.33 8.33M257.33 432.67l8.33-8.33"/><path d="M260.33 435.33l8.33 8.33M260.33 443.67l8.33-8.33"/><path d="M256.33 443.33l8.33 8.33M256.33 451.67l8.33-8.33"/><path d="M261.33 445.33l8.33 8.33M261.33 453.67l8.33-8.33"/><path d="M260.33 453.33l8.33 8.33M260.33 461.67l8.33-8.33"/><path d="M256.33 457.33l8.33 8.33M256.33 465.67l8.33-8.33"/><path d="M261.33 458.33l8.33 8.33M261.33 466.67l8.33-8.33"/><path d="M244.33 479.33l8.33 8.33M244.33 487.67l8.33-8.33"/></g></g>
   <defs>
     <path id="mcfd4e7e85d" d="M 0 3 
C 0.795609 3 1.55874 2.683901 2.12132 2.12132 
C 2.683901 1.55874 3 0.795609 3 0 
C 3 -0.795609 2.683901 -1.55874 2.12132 -2.12132 
C 1.55874 -2.683901 0.795609 -3 0 -3 
C -0.795609 -3 -1.55874 -2.683901 -2.12132 -2.12132 
C -2.683901 -1.55874 -3 -0.795609 -3 0 
C -3 0.795609 -2.683901 1.55874 -2.12132 2.12132 
C -1.55874 2.683901 -0.795609 3 0 3 
z
" style="stroke: #000000; stroke-width: 0.5"/>
    </defs><g transform="scale(0.72)"><g clip-path="url(#cax)" style="fill:#bf00bf;stroke:#000;stroke-width:0.6944"><circle cx="205.5" cy="474.5" r="4.1667"/><circle cx="260.5" cy="472.5" r="4.1667"/><circle cx="251.5" cy="469.5" r="4.1667"/><circle cx="227.5" cy="471.5" r="4.1667"/><circle cx="213.5" cy="474.5" r="4.1667"/><circle cx="263.5" cy="471.5" r="4.1667"/><circle cx="239.5" cy="469.5" r="4.1667"/><circle cx="207.5" cy="471.5" r="4.1667"/><circle cx="234.5" cy="473.5" r="4.1667"/><circle cx="215.5" cy="471.5" r="4.1667"/><circle cx="243.5" cy="469.5" r="4.1667"/><circle cx="256.5" cy="474.5" r="4.1667"/><circle cx="230.5" cy="475.5" r="4.1667"/><circle cx="257.5" cy="475.5" r="4.1667"/><circle cx="216.5" cy="470.5" r="4.1667"/><circle cx="208.5" cy="472.5" r="4.1667"/><circle cx="226.5" cy="473.5" r="4.1667"/><circle cx="206.5" cy="473.5" r="4.1667"/><circle cx="228.5" cy="469.5" r="4.1667"/><circle cx="229.5" cy="470.5" r="4.1667"/><circle cx="210.5" cy="473.5" r="4.1667"/><circle cx="253.5" cy="473.5" r="4.1667"/><circle cx="220.5" cy="469.5" r="4.1667"/><circle cx="224.5" cy="474.5" r="4.1667"/><circle cx="242.5" cy="472.5" r="4.1667"/><circle cx="215.5" cy="470.5" r="4.1667"/><circle cx="212.5" cy="469.5" r="4.1667"/><circle cx="251.5" cy="471.5" r="4.1667"/><circle cx="215.5" cy="474.5" r="4.1667"/><circle cx="243.5" cy="473.5" r="4.1667"/><circle cx="261.5" cy="473.5" r="4.1667"/><circle cx="230.5" cy="471.5" r="4.1667"/><circle cx="247.5" cy="471.5" r="4.1667"/><circle cx="233.5" cy="472.5" r="4.1667"/><circle cx="228.5" cy="469.5" r="4.1667"/><circle cx="236.5" cy="473.5" r="4.1667"/><circle cx="207.5" cy="471.5" r="4.1667"/><circle cx="217.5" cy="469.5" r="4.1667"/><circle cx="258.5" cy="473.5" r="4.1667"/><circle cx="255.5" cy="474.5" r="4.1667"/><circle cx="261.5" cy="471.5" r="4.1667"/><circle cx="259.5" cy="474.5" r="4.1667"/><circle cx="262.5" cy="470.5" r="4.1667"/><circle cx="234.5" cy="469.5" r="4.1667"/><circle cx="218.5" cy="474.5" r="4.1667"/><circle cx="233.5" cy="473.5" r="4.1667"/><circle cx="211.5" cy="473.5" r="4.1667"/><circle cx="205.5" cy="471.5" r="4.1667"/><circle cx="215.5" cy="474.5" r="4.1667"/><circle cx="206.5" cy="468.5" r="4.1667"/><circle cx="249.5" cy="471.5" r="4.1667"/><circle cx="251.5" cy="474.5" r="4.1667"/><circle cx="219.5" cy="474.5" r="4.1667"/><circle cx="232.5" cy="473.5" r="4.1667"/><circle cx="263.5" cy="475.5" r="4.1667"/><circle cx="247.5" cy="474.5" r="4.1667"/><circle cx="218.5" cy="473.5" r="4.1667"/><circle cx="237.5" cy="468.5" r="4.1667"/><circle cx="245.5" cy="468.5" r="4.1667"/><circle cx="213.5" cy="474.5" r="4.1667"/><circle cx="219.5" cy="474.5" r="4.1667"/><circle cx="227.5" cy="473.5" r="4.1667"/><circle cx="253.5" cy="470.5" r="4.1667"/><circle cx="225.5" cy="470.5" r="4.1667"/><circle cx="251.5" cy="474.5" r="4.1667"/><circle cx="229.5" cy="472.5" r="4.1667"/><circle cx="260.5" cy="471.5" r="4.1667"/><circle cx="236.5" cy="469.5" r="4.1667"/><circle cx="254.5" cy="469.5" r="4.1667"/><circle cx="257.5" cy="473.5" r="4.1667"/><circle cx="244.5" cy="469.5" r="4.1667"/><circle cx="250.5" cy="471.5" r="4.1667"/><circle cx="213.5" cy="468.5" r="4.1667"/><circle cx="220.5" cy="470.5" r="4.1667"/><circle cx="245.5" cy="470.5" r="4.1667"/><circle cx="213.5" cy="473.5" r="4.1667"/><circle cx="234.5" cy="468.5" r="4.1667"/><circle cx="219.5" cy="468.5" r="4.1667"/><circle cx="242.5" cy="474.5" r="4.1667"/><circle cx="221.5" cy="474.5" r="4.1667"/><circle cx="237.5" cy="474.5" r="4.1667"/><circle cx="262.5" cy="475.5" r="4.1667"/><circle cx="259.5" cy="470.5" r="4.1667"/><circle cx="242.5" cy="470.5" r="4.1667"/><circle cx="220.5" cy="470.5" r="4.1667"/><circle cx="221.5" cy="469.5" r="4.1667"/><circle cx="224.5" cy="473.5" r="4.1667"/><circle cx="253.5" cy="470.5" r="4.1667"/><circle cx="259.5" cy="470.5" r="4.1667"/><circle cx="258.5" cy="472.5" r="4.1667"/><circle cx="263.5" cy="470.5" r="4.1667"/><circle cx="229.5" cy="472.5" r="4.1667"/><circle cx="232.5" cy="469.5" r="4.1667"/><circle cx="216.5" cy="472.5" r="4.1667"/><circle cx="239.5" cy="470.5" r="4.1667"/><circle cx="263.5" cy="470.5" r="4.1667"/><circle cx="248.5" cy="470.5" r="4.1667"/><circle cx="253.5" cy="474.5" r="4.1667"/><circle cx="258.5" cy="473.5" r="4.1667"/><circle cx="230.5" cy="470.5" r="4.1667"/><circle cx="220.5" cy="472.5" r="4.1667"/><circle cx="225.5" cy="472.5" r="4.1667"/><circle cx="231.5" cy="474.5" r="4.1667"/><circle cx="226.5" cy="471.5" r="4.1667"/><circle cx="213.5" cy="468.5" r="4.1667"/><circle cx="234.5" cy="470.5" r="4.1667"/><circle cx="264.5" cy="468.5" r="4.1667"/><circle cx="223.5" cy="471.5" r="4.1667"/><circle cx="242.5" cy="473.5" r="4.1667"/><circle cx="241.5" cy="469.5" r="4.1667"/><circle cx="209.5" cy="468.5" r="4.1667"/><circle cx="207.5" cy="473.5" r="4.1667"/><circle cx="253.5" cy="473.5" r="4.1667"/><circle cx="214.5" cy="469.5" r="4.1667"/><circle cx="249.5" cy="473.5" r="4.1667"/><circle cx="251.5" cy="471.5" r="4.1667"/><circle cx="223.5" cy="473.5" r="4.1667"/><circle cx="247.5" cy="469.5" r="4.1667"/><circle cx="260.5" cy="469.5" r="4.1667"/><circle cx="212.5" cy="469.5" r="4.1667"/><circle cx="243.5" cy="471.5" r="4.1667"/><circle cx="250.5" cy="471.5" r="4.1667"/><circle cx="241.5" cy="470.5" r="4.1667"/><circle cx="207.5" cy="471.5" r="4.1667"/><circle cx="220.5" cy="472.5" r="4.1667"/><circle cx="207.5" cy="469.5" r="4.1667"/><circle cx="211.5" cy="472.5" r="4.1667"/><circle cx="246.5" cy="474.5" r="4.1667"/><circle cx="218.5" cy="473.5" r="4.1667"/><circle cx="236.5" cy="472.5" r="4.1667"/><circle cx="228.5" cy="474.5" r="4.1667"/><circle cx="205.5" cy="474.5" r="4.1667"/><circle cx="224.5" cy="471.5" r="4.1667"/><circle cx="242.5" cy="470.5" r="4.1667"/><circle cx="237.5" cy="469.5" r="4.1667"/><circle cx="246.5" cy="473.5" r="4.1667"/><circle cx="217.5" cy="470.5" r="4.1667"/><circle cx="223.5" cy="474.5" r="4.1667"/><circle cx="219.5" cy="469.5" r="4.1667"/><circle cx="246.5" cy="468.5" r="4.1667"/><circle cx="243.5" cy="473.5" r="4.1667"/><circle cx="256.5" cy="473.5" r="4.1667"/><circle cx="229.5" cy="470.5" r="4.1667"/><circle cx="245.5" cy="471.5" r="4.1667"/><circle cx="223.5" cy="470.5" r="4.1667"/><circle cx="232.5" cy="474.5" r="4.1667"/><circle cx="245.5" cy="471.5" r="4.1667"/><circle cx="242.5" cy="471.5" r="4.1667"/><circle cx="262.5" cy="471.5" r="4.1667"/><circle cx="213.5" cy="470.5" r="4.1667"/><circle cx="230.5" cy="474.5" r="4.1667"/><circle cx="263.5" cy="473.5" r="4.1667"/><circle cx="248.5" cy="473.5" r="4.1667"/><circle cx="205.5" cy="471.5" r="4.1667"/><circle cx="219.5" cy="469.5" r="4.1667"/><circle cx="236.5" cy="469.5" r="4.1667"/><circle cx="258.5" cy="470.5" r="4.1667"/><circle cx="262.5" cy="469.5" r="4.1667"/><circle cx="257.5" cy="472.5" r="4.1667"/><circle cx="245.5" cy="473.5" r="4.1667"/><circle cx="233.5" cy="471.5" r="4.1667"/><circle cx="249.5" cy="472.5" r="4.1667"/><circle cx="262.5" cy="473.5" r="4.1667"/><circle cx="254.5" cy="474.5" r="4.1667"/><circle cx="234.5" cy="474.5" r="4.1667"/><circle cx="258.5" cy="471.5" r="4.1667"/><circle cx="256.5" cy="472.5" r="4.1667"/><circle cx="243.5" cy="469.5" r="4.1667"/><circle cx="237.5" cy="471.5" r="4.1667"/><circle cx="260.5" cy="472.5" r="4.1667"/><circle cx="247.5" cy="473.5" r="4.1667"/><circle cx="215.5" cy="469.5" r="4.1667"/><circle cx="216.5" cy="473.5" r="4.1667"/><circle cx="231.5" cy="473.5" r="4.1667"/><circle cx="222.5" cy="471.5" r="4.1667"/><circle cx="235.5" cy="470.5" r="4.1667"/><circle cx="221.5" cy="471.5" r="4.1667"/><circle cx="247.5" cy="470.5" r="4.1667"/><circle cx="217.5" cy="471.5" r="4.1667"/><circle cx="262.5" cy="471.5" r="4.1667"/><circle cx="209.5" cy="472.5" r="4.1667"/><circle cx="245.5" cy="472.5" r="4.1667"/><circle cx="253.5" cy="470.5" r="4.1667"/><circle cx="214.5" cy="473.5" r="4.1667"/><circle cx="223.5" cy="469.5" r="4.1667"/><circle cx="237.5" cy="469.5" r="4.1667"/><circle cx="240.5" cy="471.5" r="4.1667"/><circle cx="225.5" cy="471.5" r="4.1667"/><circle cx="253.5" cy="474.5" r="4.1667"/><circle cx="236.5" cy="475.5" r="4.1667"/><circle cx="246.5" cy="473.5" r="4.1667"/><circle cx="238.5" cy="472.5" r="4.1667"/><circle cx="207.5" cy="474.5" r="4.1667"/><circle cx="242.5" cy="472.5" r="4.1667"/><circle cx="223.5" cy="469.5" r="4.1667"/><circle cx="247.5" cy="472.5" r="4.1667"/><circle cx="263.5" cy="473.5" r="4.1667"/><circle cx="252.5" cy="471.5" r="4.1667"/><circle cx="260.5" cy="468.5" r="4.1667"/><circle cx="223.5" cy="472.5" r="4.1667"/><circle cx="256.5" cy="468.5" r="4.1667"/><circle cx="234.5" cy="470.5" r="4.1667"/><circle cx="208.5" cy="470.5" r="4.1667"/><circle cx="225.5" cy="469.5" r="4.1667"/><circle cx="222.5" cy="471.5" r="4.1667"/><circle cx="257.5" cy="472.5" r="4.1667"/><circle cx="226.5" cy="469.5" r="4.1667"/><circle cx="261.5" cy="470.5" r="4.1667"/><circle cx="232.5" cy="473.5" r="4.1667"/><circle cx="207.5" cy="472.5" r="4.1667"/><circle cx="239.5" cy="468.5" r="4.1667"/><circle cx="212.5" cy="468.5" r="4.1667"/><circle cx="257.5" cy="469.5" r="4.1667"/><circle cx="207.5" cy="470.5" r="4.1667"/><circle cx="231.5" cy="475.5" r="4.1667"/><circle cx="253.5" cy="470.5" r="4.1667"/><circle cx="221.5" cy="471.5" r="4.1667"/><circle cx="252.5" cy="473.5" r="4.1667"/><circle cx="253.5" cy="473.5" r="4.1667"/><circle cx="228.5" cy="472.5" r="4.1667"/><circle cx="226.5" cy="474.5" r="4.1667"/><circle cx="252.5" cy="471.5" r="4.1667"/><circle cx="227.5" cy="474.5" r="4.1667"/><circle cx="209.5" cy="471.5" r="4.1667"/><circle cx="240.5" cy="473.5" r="4.1667"/><circle cx="222.5" cy="474.5" r="4.1667"/><circle cx="246.5" cy="474.5" r="4.1667"/><circle cx="210.5" cy="469.5" r="4.1667"/><circle cx="217.5" cy="470.5" r="4.1667"/><circle cx="252.5" cy="470.5" r="4.1667"/><circle cx="225.5" cy="468.5" r="4.1667"/><circle cx="256.5" cy="469.5" r="4.1667"/><circle cx="261.5" cy="470.5" r="4.1667"/><circle cx="247.5" cy="470.5" r="4.1667"/><circle cx="250.5" cy="471.5" r="4.1667"/><circle cx="222.5" cy="468.5" r="4.1667"/><circle cx="234.5" cy="472.5" r="4.1667"/><circle cx="230.5" cy="473.5" r="4.1667"/><circle cx="215.5" cy="473.5" r="4.1667"/><circle cx="208.5" cy="472.5" r="4.1667"/><circle cx="210.5" cy="471.5" r="4.1667"/><circle cx="226.5" cy="470.5" r="4.1667"/><circle cx="206.5" cy="471.5" r="4.1667"/><circle cx="245.5" cy="471.5" r="4.1667"/><circle cx="205.5" cy="473.5" r="4.1667"/><circle cx="255.5" cy="473.5" r="4.1667"/><circle cx="220.5" cy="474.5" r="4.1667"/><circle cx="262.5" cy="469.5" r="4.1667"/><circle cx="246.5" cy="472.5" r="4.1667"/><circle cx="251.5" cy="472.5" r="4.1667"/></g></g>
   <g id="line2d_1">
    <path d="M 72.36 342.36 
L 275.4 342.36 
" clip-path="url(#p2cc699bf23)" style="fill: none; stroke-dasharray: 6,6; stroke-dashoffset: 0; stroke: #0000ff"/>
   </g>
   <g id="line2d_2">
    <path d="M 72.36 340.92 
L 275.4 340.92 
" clip-path="url(#p2cc699bf23)" style="fill: none; stroke-dasharray: 6,6; stroke-dashoffset: 0; stroke: #ff0000"/>
   </g>
   <g id="line2d_3">
    <path d="M 72.36 336.6 
L 275.4 336.6 
" clip-path="url(#p2cc699bf23)" style="fill: none; stroke-dasharray: 3,5,1,5; stroke-dashoffset: 0; stroke: #0000ff"/>
   </g>
   <g id="line2d_4">
    <path d="M 72.36 345.24 
L 275.4 345.24 
" clip-path="url(#p2cc699bf23)" style="fill: none; stroke-dasharray: 3,5,1,5; stroke-dashoffset: 0; stroke: #0000ff"/>
   </g>
   <g id="patch_3">
    <path d="M 72.36 389.16 
L 72.36 43.56 
" style="fill: none; stroke: #000000; stroke-linejoin: miter; stroke-linecap: square"/>
   </g>
   <g id="patch_4">
    <path d="M 275.4 389.16 
L 275.4 43.56 
" style="fill: none; stroke: #000000; stroke-linejoin: miter; stroke-linecap: square"/>
   </g>
   <g id="patch_5">
    <path d="M 72.36 389.16 
L 275.4 389.16 
" style="fill: none; stroke: #000000; stroke-linejoin: miter; stroke-linecap: square"/>
   </g>
   <g id="patch_6">
    <path d="M 72.36 43.56 
L 275.4 43.56 
" style="fill: none; stroke: #000000; stroke-linejoin: miter; stroke-linecap: square"/>
   </g>
   <g id="matplotlib.axis_1">
    <g id="xtick_1">
     <g id="line2d_5">
      <defs>
       <path id="m9970c9cf34" d="M 0 0 
L 0 -4 
" style="stroke: #000000; stroke-width: 0.5"/>
      </defs>
      <g>
       <use href="#m9970c9cf34" x="72.36" y="389.16" style="stroke: #000000; stroke-width: 0.5"/>
      </g>
     </g>
     <g id="text_1">
      <!-- −20 -->
      <g transform="translate(59.697187 403.228125) scale(0.12 -0.12)">
       <defs>
        <path id="DejaVuSans-2212" d="M 678 2272 
L 4684 2272 
L 4684 1741 
L 678 1741 
L 678 2272 
z
" transform="scale(0.015625)"/>
        <path id="DejaVuSans-32" d="M 1228 531 
L 3431 531 
L 3431 0 
L 469 0 
L 469 531 
Q 828 903 1448 1529 
Q 2069 2156 2228 2338 
Q 2531 2678 2651 2914 
Q 2772 3150 2772 3378 
Q 2772 3750 2511 3984 
Q 2250 4219 1831 4219 
Q 1534 4219 1204 4116 
Q 875 4013 500 3803 
L 500 4441 
Q 881 4594 1212 4672 
Q 1544 4750 1819 4750 
Q 2544 4750 2975 4387 
Q 3406 4025 3406 3419 
Q 3406 3131 3298 2873 
Q 3191 2616 2906 2266 
Q 2828 2175 2409 1742 
Q 1991 1309 1228 531 
z
" transform="scale(0.015625)"/>
        <path id="DejaVuSans-30" d="M 2034 4250 
Q 1547 4250 1301 3770 
Q 1056 3291 1056 2328 
Q 1056 1369 1301 889 
Q 1547 409 2034 409 
Q 2525 409 2770 889 
Q 3016 1369 3016 2328 
Q 3016 3291 2770 3770 
Q 2525 4250 2034 4250 
z
M 2034 4750 
Q 2819 4750 3233 4129 
Q 3647 3509 3647 2328 
Q 3647 1150 3233 529 
Q 2819 -91 2034 -91 
Q 1250 -91 836 529 
Q 422 1150 422 2328 
Q 422 3509 836 4129 
Q 1250 4750 2034 4750 
z
" transform="scale(0.015625)"/>
       </defs>
       <use href="#DejaVuSans-2212"/>
       <use href="#DejaVuSans-32" transform="translate(83.789062 0)"/>
       <use href="#DejaVuSans-30" transform="translate(147.412109 0)"/>
      </g>
     </g>
    </g>
    <g id="xtick_2">
     <g id="line2d_6">
      <g>
       <use href="#m9970c9cf34" x="99.432" y="389.16" style="stroke: #000000; stroke-width: 0.5"/>
      </g>
     </g>
     <g id="text_2">
      <!-- −18 -->
      <g transform="translate(86.769187 403.228125) scale(0.12 -0.12)">
       <defs>
        <path id="DejaVuSans-31" d="M 794 531 
L 1825 531 
L 1825 4091 
L 703 3866 
L 703 4441 
L 1819 4666 
L 2450 4666 
L 2450 531 
L 3481 531 
L 3481 0 
L 794 0 
L 794 531 
z
" transform="scale(0.015625)"/>
        <path id="DejaVuSans-38" d="M 2034 2216 
Q 1584 2216 1326 1975 
Q 1069 1734 1069 1313 
Q 1069 891 1326 650 
Q 1584 409 2034 409 
Q 2484 409 2743 651 
Q 3003 894 3003 1313 
Q 3003 1734 2745 1975 
Q 2488 2216 2034 2216 
z
M 1403 2484 
Q 997 2584 770 2862 
Q 544 3141 544 3541 
Q 544 4100 942 4425 
Q 1341 4750 2034 4750 
Q 2731 4750 3128 4425 
Q 3525 4100 3525 3541 
Q 3525 3141 3298 2862 
Q 3072 2584 2669 2484 
Q 3125 2378 3379 2068 
Q 3634 1759 3634 1313 
Q 3634 634 3220 271 
Q 2806 -91 2034 -91 
Q 1263 -91 848 271 
Q 434 634 434 1313 
Q 434 1759 690 2068 
Q 947 2378 1403 2484 
z
M 1172 3481 
Q 1172 3119 1398 2916 
Q 1625 2713 2034 2713 
Q 2441 2713 2670 2916 
Q 2900 3119 2900 3481 
Q 2900 3844 2670 4047 
Q 2441 4250 2034 4250 
Q 1625 4250 1398 4047 
Q 1172 3844 1172 3481 
z
" transform="scale(0.015625)"/>
       </defs>
       <use href="#DejaVuSans-2212"/>
       <use href="#DejaVuSans-31" transform="translate(83.789062 0)"/>
       <use href="#DejaVuSans-38" transform="translate(147.412109 0)"/>
      </g>
     </g>
    </g>
    <g id="xtick_3">
     <g id="line2d_7">
      <g>
       <use href="#m9970c9cf34" x="126.504" y="389.16" style="stroke: #000000; stroke-width: 0.5"/>
      </g>
     </g>
     <g id="text_3">
      <!-- −16 -->
      <g transform="translate(113.841187 403.228125) scale(0.12 -0.12)">
       <defs>
        <path id="DejaVuSans-36" d="M 2113 2584 
Q 1688 2584 1439 2293 
Q 1191 2003 1191 1497 
Q 1191 994 1439 701 
Q 1688 409 2113 409 
Q 2538 409 2786 701 
Q 3034 994 3034 1497 
Q 3034 2003 2786 2293 
Q 2538 2584 2113 2584 
z
M 3366 4563 
L 3366 3988 
Q 3128 4100 2886 4159 
Q 2644 4219 2406 4219 
Q 1781 4219 1451 3797 
Q 1122 3375 1075 2522 
Q 1259 2794 1537 2939 
Q 1816 3084 2150 3084 
Q 2853 3084 3261 2657 
Q 3669 2231 3669 1497 
Q 3669 778 3244 343 
Q 2819 -91 2113 -91 
Q 1303 -91 875 529 
Q 447 1150 447 2328 
Q 447 3434 972 4092 
Q 1497 4750 2381 4750 
Q 2619 4750 2861 4703 
Q 3103 4656 3366 4563 
z
" transform="scale(0.015625)"/>
       </defs>
       <use href="#DejaVuSans-2212"/>
       <use href="#DejaVuSans-31" transform="translate(83.789062 0)"/>
       <use href="#DejaVuSans-36" transform="translate(147.412109 0)"/>
      </g>
     </g>
    </g>
    <g id="xtick_4">
     <g id="line2d_8">
      <g>
       <use href="#m9970c9cf34" x="153.576" y="389.16" style="stroke: #000000; stroke-width: 0.5"/>
      </g>
     </g>
     <g id="text_4">
      <!-- −14 -->
      <g transform="translate(140.913187 403.228125) scale(0.12 -0.12)">
       <defs>
        <path id="DejaVuSans-34" d="M 2419 4116 
L 825 1625 
L 2419 1625 
L 2419 4116 
z
M 2253 4666 
L 3047 4666 
L 3047 1625 
L 3713 1625 
L 3713 1100 
L 3047 1100 
L 3047 0 
L 2419 0 
L 2419 1100 
L 313 1100 
L 313 1709 
L 2253 4666 
z
" transform="scale(0.015625)"/>
       </defs>
       <use href="#DejaVuSans-2212"/>
       <use href="#DejaVuSans-31" transform="translate(83.789062 0)"/>
       <use href="#DejaVuSans-34" transform="translate(147.412109 0)"/>
      </g>
     </g>
    </g>
    <g id="xtick_5">
     <g id="line2d_9">
      <g>
       <use href="#m9970c9cf34" x="180.648" y="389.16" style="stroke: #000000; stroke-width: 0.5"/>
      </g>
     </g>
     <g id="text_5">
      <!-- −12 -->
      <g transform="translate(167.985187 403.228125) scale(0.12 -0.12)">
       <use href="#DejaVuSans-2212"/>
       <use href="#DejaVuSans-31" transform="translate(83.789062 0)"/>
       <use href="#DejaVuSans-32" transform="translate(147.412109 0)"/>
      </g>
     </g>
    </g>
    <g id="xtick_6">
     <g id="line2d_10">
      <g>
       <use href="#m9970c9cf34" x="207.72" y="389.16" style="stroke: #000000; stroke-width: 0.5"/>
      </g>
     </g>
     <g id="text_6">
      <!-- −10 -->
      <g transform="translate(195.057187 403.228125) scale(0.12 -0.12)">
       <use href="#DejaVuSans-2212"/>
       <use href="#DejaVuSans-31" transform="translate(83.789062 0)"/>
       <use href="#DejaVuSans-30" transform="translate(147.412109 0)"/>
      </g>
     </g>
    </g>
    <g id="xtick_7">
     <g id="line2d_11">
      <g>
       <use href="#m9970c9cf34" x="234.792" y="389.16" style="stroke: #000000; stroke-width: 0.5"/>
      </g>
     </g>
     <g id="text_7">
      <!-- −8 -->
      <g transform="translate(225.946687 403.228125) scale(0.12 -0.12)">
       <use href="#DejaVuSans-2212"/>
       <use href="#DejaVuSans-38" transform="translate(83.789062 0)"/>
      </g>
     </g>
    </g>
    <g id="xtick_8">
     <g id="line2d_12">
      <g>
       <use href="#m9970c9cf34" x="261.864" y="389.16" style="stroke: #000000; stroke-width: 0.5"/>
      </g>
     </g>
     <g id="text_8">
      <!-- −6 -->
      <g transform="translate(253.018687 403.228125) scale(0.12 -0.12)">
       <use href="#DejaVuSans-2212"/>
       <use href="#DejaVuSans-36" transform="translate(83.789062 0)"/>
      </g>
     </g>
    </g>
    <g id="text_9">
     <!-- magnitude (bottom:isnt / top:calib) -->
     <g transform="translate(68.359687 420.541875) scale(0.12 -0.12)">
      <defs>
       <path id="DejaVuSans-6d" d="M 3328 2828 
Q 3544 3216 3844 3400 
Q 4144 3584 4550 3584 
Q 5097 3584 5394 3201 
Q 5691 2819 5691 2113 
L 5691 0 
L 5113 0 
L 5113 2094 
Q 5113 2597 4934 2840 
Q 4756 3084 4391 3084 
Q 3944 3084 3684 2787 
Q 3425 2491 3425 1978 
L 3425 0 
L 2847 0 
L 2847 2094 
Q 2847 2600 2669 2842 
Q 2491 3084 2119 3084 
Q 1678 3084 1418 2786 
Q 1159 2488 1159 1978 
L 1159 0 
L 581 0 
L 581 3500 
L 1159 3500 
L 1159 2956 
Q 1356 3278 1631 3431 
Q 1906 3584 2284 3584 
Q 2666 3584 2933 3390 
Q 3200 3197 3328 2828 
z
" transform="scale(0.015625)"/>
       <path id="DejaVuSans-61" d="M 2194 1759 
Q 1497 1759 1228 1600 
Q 959 1441 959 1056 
Q 959 750 1161 570 
Q 1363 391 1709 391 
Q 2188 391 2477 730 
Q 2766 1069 2766 1631 
L 2766 1759 
L 2194 1759 
z
M 3341 1997 
L 3341 0 
L 2766 0 
L 2766 531 
Q 2569 213 2275 61 
Q 1981 -91 1556 -91 
Q 1019 -91 701 211 
Q 384 513 384 1019 
Q 384 1609 779 1909 
Q 1175 2209 1959 2209 
L 2766 2209 
L 2766 2266 
Q 2766 2663 2505 2880 
Q 2244 3097 1772 3097 
Q 1472 3097 1187 3025 
Q 903 2953 641 2809 
L 641 3341 
Q 956 3463 1253 3523 
Q 1550 3584 1831 3584 
Q 2591 3584 2966 3190 
Q 3341 2797 3341 1997 
z
" transform="scale(0.015625)"/>
       <path id="DejaVuSans-67" d="M 2906 1791 
Q 2906 2416 2648 2759 
Q 2391 3103 1925 3103 
Q 1463 3103 1205 2759 
Q 947 2416 947 1791 
Q 947 1169 1205 825 
Q 1463 481 1925 481 
Q 2391 481 2648 825 
Q 2906 1169 2906 1791 
z
M 3481 434 
Q 3481 -459 3084 -895 
Q 2688 -1331 1869 -1331 
Q 1566 -1331 1297 -1286 
Q 1028 -1241 775 -1147 
L 775 -588 
Q 1028 -725 1275 -790 
Q 1522 -856 1778 -856 
Q 2344 -856 2625 -561 
Q 2906 -266 2906 331 
L 2906 616 
Q 2728 306 2450 153 
Q 2172 0 1784 0 
Q 1141 0 747 490 
Q 353 981 353 1791 
Q 353 2603 747 3093 
Q 1141 3584 1784 3584 
Q 2172 3584 2450 3431 
Q 2728 3278 2906 2969 
L 2906 3500 
L 3481 3500 
L 3481 434 
z
" transform="scale(0.015625)"/>
       <path id="DejaVuSans-6e" d="M 3513 2113 
L 3513 0 
L 2938 0 
L 2938 2094 
Q 2938 2591 2744 2837 
Q 2550 3084 2163 3084 
Q 1697 3084 1428 2787 
Q 1159 2491 1159 1978 
L 1159 0 
L 581 0 
L 581 3500 
L 1159 3500 
L 1159 2956 
Q 1366 3272 1645 3428 
Q 1925 3584 2291 3584 
Q 2894 3584 3203 3211 
Q 3513 2838 3513 2113 
z
" transform="scale(0.015625)"/>
       <path id="DejaVuSans-69" d="M 603 3500 
L 1178 3500 
L 1178 0 
L 603 0 
L 603 3500 
z
M 603 4863 
L 1178 4863 
L 1178 4134 
L 603 4134 
L 603 4863 
z
" transform="scale(0.015625)"/>
       <path id="DejaVuSans-74" d="M 1172 4494 
L 1172 3500 
L 2356 3500 
L 2356 3053 
L 1172 3053 
L 1172 1153 
Q 1172 725 1289 603 
Q 1406 481 1766 481 
L 2356 481 
L 2356 0 
L 1766 0 
Q 1100 0 847 248 
Q 594 497 594 1153 
L 594 3053 
L 172 3053 
L 172 3500 
L 594 3500 
L 594 4494 
L 1172 4494 
z
" transform="scale(0.015625)"/>
       <path id="DejaVuSans-75" d="M 544 1381 
L 544 3500 
L 1119 3500 
L 1119 1403 
Q 1119 906 1312 657 
Q 1506 409 1894 409 
Q 2359 409 2629 706 
Q 2900 1003 2900 1516 
L 2900 3500 
L 3475 3500 
L 3475 0 
L 2900 0 
L 2900 538 
Q 2691 219 2414 64 
Q 2138 -91 1772 -91 
Q 1169 -91 856 284 
Q 544 659 544 1381 
z
M 1991 3584 
L 1991 3584 
z
" transform="scale(0.015625)"/>
       <path id="DejaVuSans-64" d="M 2906 2969 
L 2906 4863 
L 3481 4863 
L 3481 0 
L 2906 0 
L 2906 525 
Q 2725 213 2448 61 
Q 2172 -91 1784 -91 
Q 1150 -91 751 415 
Q 353 922 353 1747 
Q 353 2572 751 3078 
Q 1150 3584 1784 3584 
Q 2172 3584 2448 3432 
Q 2725 3281 2906 2969 
z
M 947 1747 
Q 947 1113 1208 752 
Q 1469 391 1925 391 
Q 2381 391 2643 752 
Q 2906 1113 2906 1747 
Q 2906 2381 2643 2742 
Q 2381 3103 1925 3103 
Q 1469 3103 1208 2742 
Q 947 2381 947 1747 
z
" transform="scale(0.015625)"/>
       <path id="DejaVuSans-65" d="M 3597 1894 
L 3597 1613 
L 953 1613 
Q 991 1019 1311 708 
Q 1631 397 2203 397 
Q 2534 397 2845 478 
Q 3156 559 3463 722 
L 3463 178 
Q 3153 47 2828 -22 
Q 2503 -91 2169 -91 
Q 1331 -91 842 396 
Q 353 884 353 1716 
Q 353 2575 817 3079 
Q 1281 3584 2069 3584 
Q 2775 3584 3186 3129 
Q 3597 2675 3597 1894 
z
M 3022 2063 
Q 3016 2534 2758 2815 
Q 2500 3097 2075 3097 
Q 1594 3097 1305 2825 
Q 1016 2553 972 2059 
L 3022 2063 
z
" transform="scale(0.015625)"/>
       <path id="DejaVuSans-20" transform="scale(0.015625)"/>
       <path id="DejaVuSans-28" d="M 1984 4856 
Q 1566 4138 1362 3434 
Q 1159 2731 1159 2009 
Q 1159 1288 1364 580 
Q 1569 -128 1984 -844 
L 1484 -844 
Q 1016 -109 783 600 
Q 550 1309 550 2009 
Q 550 2706 781 3412 
Q 1013 4119 1484 4856 
L 1984 4856 
z
" transform="scale(0.015625)"/>
       <path id="DejaVuSans-62" d="M 3116 1747 
Q 3116 2381 2855 2742 
Q 2594 3103 2138 3103 
Q 1681 3103 1420 2742 
Q 1159 2381 1159 1747 
Q 1159 1113 1420 752 
Q 1681 391 2138 391 
Q 2594 391 2855 752 
Q 3116 1113 3116 1747 
z
M 1159 2969 
Q 1341 3281 1617 3432 
Q 1894 3584 2278 3584 
Q 2916 3584 3314 3078 
Q 3713 2572 3713 1747 
Q 3713 922 3314 415 
Q 2916 -91 2278 -91 
Q 1894 -91 1617 61 
Q 1341 213 1159 525 
L 1159 0 
L 581 0 
L 581 4863 
L 1159 4863 
L 1159 2969 
z
" transform="scale(0.015625)"/>
       <path id="DejaVuSans-6f" d="M 1959 3097 
Q 1497 3097 1228 2736 
Q 959 2375 959 1747 
Q 959 1119 1226 758 
Q 1494 397 1959 397 
Q 2419 397 2687 759 
Q 2956 1122 2956 1747 
Q 2956 2369 2687 2733 
Q 2419 3097 1959 3097 
z
M 1959 3584 
Q 2709 3584 3137 3096 
Q 3566 2609 3566 1747 
Q 3566 888 3137 398 
Q 2709 -91 1959 -91 
Q 1206 -91 779 398 
Q 353 888 353 1747 
Q 353 2609 779 3096 
Q 1206 3584 1959 3584 
z
" transform="scale(0.015625)"/>
       <path id="DejaVuSans-3a" d="M 750 794 
L 1409 794 
L 1409 0 
L 750 0 
L 750 794 
z
M 750 3309 
L 1409 3309 
L 1409 2516 
L 750 2516 
L 750 3309 
z
" transform="scale(0.015625)"/>
       <path id="DejaVuSans-73" d="M 2834 3397 
L 2834 2853 
Q 2591 2978 2328 3040 
Q 2066 3103 1784 3103 
Q 1356 3103 1142 2972 
Q 928 2841 928 2578 
Q 928 2378 1081 2264 
Q 1234 2150 1697 2047 
L 1894 2003 
Q 2506 1872 2764 1633 
Q 3022 1394 3022 966 
Q 3022 478 2636 193 
Q 2250 -91 1575 -91 
Q 1294 -91 989 -36 
Q 684 19 347 128 
L 347 722 
Q 666 556 975 473 
Q 1284 391 1588 391 
Q 1994 391 2212 530 
Q 2431 669 2431 922 
Q 2431 1156 2273 1281 
Q 2116 1406 1581 1522 
L 1381 1569 
Q 847 1681 609 1914 
Q 372 2147 372 2553 
Q 372 3047 722 3315 
Q 1072 3584 1716 3584 
Q 2034 3584 2315 3537 
Q 2597 3491 2834 3397 
z
" transform="scale(0.015625)"/>
       <path id="DejaVuSans-2f" d="M 1625 4666 
L 2156 4666 
L 531 -594 
L 0 -594 
L 1625 4666 
z
" transform="scale(0.015625)"/>
       <path id="DejaVuSans-70" d="M 1159 525 
L 1159 -1331 
L 581 -1331 
L 581 3500 
L 1159 3500 
L 1159 2969 
Q 1341 3281 1617 3432 
Q 1894 3584 2278 3584 
Q 2916 3584 3314 3078 
Q 3713 2572 3713 1747 
Q 3713 922 3314 415 
Q 2916 -91 2278 -91 
Q 1894 -91 1617 61 
Q 1341 213 1159 525 
z
M 3116 1747 
Q 3116 2381 2855 2742 
Q 2594 3103 2138 3103 
Q 1681 3103 1420 2742 
Q 1159 2381 1159 1747 
Q 1159 1113 1420 752 
Q 1681 391 2138 391 
Q 2594 391 2855 752 
Q 3116 1113 3116 1747 
z
" transform="scale(0.015625)"/>
       <path id="DejaVuSans-63" d="M 3122 3366 
L 3122 2828 
Q 2878 2963 2633 3030 
Q 2388 3097 2138 3097 
Q 1578 3097 1268 2742 
Q 959 2388 959 1747 
Q 959 1106 1268 751 
Q 1578 397 2138 397 
Q 2388 397 2633 464 
Q 2878 531 3122 666 
L 3122 134 
Q 2881 22 2623 -34 
Q 2366 -91 2075 -91 
Q 1284 -91 818 406 
Q 353 903 353 1747 
Q 353 2603 823 3093 
Q 1294 3584 2113 3584 
Q 2378 3584 2631 3529 
Q 2884 3475 3122 3366 
z
" transform="scale(0.015625)"/>
       <path id="DejaVuSans-6c" d="M 603 4863 
L 1178 4863 
L 1178 0 
L 603 0 
L 603 4863 
z
" transform="scale(0.015625)"/>
       <path id="DejaVuSans-29" d="M 513 4856 
L 1013 4856 
Q 1481 4119 1714 3412 
Q 1947 2706 1947 2009 
Q 1947 1309 1714 600 
Q 1481 -109 1013 -844 
L 513 -844 
Q 928 -128 1133 580 
Q 1338 1288 1338 2009 
Q 1338 2731 1133 3434 
Q 928 4138 513 4856 
z
" transform="scale(0.015625)"/>
      </defs>
      <use href="#DejaVuSans-6d"/>
      <use href="#DejaVuSans-61" transform="translate(97.412109 0)"/>
      <use href="#DejaVuSans-67" transform="translate(158.691406 0)"/>
      <use href="#DejaVuSans-6e" transform="translate(222.167969 0)"/>
      <use href="#DejaVuSans-69" transform="translate(285.546875 0)"/>
      <use href="#DejaVuSans-74" transform="translate(313.330078 0)"/>
      <use href="#DejaVuSans-75" transform="translate(352.539062 0)"/>
      <use href="#DejaVuSans-64" transform="translate(415.917969 0)"/>
      <use href="#DejaVuSans-65" transform="translate(479.394531 0)"/>
      <use href="#DejaVuSans-20" transform="translate(540.917969 0)"/>
      <use href="#DejaVuSans-28" transform="translate(572.705078 0)"/>
      <use href="#DejaVuSans-62" transform="translate(611.71875 0)"/>
      <use href="#DejaVuSans-6f" transform="translate(675.195312 0)"/>
      <use href="#DejaVuSans-74" transform="translate(736.376953 0)"/>
      <use href="#DejaVuSans-74" transform="translate(775.585938 0)"/>
      <use href="#DejaVuSans-6f" transform="translate(814.794922 0)"/>
      <use href="#DejaVuSans-6d" transform="translate(875.976562 0)"/>
      <use href="#DejaVuSans-3a" transform="translate(973.388672 0)"/>
      <use href="#DejaVuSans-69" transform="translate(1007.080078 0)"/>
      <use href="#DejaVuSans-73" transform="translate(1034.863281 0)"/>
      <use href="#DejaVuSans-6e" transform="translate(1086.962891 0)"/>
      <use href="#DejaVuSans-74" transform="translate(1150.341797 0)"/>
      <use href="#DejaVuSans-20" transform="translate(1189.550781 0)"/>
      <use href="#DejaVuSans-2f" transform="translate(1221.337891 0)"/>
      <use href="#DejaVuSans-20" transform="translate(1255.029297 0)"/>
      <use href="#DejaVuSans-74" transform="translate(1286.816406 0)"/>
      <use href="#DejaVuSans-6f" transform="translate(1326.025391 0)"/>
      <use href="#DejaVuSans-70" transform="translate(1387.207031 0)"/>
      <use href="#DejaVuSans-3a" transform="translate(1450.683594 0)"/>
      <use href="#DejaVuSans-63" transform="translate(1484.375 0)"/>
      <use href="#DejaVuSans-61" transform="translate(1539.355469 0)"/>
      <use href="#DejaVuSans-6c" transform="translate(1600.634766 0)"/>
      <use href="#DejaVuSans-69" transform="translate(1628.417969 0)"/>
      <use href="#DejaVuSans-62" transform="translate(1656.201172 0)"/>
      <use href="#DejaVuSans-29" transform="translate(1719.677734 0)"/>
     </g>
    </g>
   </g>
   <g id="matplotlib.axis_2">
    <g id="ytick_1">
     <g id="line2d_13">
      <defs>
       <path id="m15b6ba686d" d="M 0 0 
L 4 0 
" style="stroke: #000000; stroke-width: 0.5"/>
      </defs>
      <g>
       <use href="#m15b6ba686d" x="72.36" y="389.16" style="stroke: #000000; stroke-width: 0.5"/>
      </g>
     </g>
     <g id="line2d_14">
      <defs>
       <path id="m23530d4d53" d="M 0 0 
L -4 0 
" style="stroke: #000000; stroke-width: 0.5"/>
      </defs>
      <g>
       <use href="#m23530d4d53" x="275.4" y="389.16" style="stroke: #000000; stroke-width: 0.5"/>
      </g>
     </g>
     <g id="text_10">
      <!-- 0 -->
      <g transform="translate(61.525 392.47125) scale(0.12 -0.12)">
       <use href="#DejaVuSans-30"/>
      </g>
     </g>
    </g>
    <g id="ytick_2">
     <g id="line2d_15">
      <g>
       <use href="#m15b6ba686d" x="72.36" y="302.76" style="stroke: #000000; stroke-width: 0.5"/>
      </g>
     </g>
     <g id="line2d_16">
      <g>
       <use href="#m23530d4d53" x="275.4" y="302.76" style="stroke: #000000; stroke-width: 0.5"/>
      </g>
     </g>
     <g id="text_11">
      <!-- 5 -->
      <g transform="translate(61.525 306.07125) scale(0.12 -0.12)">
       <defs>
        <path id="DejaVuSans-35" d="M 691 4666 
L 3169 4666 
L 3169 4134 
L 1269 4134 
L 1269 2991 
Q 1406 3038 1543 3061 
Q 1681 3084 1819 3084 
Q 2600 3084 3056 2656 
Q 3513 2228 3513 1497 
Q 3513 744 3044 326 
Q 2575 -91 1722 -91 
Q 1428 -91 1123 -41 
Q 819 9 494 109 
L 494 744 
Q 775 591 1075 516 
Q 1375 441 1709 441 
Q 2250 441 2565 725 
Q 2881 1009 2881 1497 
Q 2881 1984 2565 2268 
Q 2250 2553 1709 2553 
Q 1456 2553 1204 2497 
Q 953 2441 691 2322 
L 691 4666 
z
" transform="scale(0.015625)"/>
       </defs>
       <use href="#DejaVuSans-35"/>
      </g>
     </g>
    </g>
    <g id="ytick_3">
     <g id="line2d_17">
      <g>
       <use href="#m15b6ba686d" x="72.36" y="216.36" style="stroke: #000000; stroke-width: 0.5"/>
      </g>
     </g>
     <g id="line2d_18">
      <g>
       <use href="#m23530d4d53" x="275.4" y="216.36" style="stroke: #000000; stroke-width: 0.5"/>
      </g>
     </g>
     <g id="text_12">
      <!-- 10 -->
      <g transform="translate(53.89 219.67125) scale(0.12 -0.12)">
       <use href="#DejaVuSans-31"/>
       <use href="#DejaVuSans-30" transform="translate(63.623047 0)"/>
      </g>
     </g>
    </g>
    <g id="ytick_4">
     <g id="line2d_19">
      <g>
       <use href="#m15b6ba686d" x="72.36" y="129.96" style="stroke: #000000; stroke-width: 0.5"/>
      </g>
     </g>
     <g id="line2d_20">
      <g>
       <use href="#m23530d4d53" x="275.4" y="129.96" style="stroke: #000000; stroke-width: 0.5"/>
      </g>
     </g>
     <g id="text_13">
      <!-- 15 -->
      <g transform="translate(53.89 133.27125) scale(0.12 -0.12)">
       <use href="#DejaVuSans-31"/>
       <use href="#DejaVuSans-35" transform="translate(63.623047 0)"/>
      </g>
     </g>
    </g>
    <g id="ytick_5">
     <g id="line2d_21">
      <g>
       <use href="#m15b6ba686d" x="72.36" y="43.56" style="stroke: #000000; stroke-width: 0.5"/>
      </g>
     </g>
     <g id="line2d_22">
      <g>
       <use href="#m23530d4d53" x="275.4" y="43.56" style="stroke: #000000; stroke-width: 0.5"/>
      </g>
     </g>
     <g id="text_14">
      <!-- 20 -->
      <g transform="translate(53.89 46.87125) scale(0.12 -0.12)">
       <use href="#DejaVuSans-32"/>
       <use href="#DejaVuSans-30" transform="translate(63.623047 0)"/>
      </g>
     </g>
    </g>
    <g id="text_15">
     <!-- FWHM (pix) -->
     <g transform="translate(46.394375 251.048438) rotate(-90) scale(0.12 -0.12)">
      <defs>
       <path id="DejaVuSans-46" d="M 628 4666 
L 3309 4666 
L 3309 4134 
L 1259 4134 
L 1259 2759 
L 3109 2759 
L 3109 2228 
L 1259 2228 
L 1259 0 
L 628 0 
L 628 4666 
z
" transform="scale(0.015625)"/>
       <path id="DejaVuSans-57" d="M 213 4666 
L 850 4666 
L 1831 722 
L 2809 4666 
L 3519 4666 
L 4500 722 
L 5478 4666 
L 6119 4666 
L 4947 0 
L 4153 0 
L 3169 4050 
L 2175 0 
L 1381 0 
L 213 4666 
z
" transform="scale(0.015625)"/>
       <path id="DejaVuSans-48" d="M 628 4666 
L 1259 4666 
L 1259 2753 
L 3553 2753 
L 3553 4666 
L 4184 4666 
L 4184 0 
L 3553 0 
L 3553 2222 
L 1259 2222 
L 1259 0 
L 628 0 
L 628 4666 
z
" transform="scale(0.015625)"/>
       <path id="DejaVuSans-4d" d="M 628 4666 
L 1569 4666 
L 2759 1491 
L 3956 4666 
L 4897 4666 
L 4897 0 
L 4281 0 
L 4281 4097 
L 3078 897 
L 2444 897 
L 1241 4097 
L 1241 0 
L 628 0 
L 628 4666 
z
" transform="scale(0.015625)"/>
       <path id="DejaVuSans-78" d="M 3513 3500 
L 2247 1797 
L 3578 0 
L 2900 0 
L 1881 1375 
L 863 0 
L 184 0 
L 1544 1831 
L 300 3500 
L 978 3500 
L 1906 2253 
L 2834 3500 
L 3513 3500 
z
" transform="scale(0.015625)"/>
      </defs>
      <use href="#DejaVuSans-46"/>
      <use href="#DejaVuSans-57" transform="translate(57.519531 0)"/>
      <use href="#DejaVuSans-48" transform="translate(156.396484 0)"/>
      <use href="#DejaVuSans-4d" transform="translate(231.591797 0)"/>
      <use href="#DejaVuSans-20" transform="translate(317.871094 0)"/>
      <use href="#DejaVuSans-28" transform="translate(349.658203 0)"/>
      <use href="#DejaVuSans-70" transform="translate(388.671875 0)"/>
      <use href="#DejaVuSans-69" transform="translate(452.148438 0)"/>
      <use href="#DejaVuSans-78" transform="translate(479.931641 0)"/>
      <use href="#DejaVuSans-29" transform="translate(539.111328 0)"/>
     </g>
    </g>
   </g>
  </g>
  <g id="axes_2">
   <g id="patch_7">
    <path d="M 72.36 389.16 
L 72.36 43.56 
" style="fill: none; stroke: #000000; stroke-linejoin: miter; stroke-linecap: square"/>
   </g>
   <g id="patch_8">
    <path d="M 275.4 389.16 
L 275.4 43.56 
" style="fill: none; stroke: #000000; stroke-linejoin: miter; stroke-linecap: square"/>
   </g>
   <g id="patch_9">
    <path d="M 72.36 389.16 
L 275.4 389.16 
" style="fill: none; stroke: #000000; stroke-linejoin: miter; stroke-linecap: square"/>
   </g>
   <g id="patch_10">
    <path d="M 72.36 43.56 
L 275.4 43.56 
" style="fill: none; stroke: #000000; stroke-linejoin: miter; stroke-linecap: square"/>
   </g>
   <g id="matplotlib.axis_3">
    <g id="xtick_9">
     <g id="line2d_23">
      <defs>
       <path id="ma74727226e" d="M 0 0 
L 0 4 
" style="stroke: #000000; stroke-width: 0.5"/>
      </defs>
      <g>
       <use href="#ma74727226e" x="82.999296" y="43.56" style="stroke: #000000; stroke-width: 0.5"/>
      </g>
     </g>
     <g id="text_16">
      <!-- 14 -->
      <g transform="translate(75.364296 36.114375) scale(0.12 -0.12)">
       <use href="#DejaVuSans-31"/>
       <use href="#DejaVuSans-34" transform="translate(63.623047 0)"/>
      </g>
     </g>
    </g>
    <g id="xtick_10">
     <g id="line2d_24">
      <g>
       <use href="#ma74727226e" x="110.071296" y="43.56" style="stroke: #000000; stroke-width: 0.5"/>
      </g>
     </g>
     <g id="text_17">
      <!-- 16 -->
      <g transform="translate(102.436296 36.114375) scale(0.12 -0.12)">
       <use href="#DejaVuSans-31"/>
       <use href="#DejaVuSans-36" transform="translate(63.623047 0)"/>
      </g>
     </g>
    </g>
    <g id="xtick_11">
     <g id="line2d_25">
      <g>
       <use href="#ma74727226e" x="137.143296" y="43.56" style="stroke: #000000; stroke-width: 0.5"/>
      </g>
     </g>
     <g id="text_18">
      <!-- 18 -->
      <g transform="translate(129.508296 36.114375) scale(0.12 -0.12)">
       <use href="#DejaVuSans-31"/>
       <use href="#DejaVuSans-38" transform="translate(63.623047 0)"/>
      </g>
     </g>
    </g>
    <g id="xtick_12">
     <g id="line2d_26">
      <g>
       <use href="#ma74727226e" x="164.215296" y="43.56" style="stroke: #000000; stroke-width: 0.5"/>
      </g>
     </g>
     <g id="text_19">
      <!-- 20 -->
      <g transform="translate(156.580296 36.114375) scale(0.12 -0.12)">
       <use href="#DejaVuSans-32"/>
       <use href="#DejaVuSans-30" transform="translate(63.623047 0)"/>
      </g>
     </g>
    </g>
    <g id="xtick_13">
     <g id="line2d_27">
      <g>
       <use href="#ma74727226e" x="191.287296" y="43.56" style="stroke: #000000; stroke-width: 0.5"/>
      </g>
     </g>
     <g id="text_20">
      <!-- 22 -->
      <g transform="translate(183.652296 36.114375) scale(0.12 -0.12)">
       <use href="#DejaVuSans-32"/>
       <use href="#DejaVuSans-32" transform="translate(63.623047 0)"/>
      </g>
     </g>
    </g>
    <g id="xtick_14">
     <g id="line2d_28">
      <g>
       <use href="#ma74727226e" x="218.359296" y="43.56" style="stroke: #000000; stroke-width: 0.5"/>
      </g>
     </g>
     <g id="text_21">
      <!-- 24 -->
      <g transform="translate(210.724296 36.114375) scale(0.12 -0.12)">
       <use href="#DejaVuSans-32"/>
       <use href="#DejaVuSans-34" transform="translate(63.623047 0)"/>
      </g>
     </g>
    </g>
    <g id="xtick_15">
     <g id="line2d_29">
      <g>
       <use href="#ma74727226e" x="245.431296" y="43.56" style="stroke: #000000; stroke-width: 0.5"/>
      </g>
     </g>
     <g id="text_22">
      <!-- 26 -->
      <g transform="translate(237.796296 36.114375) scale(0.12 -0.12)">
       <use href="#DejaVuSans-32"/>
       <use href="#DejaVuSans-36" transform="translate(63.623047 0)"/>
      </g>
     </g>
    </g>
    <g id="xtick_16">
     <g id="line2d_30">
      <g>
       <use href="#ma74727226e" x="272.503296" y="43.56" style="stroke: #000000; stroke-width: 0.5"/>
      </g>
     </g>
     <g id="text_23">
      <!-- 28 -->
      <g transform="translate(264.868296 36.114375) scale(0.12 -0.12)">
       <use href="#DejaVuSans-32"/>
       <use href="#DejaVuSans-38" transform="translate(63.623047 0)"/>
      </g>
     </g>
    </g>
   </g>
   <g id="text_24">
    <!-- FWHM vs magnitudes -->
    <g transform="translate(85.697253 21.28) scale(0.144 -0.144)">
     <defs>
      <path id="DejaVuSans-76" d="M 191 3500 
L 800 3500 
L 1894 563 
L 2988 3500 
L 3597 3500 
L 2284 0 
L 1503 0 
L 191 3500 
z
" transform="scale(0.015625)"/>
     </defs>
     <use href="#DejaVuSans-46"/>
     <use href="#DejaVuSans-57" transform="translate(57.519531 0)"/>
     <use href="#DejaVuSans-48" transform="translate(156.396484 0)"/>
     <use href="#DejaVuSans-4d" transform="translate(231.591797 0)"/>
     <use href="#DejaVuSans-20" transform="translate(317.871094 0)"/>
     <use href="#DejaVuSans-76" transform="translate(349.658203 0)"/>
     <use href="#DejaVuSans-73" transform="translate(408.837891 0)"/>
     <use href="#DejaVuSans-20" transform="translate(460.9375 0)"/>
     <use href="#DejaVuSans-6d" transform="translate(492.724609 0)"/>
     <use href="#DejaVuSans-61" transform="translate(590.136719 0)"/>
     <use href="#DejaVuSans-67" transform="translate(651.416016 0)"/>
     <use href="#DejaVuSans-6e" transform="translate(714.892578 0)"/>
     <use href="#DejaVuSans-69" transform="translate(778.271484 0)"/>
     <use href="#DejaVuSans-74" transform="translate(806.054688 0)"/>
     <use href="#DejaVuSans-75" transform="translate(845.263672 0)"/>
     <use href="#DejaVuSans-64" transform="translate(908.642578 0)"/>
     <use href="#DejaVuSans-65" transform="translate(972.119141 0)"/>
     <use href="#DejaVuSans-73" transform="translate(1033.642578 0)"/>
    </g>
   </g>
   <g id="legend_1">
    <g id="patch_11">
     <path d="M 19.8 180.531 
L 268.11 180.531 
L 268.11 50.76 
L 19.8 50.76 
z
" style="fill: #ffffff; stroke: #000000; stroke-linejoin: miter"/>
    </g>
    <g id="line2d_31">
     <g>
      <use href="#m5d0e172940" x="29.88" y="62.42175" style="fill: #00bfbf; stroke: #00bfbf; stroke-width: 0.5"/>
      <use href="#m5d0e172940" x="50.04" y="62.42175" style="fill: #00bfbf; stroke: #00bfbf; stroke-width: 0.5"/>
     </g>
    </g>
    <g id="text_25">
     <!-- all sample -->
     <g transform="translate(65.592 67.46175) scale(0.144 -0.144)">
      <use href="#DejaVuSans-61"/>
      <use href="#DejaVuSans-6c" transform="translate(61.279297 0)"/>
      <use href="#DejaVuSans-6c" transform="translate(89.0625 0)"/>
      <use href="#DejaVuSans-20" transform="translate(116.845703 0)"/>
      <use href="#DejaVuSans-73" transform="translate(148.632812 0)"/>
      <use href="#DejaVuSans-61" transform="translate(200.732422 0)"/>
      <use href="#DejaVuSans-6d" transform="translate(262.011719 0)"/>
      <use href="#DejaVuSans-70" transform="translate(359.423828 0)"/>
      <use href="#DejaVuSans-6c" transform="translate(422.900391 0)"/>
      <use href="#DejaVuSans-65" transform="translate(450.683594 0)"/>
     </g>
    </g>
    <g id="line2d_32">
     <g>
      <use href="#m0acb2bfa27" x="29.88" y="83.28465" style="fill: #0000ff; stroke: #0000ff; stroke-width: 0.5"/>
      <use href="#m0acb2bfa27" x="50.04" y="83.28465" style="fill: #0000ff; stroke: #0000ff; stroke-width: 0.5"/>
     </g>
    </g>
    <g id="text_26">
     <!-- sample for rough FWHM -->
     <g transform="translate(65.592 88.32465) scale(0.144 -0.144)">
      <defs>
       <path id="DejaVuSans-66" d="M 2375 4863 
L 2375 4384 
L 1825 4384 
Q 1516 4384 1395 4259 
Q 1275 4134 1275 3809 
L 1275 3500 
L 2222 3500 
L 2222 3053 
L 1275 3053 
L 1275 0 
L 697 0 
L 697 3053 
L 147 3053 
L 147 3500 
L 697 3500 
L 697 3744 
Q 697 4328 969 4595 
Q 1241 4863 1831 4863 
L 2375 4863 
z
" transform="scale(0.015625)"/>
       <path id="DejaVuSans-72" d="M 2631 2963 
Q 2534 3019 2420 3045 
Q 2306 3072 2169 3072 
Q 1681 3072 1420 2755 
Q 1159 2438 1159 1844 
L 1159 0 
L 581 0 
L 581 3500 
L 1159 3500 
L 1159 2956 
Q 1341 3275 1631 3429 
Q 1922 3584 2338 3584 
Q 2397 3584 2469 3576 
Q 2541 3569 2628 3553 
L 2631 2963 
z
" transform="scale(0.015625)"/>
       <path id="DejaVuSans-68" d="M 3513 2113 
L 3513 0 
L 2938 0 
L 2938 2094 
Q 2938 2591 2744 2837 
Q 2550 3084 2163 3084 
Q 1697 3084 1428 2787 
Q 1159 2491 1159 1978 
L 1159 0 
L 581 0 
L 581 4863 
L 1159 4863 
L 1159 2956 
Q 1366 3272 1645 3428 
Q 1925 3584 2291 3584 
Q 2894 3584 3203 3211 
Q 3513 2838 3513 2113 
z
" transform="scale(0.015625)"/>
      </defs>
      <use href="#DejaVuSans-73"/>
      <use href="#DejaVuSans-61" transform="translate(52.099609 0)"/>
      <use href="#DejaVuSans-6d" transform="translate(113.378906 0)"/>
      <use href="#DejaVuSans-70" transform="translate(210.791016 0)"/>
      <use href="#DejaVuSans-6c" transform="translate(274.267578 0)"/>
      <use href="#DejaVuSans-65" transform="translate(302.050781 0)"/>
      <use href="#DejaVuSans-20" transform="translate(363.574219 0)"/>
      <use href="#DejaVuSans-66" transform="translate(395.361328 0)"/>
      <use href="#DejaVuSans-6f" transform="translate(430.566406 0)"/>
      <use href="#DejaVuSans-72" transform="translate(491.748047 0)"/>
      <use href="#DejaVuSans-20" transform="translate(532.861328 0)"/>
      <use href="#DejaVuSans-72" transform="translate(564.648438 0)"/>
      <use href="#DejaVuSans-6f" transform="translate(603.511719 0)"/>
      <use href="#DejaVuSans-75" transform="translate(664.693359 0)"/>
      <use href="#DejaVuSans-67" transform="translate(728.072266 0)"/>
      <use href="#DejaVuSans-68" transform="translate(791.548828 0)"/>
      <use href="#DejaVuSans-20" transform="translate(854.927734 0)"/>
      <use href="#DejaVuSans-46" transform="translate(886.714844 0)"/>
      <use href="#DejaVuSans-57" transform="translate(944.234375 0)"/>
      <use href="#DejaVuSans-48" transform="translate(1043.111328 0)"/>
      <use href="#DejaVuSans-4d" transform="translate(1118.306641 0)"/>
     </g>
    </g>
    <g id="line2d_33">
     <g>
      <use href="#mcfd4e7e85d" x="29.88" y="104.14755" style="fill: #bf00bf; stroke: #000000; stroke-width: 0.5"/>
      <use href="#mcfd4e7e85d" x="50.04" y="104.14755" style="fill: #bf00bf; stroke: #000000; stroke-width: 0.5"/>
     </g>
    </g>
    <g id="text_27">
     <!-- best-effort PSF-like sample -->
     <g transform="translate(65.592 109.18755) scale(0.144 -0.144)">
      <defs>
       <path id="DejaVuSans-2d" d="M 313 2009 
L 1997 2009 
L 1997 1497 
L 313 1497 
L 313 2009 
z
" transform="scale(0.015625)"/>
       <path id="DejaVuSans-50" d="M 1259 4147 
L 1259 2394 
L 2053 2394 
Q 2494 2394 2734 2622 
Q 2975 2850 2975 3272 
Q 2975 3691 2734 3919 
Q 2494 4147 2053 4147 
L 1259 4147 
z
M 628 4666 
L 2053 4666 
Q 2838 4666 3239 4311 
Q 3641 3956 3641 3272 
Q 3641 2581 3239 2228 
Q 2838 1875 2053 1875 
L 1259 1875 
L 1259 0 
L 628 0 
L 628 4666 
z
" transform="scale(0.015625)"/>
       <path id="DejaVuSans-53" d="M 3425 4513 
L 3425 3897 
Q 3066 4069 2747 4153 
Q 2428 4238 2131 4238 
Q 1616 4238 1336 4038 
Q 1056 3838 1056 3469 
Q 1056 3159 1242 3001 
Q 1428 2844 1947 2747 
L 2328 2669 
Q 3034 2534 3370 2195 
Q 3706 1856 3706 1288 
Q 3706 609 3251 259 
Q 2797 -91 1919 -91 
Q 1588 -91 1214 -16 
Q 841 59 441 206 
L 441 856 
Q 825 641 1194 531 
Q 1563 422 1919 422 
Q 2459 422 2753 634 
Q 3047 847 3047 1241 
Q 3047 1584 2836 1778 
Q 2625 1972 2144 2069 
L 1759 2144 
Q 1053 2284 737 2584 
Q 422 2884 422 3419 
Q 422 4038 858 4394 
Q 1294 4750 2059 4750 
Q 2388 4750 2728 4690 
Q 3069 4631 3425 4513 
z
" transform="scale(0.015625)"/>
       <path id="DejaVuSans-6b" d="M 581 4863 
L 1159 4863 
L 1159 1991 
L 2875 3500 
L 3609 3500 
L 1753 1863 
L 3688 0 
L 2938 0 
L 1159 1709 
L 1159 0 
L 581 0 
L 581 4863 
z
" transform="scale(0.015625)"/>
      </defs>
      <use href="#DejaVuSans-62"/>
      <use href="#DejaVuSans-65" transform="translate(63.476562 0)"/>
      <use href="#DejaVuSans-73" transform="translate(125 0)"/>
      <use href="#DejaVuSans-74" transform="translate(177.099609 0)"/>
      <use href="#DejaVuSans-2d" transform="translate(216.308594 0)"/>
      <use href="#DejaVuSans-65" transform="translate(252.392578 0)"/>
      <use href="#DejaVuSans-66" transform="translate(313.916016 0)"/>
      <use href="#DejaVuSans-66" transform="translate(349.121094 0)"/>
      <use href="#DejaVuSans-6f" transform="translate(384.326172 0)"/>
      <use href="#DejaVuSans-72" transform="translate(445.507812 0)"/>
      <use href="#DejaVuSans-74" transform="translate(486.621094 0)"/>
      <use href="#DejaVuSans-20" transform="translate(525.830078 0)"/>
      <use href="#DejaVuSans-50" transform="translate(557.617188 0)"/>
      <use href="#DejaVuSans-53" transform="translate(617.919922 0)"/>
      <use href="#DejaVuSans-46" transform="translate(681.396484 0)"/>
      <use href="#DejaVuSans-2d" transform="translate(738.916016 0)"/>
      <use href="#DejaVuSans-6c" transform="translate(775 0)"/>
      <use href="#DejaVuSans-69" transform="translate(802.783203 0)"/>
      <use href="#DejaVuSans-6b" transform="translate(830.566406 0)"/>
      <use href="#DejaVuSans-65" transform="translate(884.851562 0)"/>
      <use href="#DejaVuSans-20" transform="translate(946.375 0)"/>
      <use href="#DejaVuSans-73" transform="translate(978.162109 0)"/>
      <use href="#DejaVuSans-61" transform="translate(1030.261719 0)"/>
      <use href="#DejaVuSans-6d" transform="translate(1091.541016 0)"/>
      <use href="#DejaVuSans-70" transform="translate(1188.953125 0)"/>
      <use href="#DejaVuSans-6c" transform="translate(1252.429688 0)"/>
      <use href="#DejaVuSans-65" transform="translate(1280.212891 0)"/>
     </g>
    </g>
    <g id="line2d_34">
     <path d="M 29.88 125.01045 
L 50.04 125.01045 
" style="fill: none; stroke-dasharray: 6,6; stroke-dashoffset: 0; stroke: #0000ff"/>
    </g>
    <g id="text_28">
     <!-- resultant FWHM: 2.72 -->
     <g transform="translate(65.592 130.05045) scale(0.144 -0.144)">
      <defs>
       <path id="DejaVuSans-2e" d="M 684 794 
L 1344 794 
L 1344 0 
L 684 0 
L 684 794 
z
" transform="scale(0.015625)"/>
       <path id="DejaVuSans-37" d="M 525 4666 
L 3525 4666 
L 3525 4397 
L 1831 0 
L 1172 0 
L 2766 4134 
L 525 4134 
L 525 4666 
z
" transform="scale(0.015625)"/>
      </defs>
      <use href="#DejaVuSans-72"/>
      <use href="#DejaVuSans-65" transform="translate(38.863281 0)"/>
      <use href="#DejaVuSans-73" transform="translate(100.386719 0)"/>
      <use href="#DejaVuSans-75" transform="translate(152.486328 0)"/>
      <use href="#DejaVuSans-6c" transform="translate(215.865234 0)"/>
      <use href="#DejaVuSans-74" transform="translate(243.648438 0)"/>
      <use href="#DejaVuSans-61" transform="translate(282.857422 0)"/>
      <use href="#DejaVuSans-6e" transform="translate(344.136719 0)"/>
      <use href="#DejaVuSans-74" transform="translate(407.515625 0)"/>
      <use href="#DejaVuSans-20" transform="translate(446.724609 0)"/>
      <use href="#DejaVuSans-46" transform="translate(478.511719 0)"/>
      <use href="#DejaVuSans-57" transform="translate(536.03125 0)"/>
      <use href="#DejaVuSans-48" transform="translate(634.908203 0)"/>
      <use href="#DejaVuSans-4d" transform="translate(710.103516 0)"/>
      <use href="#DejaVuSans-3a" transform="translate(796.382812 0)"/>
      <use href="#DejaVuSans-20" transform="translate(830.074219 0)"/>
      <use href="#DejaVuSans-32" transform="translate(861.861328 0)"/>
      <use href="#DejaVuSans-2e" transform="translate(925.484375 0)"/>
      <use href="#DejaVuSans-37" transform="translate(957.271484 0)"/>
      <use href="#DejaVuSans-32" transform="translate(1020.894531 0)"/>
     </g>
    </g>
    <g id="line2d_35">
     <path d="M 29.88 145.87335 
L 50.04 145.87335 
" style="fill: none; stroke-dasharray: 6,6; stroke-dashoffset: 0; stroke: #ff0000"/>
    </g>
    <g id="text_29">
     <!-- median FHWM of sequence -->
     <g transform="translate(65.592 150.91335) scale(0.144 -0.144)">
      <defs>
       <path id="DejaVuSans-71" d="M 947 1747 
Q 947 1113 1208 752 
Q 1469 391 1925 391 
Q 2381 391 2643 752 
Q 2906 1113 2906 1747 
Q 2906 2381 2643 2742 
Q 2381 3103 1925 3103 
Q 1469 3103 1208 2742 
Q 947 2381 947 1747 
z
M 2906 525 
Q 2725 213 2448 61 
Q 2172 -91 1784 -91 
Q 1150 -91 751 415 
Q 353 922 353 1747 
Q 353 2572 751 3078 
Q 1150 3584 1784 3584 
Q 2172 3584 2448 3432 
Q 2725 3281 2906 2969 
L 2906 3500 
L 3481 3500 
L 3481 -1331 
L 2906 -1331 
L 2906 525 
z
" transform="scale(0.015625)"/>
      </defs>
      <use href="#DejaVuSans-6d"/>
      <use href="#DejaVuSans-65" transform="translate(97.412109 0)"/>
      <use href="#DejaVuSans-64" transform="translate(158.935547 0)"/>
      <use href="#DejaVuSans-69" transform="translate(222.412109 0)"/>
      <use href="#DejaVuSans-61" transform="translate(250.195312 0)"/>
      <use href="#DejaVuSans-6e" transform="translate(311.474609 0)"/>
      <use href="#DejaVuSans-20" transform="translate(374.853516 0)"/>
      <use href="#DejaVuSans-46" transform="translate(406.640625 0)"/>
      <use href="#DejaVuSans-48" transform="translate(464.160156 0)"/>
      <use href="#DejaVuSans-57" transform="translate(539.355469 0)"/>
      <use href="#DejaVuSans-4d" transform="translate(638.232422 0)"/>
      <use href="#DejaVuSans-20" transform="translate(724.511719 0)"/>
      <use href="#DejaVuSans-6f" transform="translate(756.298828 0)"/>
      <use href="#DejaVuSans-66" transform="translate(817.480469 0)"/>
      <use href="#DejaVuSans-20" transform="translate(852.685547 0)"/>
      <use href="#DejaVuSans-73" transform="translate(884.472656 0)"/>
      <use href="#DejaVuSans-65" transform="translate(936.572266 0)"/>
      <use href="#DejaVuSans-71" transform="translate(998.095703 0)"/>
      <use href="#DejaVuSans-75" transform="translate(1061.572266 0)"/>
      <use href="#DejaVuSans-65" transform="translate(1124.951172 0)"/>
      <use href="#DejaVuSans-6e" transform="translate(1186.474609 0)"/>
      <use href="#DejaVuSans-63" transform="translate(1249.853516 0)"/>
      <use href="#DejaVuSans-65" transform="translate(1304.833984 0)"/>
     </g>
    </g>
    <g id="line2d_36">
     <path d="M 29.88 166.73625 
L 50.04 166.73625 
" style="fill: none; stroke-dasharray: 3,5,1,5; stroke-dashoffset: 0; stroke: #0000ff"/>
    </g>
    <g id="text_30">
     <!-- sigma range -->
     <g transform="translate(65.592 171.77625) scale(0.144 -0.144)">
      <use href="#DejaVuSans-73"/>
      <use href="#DejaVuSans-69" transform="translate(52.099609 0)"/>
      <use href="#DejaVuSans-67" transform="translate(79.882812 0)"/>
      <use href="#DejaVuSans-6d" transform="translate(143.359375 0)"/>
      <use href="#DejaVuSans-61" transform="translate(240.771484 0)"/>
      <use href="#DejaVuSans-20" transform="translate(302.050781 0)"/>
      <use href="#DejaVuSans-72" transform="translate(333.837891 0)"/>
      <use href="#DejaVuSans-61" transform="translate(374.951172 0)"/>
      <use href="#DejaVuSans-6e" transform="translate(436.230469 0)"/>
      <use href="#DejaVuSans-67" transform="translate(499.609375 0)"/>
      <use href="#DejaVuSans-65" transform="translate(563.085938 0)"/>
     </g>
    </g>
   </g>
  </g>
  <g id="axes_3">
   <g id="patch_12">
    <path d="M 315.72 389.16 
L 518.76 389.16 
L 518.76 43.56 
L 315.72 43.56 
z
" style="fill: #ffffff"/>
   </g>
   <g id="patch_13">
    <path d="M 315.72 273.192 
L 316.3968 273.192 
L 316.3968 232.1616 
L 315.72 232.1616 
z
" clip-path="url(#p4bda9363e0)" style="fill: #0000ff; stroke: #000000; stroke-linejoin: miter"/>
   </g>
   <g id="patch_14">
    <path d="M 315.72 232.1616 
L 466.199712 232.1616 
L 466.199712 191.1312 
L 315.72 191.1312 
z
" clip-path="url(#p4bda9363e0)" style="fill: #0000ff; stroke: #000000; stroke-linejoin: miter"/>
   </g>
   <g id="patch_15">
    <path d="M 315.72 191.1312 
L 368.280288 191.1312 
L 368.280288 150.1008 
L 315.72 150.1008 
z
" clip-path="url(#p4bda9363e0)" style="fill: #0000ff; stroke: #000000; stroke-linejoin: miter"/>
   </g>
   <g id="patch_16">
    <path d="M 315.72 150.1008 
L 327.963312 150.1008 
L 327.963312 109.0704 
L 315.72 109.0704 
z
" clip-path="url(#p4bda9363e0)" style="fill: #0000ff; stroke: #000000; stroke-linejoin: miter"/>
   </g>
   <g id="patch_17">
    <path d="M 315.72 109.0704 
L 319.320576 109.0704 
L 319.320576 68.04 
L 315.72 68.04 
z
" clip-path="url(#p4bda9363e0)" style="fill: #0000ff; stroke: #000000; stroke-linejoin: miter"/>
   </g>
   <g id="line2d_37">
    <path d="M 315.72 213.48 
L 489.6576 213.48 
" clip-path="url(#p4bda9363e0)" style="fill: none; stroke-dasharray: 6,6; stroke-dashoffset: 0; stroke: #000000"/>
   </g>
   <g id="patch_18">
    <path d="M 315.72 389.16 
L 315.72 43.56 
" style="fill: none; stroke: #000000; stroke-linejoin: miter; stroke-linecap: square"/>
   </g>
   <g id="patch_19">
    <path d="M 518.76 389.16 
L 518.76 43.56 
" style="fill: none; stroke: #000000; stroke-linejoin: miter; stroke-linecap: square"/>
   </g>
   <g id="patch_20">
    <path d="M 315.72 389.16 
L 518.76 389.16 
" style="fill: none; stroke: #000000; stroke-linejoin: miter; stroke-linecap: square"/>
   </g>
   <g id="patch_21">
    <path d="M 315.72 43.56 
L 518.76 43.56 
" style="fill: none; stroke: #000000; stroke-linejoin: miter; stroke-linecap: square"/>
   </g>
   <g id="matplotlib.axis_4">
    <g id="xtick_17">
     <g id="line2d_38">
      <g>
       <use href="#m9970c9cf34" x="315.72" y="389.16" style="stroke: #000000; stroke-width: 0.5"/>
      </g>
     </g>
     <g id="line2d_39">
      <g>
       <use href="#ma74727226e" x="315.72" y="43.56" style="stroke: #000000; stroke-width: 0.5"/>
      </g>
     </g>
     <g id="text_31">
      <!-- 0 -->
      <g transform="translate(311.9025 403.228125) scale(0.12 -0.12)">
       <use href="#DejaVuSans-30"/>
      </g>
     </g>
    </g>
    <g id="xtick_18">
     <g id="line2d_40">
      <g>
       <use href="#m9970c9cf34" x="349.56" y="389.16" style="stroke: #000000; stroke-width: 0.5"/>
      </g>
     </g>
     <g id="line2d_41">
      <g>
       <use href="#ma74727226e" x="349.56" y="43.56" style="stroke: #000000; stroke-width: 0.5"/>
      </g>
     </g>
     <g id="text_32">
      <!-- 50 -->
      <g transform="translate(341.925 403.228125) scale(0.12 -0.12)">
       <use href="#DejaVuSans-35"/>
       <use href="#DejaVuSans-30" transform="translate(63.623047 0)"/>
      </g>
     </g>
    </g>
    <g id="xtick_19">
     <g id="line2d_42">
      <g>
       <use href="#m9970c9cf34" x="383.4" y="389.16" style="stroke: #000000; stroke-width: 0.5"/>
      </g>
     </g>
     <g id="line2d_43">
      <g>
       <use href="#ma74727226e" x="383.4" y="43.56" style="stroke: #000000; stroke-width: 0.5"/>
      </g>
     </g>
     <g id="text_33">
      <!-- 100 -->
      <g transform="translate(371.9475 403.228125) scale(0.12 -0.12)">
       <use href="#DejaVuSans-31"/>
       <use href="#DejaVuSans-30" transform="translate(63.623047 0)"/>
       <use href="#DejaVuSans-30" transform="translate(127.246094 0)"/>
      </g>
     </g>
    </g>
    <g id="xtick_20">
     <g id="line2d_44">
      <g>
       <use href="#m9970c9cf34" x="417.24" y="389.16" style="stroke: #000000; stroke-width: 0.5"/>
      </g>
     </g>
     <g id="line2d_45">
      <g>
       <use href="#ma74727226e" x="417.24" y="43.56" style="stroke: #000000; stroke-width: 0.5"/>
      </g>
     </g>
     <g id="text_34">
      <!-- 150 -->
      <g transform="translate(405.7875 403.228125) scale(0.12 -0.12)">
       <use href="#DejaVuSans-31"/>
       <use href="#DejaVuSans-35" transform="translate(63.623047 0)"/>
       <use href="#DejaVuSans-30" transform="translate(127.246094 0)"/>
      </g>
     </g>
    </g>
    <g id="xtick_21">
     <g id="line2d_46">
      <g>
       <use href="#m9970c9cf34" x="451.08" y="389.16" style="stroke: #000000; stroke-width: 0.5"/>
      </g>
     </g>
     <g id="line2d_47">
      <g>
       <use href="#ma74727226e" x="451.08" y="43.56" style="stroke: #000000; stroke-width: 0.5"/>
      </g>
     </g>
     <g id="text_35">
      <!-- 200 -->
      <g transform="translate(439.6275 403.228125) scale(0.12 -0.12)">
       <use href="#DejaVuSans-32"/>
       <use href="#DejaVuSans-30" transform="translate(63.623047 0)"/>
       <use href="#DejaVuSans-30" transform="translate(127.246094 0)"/>
      </g>
     </g>
    </g>
    <g id="xtick_22">
     <g id="line2d_48">
      <g>
       <use href="#m9970c9cf34" x="484.92" y="389.16" style="stroke: #000000; stroke-width: 0.5"/>
      </g>
     </g>
     <g id="line2d_49">
      <g>
       <use href="#ma74727226e" x="484.92" y="43.56" style="stroke: #000000; stroke-width: 0.5"/>
      </g>
     </g>
     <g id="text_36">
      <!-- 250 -->
      <g transform="translate(473.4675 403.228125) scale(0.12 -0.12)">
       <use href="#DejaVuSans-32"/>
       <use href="#DejaVuSans-35" transform="translate(63.623047 0)"/>
       <use href="#DejaVuSans-30" transform="translate(127.246094 0)"/>
      </g>
     </g>
    </g>
    <g id="xtick_23">
     <g id="line2d_50">
      <g>
       <use href="#m9970c9cf34" x="518.76" y="389.16" style="stroke: #000000; stroke-width: 0.5"/>
      </g>
     </g>
     <g id="line2d_51">
      <g>
       <use href="#ma74727226e" x="518.76" y="43.56" style="stroke: #000000; stroke-width: 0.5"/>
      </g>
     </g>
     <g id="text_37">
      <!-- 300 -->
      <g transform="translate(507.3075 403.228125) scale(0.12 -0.12)">
       <defs>
        <path id="DejaVuSans-33" d="M 2597 2516 
Q 3050 2419 3304 2112 
Q 3559 1806 3559 1356 
Q 3559 666 3084 287 
Q 2609 -91 1734 -91 
Q 1441 -91 1130 -33 
Q 819 25 488 141 
L 488 750 
Q 750 597 1062 519 
Q 1375 441 1716 441 
Q 2309 441 2620 675 
Q 2931 909 2931 1356 
Q 2931 1769 2642 2001 
Q 2353 2234 1838 2234 
L 1294 2234 
L 1294 2753 
L 1863 2753 
Q 2328 2753 2575 2939 
Q 2822 3125 2822 3475 
Q 2822 3834 2567 4026 
Q 2313 4219 1838 4219 
Q 1578 4219 1281 4162 
Q 984 4106 628 3988 
L 628 4550 
Q 988 4650 1302 4700 
Q 1616 4750 1894 4750 
Q 2613 4750 3031 4423 
Q 3450 4097 3450 3541 
Q 3450 3153 3228 2886 
Q 3006 2619 2597 2516 
z
" transform="scale(0.015625)"/>
       </defs>
       <use href="#DejaVuSans-33"/>
       <use href="#DejaVuSans-30" transform="translate(63.623047 0)"/>
       <use href="#DejaVuSans-30" transform="translate(127.246094 0)"/>
      </g>
     </g>
    </g>
    <g id="text_38">
     <!-- number of sources -->
     <g transform="translate(361.178438 420.541875) scale(0.12 -0.12)">
      <use href="#DejaVuSans-6e"/>
      <use href="#DejaVuSans-75" transform="translate(63.378906 0)"/>
      <use href="#DejaVuSans-6d" transform="translate(126.757812 0)"/>
      <use href="#DejaVuSans-62" transform="translate(224.169922 0)"/>
      <use href="#DejaVuSans-65" transform="translate(287.646484 0)"/>
      <use href="#DejaVuSans-72" transform="translate(349.169922 0)"/>
      <use href="#DejaVuSans-20" transform="translate(390.283203 0)"/>
      <use href="#DejaVuSans-6f" transform="translate(422.070312 0)"/>
      <use href="#DejaVuSans-66" transform="translate(483.251953 0)"/>
      <use href="#DejaVuSans-20" transform="translate(518.457031 0)"/>
      <use href="#DejaVuSans-73" transform="translate(550.244141 0)"/>
      <use href="#DejaVuSans-6f" transform="translate(602.34375 0)"/>
      <use href="#DejaVuSans-75" transform="translate(663.525391 0)"/>
      <use href="#DejaVuSans-72" transform="translate(726.904297 0)"/>
      <use href="#DejaVuSans-63" transform="translate(765.767578 0)"/>
      <use href="#DejaVuSans-65" transform="translate(820.748047 0)"/>
      <use href="#DejaVuSans-73" transform="translate(882.271484 0)"/>
     </g>
    </g>
   </g>
   <g id="matplotlib.axis_5">
    <g id="ytick_6">
     <g id="line2d_52">
      <g>
       <use href="#m15b6ba686d" x="315.72" y="389.16" style="stroke: #000000; stroke-width: 0.5"/>
      </g>
     </g>
     <g id="line2d_53">
      <g>
       <use href="#m23530d4d53" x="518.76" y="389.16" style="stroke: #000000; stroke-width: 0.5"/>
      </g>
     </g>
     <g id="text_39">
      <!-- 1.8 -->
      <g transform="translate(293.43625 392.47125) scale(0.12 -0.12)">
       <use href="#DejaVuSans-31"/>
       <use href="#DejaVuSans-2e" transform="translate(63.623047 0)"/>
       <use href="#DejaVuSans-38" transform="translate(95.410156 0)"/>
      </g>
     </g>
    </g>
    <g id="ytick_7">
     <g id="line2d_54">
      <g>
       <use href="#m15b6ba686d" x="315.72" y="350.76" style="stroke: #000000; stroke-width: 0.5"/>
      </g>
     </g>
     <g id="line2d_55">
      <g>
       <use href="#m23530d4d53" x="518.76" y="350.76" style="stroke: #000000; stroke-width: 0.5"/>
      </g>
     </g>
     <g id="text_40">
      <!-- 2.0 -->
      <g transform="translate(293.43625 354.07125) scale(0.12 -0.12)">
       <use href="#DejaVuSans-32"/>
       <use href="#DejaVuSans-2e" transform="translate(63.623047 0)"/>
       <use href="#DejaVuSans-30" transform="translate(95.410156 0)"/>
      </g>
     </g>
    </g>
    <g id="ytick_8">
     <g id="line2d_56">
      <g>
       <use href="#m15b6ba686d" x="315.72" y="312.36" style="stroke: #000000; stroke-width: 0.5"/>
      </g>
     </g>
     <g id="line2d_57">
      <g>
       <use href="#m23530d4d53" x="518.76" y="312.36" style="stroke: #000000; stroke-width: 0.5"/>
      </g>
     </g>
     <g id="text_41">
      <!-- 2.2 -->
      <g transform="translate(293.43625 315.67125) scale(0.12 -0.12)">
       <use href="#DejaVuSans-32"/>
       <use href="#DejaVuSans-2e" transform="translate(63.623047 0)"/>
       <use href="#DejaVuSans-32" transform="translate(95.410156 0)"/>
      </g>
     </g>
    </g>
    <g id="ytick_9">
     <g id="line2d_58">
      <g>
       <use href="#m15b6ba686d" x="315.72" y="273.96" style="stroke: #000000; stroke-width: 0.5"/>
      </g>
     </g>
     <g id="line2d_59">
      <g>
       <use href="#m23530d4d53" x="518.76" y="273.96" style="stroke: #000000; stroke-width: 0.5"/>
      </g>
     </g>
     <g id="text_42">
      <!-- 2.4 -->
      <g transform="translate(293.43625 277.27125) scale(0.12 -0.12)">
       <use href="#DejaVuSans-32"/>
       <use href="#DejaVuSans-2e" transform="translate(63.623047 0)"/>
       <use href="#DejaVuSans-34" transform="translate(95.410156 0)"/>
      </g>
     </g>
    </g>
    <g id="ytick_10">
     <g id="line2d_60">
      <g>
       <use href="#m15b6ba686d" x="315.72" y="235.56" style="stroke: #000000; stroke-width: 0.5"/>
      </g>
     </g>
     <g id="line2d_61">
      <g>
       <use href="#m23530d4d53" x="518.76" y="235.56" style="stroke: #000000; stroke-width: 0.5"/>
      </g>
     </g>
     <g id="text_43">
      <!-- 2.6 -->
      <g transform="translate(293.43625 238.87125) scale(0.12 -0.12)">
       <use href="#DejaVuSans-32"/>
       <use href="#DejaVuSans-2e" transform="translate(63.623047 0)"/>
       <use href="#DejaVuSans-36" transform="translate(95.410156 0)"/>
      </g>
     </g>
    </g>
    <g id="ytick_11">
     <g id="line2d_62">
      <g>
       <use href="#m15b6ba686d" x="315.72" y="197.16" style="stroke: #000000; stroke-width: 0.5"/>
      </g>
     </g>
     <g id="line2d_63">
      <g>
       <use href="#m23530d4d53" x="518.76" y="197.16" style="stroke: #000000; stroke-width: 0.5"/>
      </g>
     </g>
     <g id="text_44">
      <!-- 2.8 -->
      <g transform="translate(293.43625 200.47125) scale(0.12 -0.12)">
       <use href="#DejaVuSans-32"/>
       <use href="#DejaVuSans-2e" transform="translate(63.623047 0)"/>
       <use href="#DejaVuSans-38" transform="translate(95.410156 0)"/>
      </g>
     </g>
    </g>
    <g id="ytick_12">
     <g id="line2d_64">
      <g>
       <use href="#m15b6ba686d" x="315.72" y="158.76" style="stroke: #000000; stroke-width: 0.5"/>
      </g>
     </g>
     <g id="line2d_65">
      <g>
       <use href="#m23530d4d53" x="518.76" y="158.76" style="stroke: #000000; stroke-width: 0.5"/>
      </g>
     </g>
     <g id="text_45">
      <!-- 3.0 -->
      <g transform="translate(293.43625 162.07125) scale(0.12 -0.12)">
       <use href="#DejaVuSans-33"/>
       <use href="#DejaVuSans-2e" transform="translate(63.623047 0)"/>
       <use href="#DejaVuSans-30" transform="translate(95.410156 0)"/>
      </g>
     </g>
    </g>
    <g id="ytick_13">
     <g id="line2d_66">
      <g>
       <use href="#m15b6ba686d" x="315.72" y="120.36" style="stroke: #000000; stroke-width: 0.5"/>
      </g>
     </g>
     <g id="line2d_67">
      <g>
       <use href="#m23530d4d53" x="518.76" y="120.36" style="stroke: #000000; stroke-width: 0.5"/>
      </g>
     </g>
     <g id="text_46">
      <!-- 3.2 -->
      <g transform="translate(293.43625 123.67125) scale(0.12 -0.12)">
       <use href="#DejaVuSans-33"/>
       <use href="#DejaVuSans-2e" transform="translate(63.623047 0)"/>
       <use href="#DejaVuSans-32" transform="translate(95.410156 0)"/>
      </g>
     </g>
    </g>
    <g id="ytick_14">
     <g id="line2d_68">
      <g>
       <use href="#m15b6ba686d" x="315.72" y="81.96" style="stroke: #000000; stroke-width: 0.5"/>
      </g>
     </g>
     <g id="line2d_69">
      <g>
       <use href="#m23530d4d53" x="518.76" y="81.96" style="stroke: #000000; stroke-width: 0.5"/>
      </g>
     </g>
     <g id="text_47">
      <!-- 3.4 -->
      <g transform="translate(293.43625 85.27125) scale(0.12 -0.12)">
       <use href="#DejaVuSans-33"/>
       <use href="#DejaVuSans-2e" transform="translate(63.623047 0)"/>
       <use href="#DejaVuSans-34" transform="translate(95.410156 0)"/>
      </g>
     </g>
    </g>
    <g id="ytick_15">
     <g id="line2d_70">
      <g>
       <use href="#m15b6ba686d" x="315.72" y="43.56" style="stroke: #000000; stroke-width: 0.5"/>
      </g>
     </g>
     <g id="line2d_71">
      <g>
       <use href="#m23530d4d53" x="518.76" y="43.56" style="stroke: #000000; stroke-width: 0.5"/>
      </g>
     </g>
     <g id="text_48">
      <!-- 3.6 -->
      <g transform="translate(293.43625 46.87125) scale(0.12 -0.12)">
       <use href="#DejaVuSans-33"/>
       <use href="#DejaVuSans-2e" transform="translate(63.623047 0)"/>
       <use href="#DejaVuSans-36" transform="translate(95.410156 0)"/>
      </g>
     </g>
    </g>
    <g id="text_49">
     <!-- FWHM of best-effort PSF-like sources -->
     <g transform="translate(284.840625 326.765625) rotate(-90) scale(0.12 -0.12)">
      <use href="#DejaVuSans-46"/>
      <use href="#DejaVuSans-57" transform="translate(57.519531 0)"/>
      <use href="#DejaVuSans-48" transform="translate(156.396484 0)"/>
      <use href="#DejaVuSans-4d" transform="translate(231.591797 0)"/>
      <use href="#DejaVuSans-20" transform="translate(317.871094 0)"/>
      <use href="#DejaVuSans-6f" transform="translate(349.658203 0)"/>
      <use href="#DejaVuSans-66" transform="translate(410.839844 0)"/>
      <use href="#DejaVuSans-20" transform="translate(446.044922 0)"/>
      <use href="#DejaVuSans-62" transform="translate(477.832031 0)"/>
      <use href="#DejaVuSans-65" transform="translate(541.308594 0)"/>
      <use href="#DejaVuSans-73" transform="translate(602.832031 0)"/>
      <use href="#DejaVuSans-74" transform="translate(654.931641 0)"/>
      <use href="#DejaVuSans-2d" transform="translate(694.140625 0)"/>
      <use href="#DejaVuSans-65" transform="translate(730.224609 0)"/>
      <use href="#DejaVuSans-66" transform="translate(791.748047 0)"/>
      <use href="#DejaVuSans-66" transform="translate(826.953125 0)"/>
      <use href="#DejaVuSans-6f" transform="translate(862.158203 0)"/>
      <use href="#DejaVuSans-72" transform="translate(923.339844 0)"/>
      <use href="#DejaVuSans-74" transform="translate(964.453125 0)"/>
      <use href="#DejaVuSans-20" transform="translate(1003.662109 0)"/>
      <use href="#DejaVuSans-50" transform="translate(1035.449219 0)"/>
      <use href="#DejaVuSans-53" transform="translate(1095.751953 0)"/>
      <use href="#DejaVuSans-46" transform="translate(1159.228516 0)"/>
      <use href="#DejaVuSans-2d" transform="translate(1216.748047 0)"/>
      <use href="#DejaVuSans-6c" transform="translate(1252.832031 0)"/>
      <use href="#DejaVuSans-69" transform="translate(1280.615234 0)"/>
      <use href="#DejaVuSans-6b" transform="translate(1308.398438 0)"/>
      <use href="#DejaVuSans-65" transform="translate(1362.683594 0)"/>
      <use href="#DejaVuSans-20" transform="translate(1424.207031 0)"/>
      <use href="#DejaVuSans-73" transform="translate(1455.994141 0)"/>
      <use href="#DejaVuSans-6f" transform="translate(1508.09375 0)"/>
      <use href="#DejaVuSans-75" transform="translate(1569.275391 0)"/>
      <use href="#DejaVuSans-72" transform="translate(1632.654297 0)"/>
      <use href="#DejaVuSans-63" transform="translate(1671.517578 0)"/>
      <use href="#DejaVuSans-65" transform="translate(1726.498047 0)"/>
      <use href="#DejaVuSans-73" transform="translate(1788.021484 0)"/>
     </g>
    </g>
   </g>
   <g id="text_50">
    <!-- histogram of FWHM -->
    <g transform="translate(346.338 38.56) scale(0.144 -0.144)">
     <use href="#DejaVuSans-68"/>
     <use href="#DejaVuSans-69" transform="translate(63.378906 0)"/>
     <use href="#DejaVuSans-73" transform="translate(91.162109 0)"/>
     <use href="#DejaVuSans-74" transform="translate(143.261719 0)"/>
     <use href="#DejaVuSans-6f" transform="translate(182.470703 0)"/>
     <use href="#DejaVuSans-67" transform="translate(243.652344 0)"/>
     <use href="#DejaVuSans-72" transform="translate(307.128906 0)"/>
     <use href="#DejaVuSans-61" transform="translate(348.242188 0)"/>
     <use href="#DejaVuSans-6d" transform="translate(409.521484 0)"/>
     <use href="#DejaVuSans-20" transform="translate(506.933594 0)"/>
     <use href="#DejaVuSans-6f" transform="translate(538.720703 0)"/>
     <use href="#DejaVuSans-66" transform="translate(599.902344 0)"/>
     <use href="#DejaVuSans-20" transform="translate(635.107422 0)"/>
     <use href="#DejaVuSans-46" transform="translate(666.894531 0)"/>
     <use href="#DejaVuSans-57" transform="translate(724.414062 0)"/>
     <use href="#DejaVuSans-48" transform="translate(823.291016 0)"/>
     <use href="#DejaVuSans-4d" transform="translate(898.486328 0)"/>
    </g>
   </g>
  </g>
 </g>
 <defs>
  <clipPath id="p2cc699bf23">
   <rect x="72.36" y="43.56" width="203.04" height="345.6"/>
  </clipPath>
  <clipPath id="p4bda9363e0">
   <rect x="315.72" y="43.56" width="203.04" height="345.6"/>
  </clipPath>
 </defs>
</svg>

</body></html>
